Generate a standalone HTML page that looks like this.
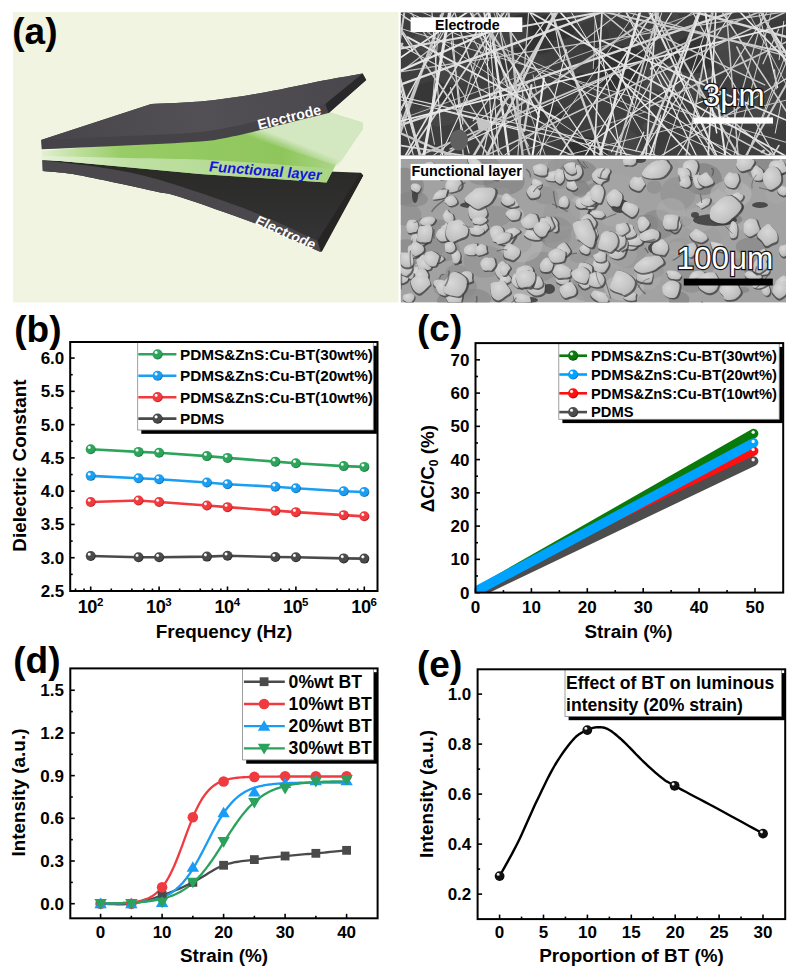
<!DOCTYPE html>
<html><head><meta charset="utf-8"><style>
html,body{margin:0;padding:0;background:#fff;}
svg{display:block;}
text{font-family:"Liberation Sans", sans-serif;}
</style></head><body>
<svg width="797" height="976" viewBox="0 0 797 976">
<defs><radialGradient id="sbg" cx="0.42" cy="0.4" r="0.62" fx="0.33" fy="0.3"><stop offset="0" stop-color="#ffffff"/><stop offset="0.14" stop-color="#ffffff"/><stop offset="0.32" stop-color="#2ca55b"/><stop offset="0.78" stop-color="#2ca55b"/><stop offset="1" stop-color="#17693a"/></radialGradient><radialGradient id="sbb" cx="0.42" cy="0.4" r="0.62" fx="0.33" fy="0.3"><stop offset="0" stop-color="#ffffff"/><stop offset="0.14" stop-color="#ffffff"/><stop offset="0.32" stop-color="#1b9df2"/><stop offset="0.78" stop-color="#1b9df2"/><stop offset="1" stop-color="#0a5d9a"/></radialGradient><radialGradient id="sbr" cx="0.42" cy="0.4" r="0.62" fx="0.33" fy="0.3"><stop offset="0" stop-color="#ffffff"/><stop offset="0.14" stop-color="#ffffff"/><stop offset="0.32" stop-color="#f03a3e"/><stop offset="0.78" stop-color="#f03a3e"/><stop offset="1" stop-color="#a01519"/></radialGradient><radialGradient id="sbk" cx="0.42" cy="0.4" r="0.62" fx="0.33" fy="0.3"><stop offset="0" stop-color="#ffffff"/><stop offset="0.14" stop-color="#ffffff"/><stop offset="0.32" stop-color="#4a4a4a"/><stop offset="0.78" stop-color="#4a4a4a"/><stop offset="1" stop-color="#1a1a1a"/></radialGradient><clipPath id="cpc"><rect x="475.5" y="343.1" width="307.70000000000005" height="249.5"/></clipPath><radialGradient id="sc0" cx="0.42" cy="0.4" r="0.62" fx="0.33" fy="0.3"><stop offset="0" stop-color="#ffffff"/><stop offset="0.14" stop-color="#ffffff"/><stop offset="0.32" stop-color="#0a7a0a"/><stop offset="0.78" stop-color="#0a7a0a"/><stop offset="1" stop-color="#033d03"/></radialGradient><radialGradient id="sc1" cx="0.42" cy="0.4" r="0.62" fx="0.33" fy="0.3"><stop offset="0" stop-color="#ffffff"/><stop offset="0.14" stop-color="#ffffff"/><stop offset="0.32" stop-color="#00a2ff"/><stop offset="0.78" stop-color="#00a2ff"/><stop offset="1" stop-color="#005a99"/></radialGradient><radialGradient id="sc2" cx="0.42" cy="0.4" r="0.62" fx="0.33" fy="0.3"><stop offset="0" stop-color="#ffffff"/><stop offset="0.14" stop-color="#ffffff"/><stop offset="0.32" stop-color="#ff1010"/><stop offset="0.78" stop-color="#ff1010"/><stop offset="1" stop-color="#990000"/></radialGradient><radialGradient id="sc3" cx="0.42" cy="0.4" r="0.62" fx="0.33" fy="0.3"><stop offset="0" stop-color="#ffffff"/><stop offset="0.14" stop-color="#ffffff"/><stop offset="0.32" stop-color="#4d4d4d"/><stop offset="0.78" stop-color="#4d4d4d"/><stop offset="1" stop-color="#1a1a1a"/></radialGradient><radialGradient id="se" cx="0.42" cy="0.4" r="0.62" fx="0.33" fy="0.3"><stop offset="0" stop-color="#f0f0f0"/><stop offset="0.14" stop-color="#f0f0f0"/><stop offset="0.32" stop-color="#111111"/><stop offset="0.78" stop-color="#111111"/><stop offset="1" stop-color="#000000"/></radialGradient><linearGradient id="gsheet" x1="41" y1="0" x2="364" y2="0" gradientUnits="userSpaceOnUse"><stop offset="0" stop-color="#e3f0d3"/><stop offset="0.08" stop-color="#c8e4ab"/><stop offset="0.25" stop-color="#98cc66"/><stop offset="0.75" stop-color="#8fc65c"/><stop offset="0.9" stop-color="#a8d483"/><stop offset="1" stop-color="#c8e3b0"/></linearGradient><linearGradient id="gband" x1="41" y1="0" x2="340" y2="0" gradientUnits="userSpaceOnUse"><stop offset="0" stop-color="#e6f2da"/><stop offset="0.3" stop-color="#bfe0a3"/><stop offset="1" stop-color="#a9d585"/></linearGradient><linearGradient id="gpale" x1="291.5" y1="153" x2="298.5" y2="135" gradientUnits="userSpaceOnUse"><stop offset="0" stop-color="#d3e8c1" stop-opacity="0"/><stop offset="0.6" stop-color="#d3e8c1" stop-opacity="1"/></linearGradient><linearGradient id="gbtop" x1="0" y1="170" x2="0" y2="245" gradientUnits="userSpaceOnUse"><stop offset="0" stop-color="#2a2a27"/><stop offset="1" stop-color="#353437"/></linearGradient><linearGradient id="gttop" x1="40" y1="140" x2="360" y2="80" gradientUnits="userSpaceOnUse"><stop offset="0" stop-color="#47454a"/><stop offset="0.5" stop-color="#525055"/><stop offset="1" stop-color="#49474c"/></linearGradient><clipPath id="cps1"><rect x="400.8" y="12.4" width="385.2" height="143.0"/></clipPath><clipPath id="cps2"><rect x="400.8" y="159.0" width="385.2" height="143.39999999999998"/></clipPath><radialGradient id="gpart" cx="0.4" cy="0.35" r="0.8"><stop offset="0" stop-color="#d8d8d8"/><stop offset="0.6" stop-color="#c4c4c4"/><stop offset="1" stop-color="#b0b0b0"/></radialGradient></defs>
<rect width="797" height="976" fill="#fff"/>
<rect x="13" y="12" width="385.5" height="290.4" fill="#f1f4e1"/>
<polygon points="42.4,160.3 360.7,172.7 363.2,175.6 320.50,252.00 317.84,250.84 314.30,249.30 310.09,247.47 305.41,245.44 300.45,243.28 295.43,241.10 290.55,238.98 286.00,237.00 281.94,235.19 278.24,233.48 274.69,231.81 271.06,230.12 267.15,228.36 262.73,226.45 257.58,224.35 251.50,222.00 243.99,219.22 235.07,215.98 225.22,212.48 214.97,208.88 204.81,205.35 195.26,202.08 186.82,199.24 180.00,197.00 175.02,195.45 171.50,194.44 169.03,193.85 167.20,193.52 165.59,193.31 163.80,193.08 161.40,192.69 158.00,192.00 153.65,191.04 148.78,189.96 143.50,188.80 137.94,187.58 132.21,186.33 126.45,185.08 120.77,183.86 115.30,182.70 109.88,181.55 104.35,180.37 98.76,179.18 93.20,178.01 87.74,176.89 82.45,175.85 77.42,174.91 72.70,174.10 68.15,173.43 63.63,172.87 59.24,172.40 55.09,172.01 51.26,171.69 47.88,171.43 45.02,171.20 42.80,171.00" fill="url(#gbtop)"/>
<polygon points="42.40,160.30 46.44,160.77 51.88,161.38 58.36,162.11 65.53,162.93 73.03,163.81 80.52,164.71 87.62,165.62 94.00,166.50 99.76,167.34 105.29,168.17 110.64,169.01 115.87,169.88 121.03,170.79 126.19,171.76 131.39,172.83 136.70,174.00 141.89,175.21 146.82,176.42 151.65,177.66 156.55,179.00 161.67,180.47 167.18,182.13 173.23,184.03 180.00,186.20 187.63,188.69 196.02,191.46 204.99,194.47 214.33,197.67 223.85,201.00 233.35,204.41 242.63,207.86 251.50,211.30 260.46,214.98 269.93,219.06 279.55,223.34 288.97,227.62 297.83,231.70 305.77,235.40 312.45,238.49 317.50,240.80 320.5,251.7 320.50,252.00 317.84,250.84 314.30,249.30 310.09,247.47 305.41,245.44 300.45,243.28 295.43,241.10 290.55,238.98 286.00,237.00 281.94,235.19 278.24,233.48 274.69,231.81 271.06,230.12 267.15,228.36 262.73,226.45 257.58,224.35 251.50,222.00 243.99,219.22 235.07,215.98 225.22,212.48 214.97,208.88 204.81,205.35 195.26,202.08 186.82,199.24 180.00,197.00 175.02,195.45 171.50,194.44 169.03,193.85 167.20,193.52 165.59,193.31 163.80,193.08 161.40,192.69 158.00,192.00 153.65,191.04 148.78,189.96 143.50,188.80 137.94,187.58 132.21,186.33 126.45,185.08 120.77,183.86 115.30,182.70 109.88,181.55 104.35,180.37 98.76,179.18 93.20,178.01 87.74,176.89 82.45,175.85 77.42,174.91 72.70,174.10 68.15,173.43 63.63,172.87 59.24,172.40 55.09,172.01 51.26,171.69 47.88,171.43 45.02,171.20 42.80,171.00" fill="#4a484d"/>
<polygon points="360.7,172.7 363.2,175.6 321.5,252.3 317.5,240.8" fill="#262523"/>
<path d="M41.7,151.0 L120,144.5 L200,137.5 L256.5,128 L326.5,111.5 L362.6,122.6 L362.6,129.4 L335.5,165.5 L326.5,182.4 L200,174.0 L41.7,159.2 Z" fill="url(#gsheet)"/>
<path d="M240,134 L326.5,111.5 L362.6,122.6 L362.6,129.4 L338,166 Z" fill="url(#gpale)"/>
<path d="M41.7,156.0 C100,157.5 160,158.5 200,159.5 C250,162 300,166 333,169 L326.5,182.4 L200,174.0 L41.7,159.2 Z" fill="url(#gband)"/>
<polygon points="41,140 151.20,103.90 155.55,103.70 161.32,103.47 168.20,103.21 175.84,102.89 183.94,102.50 192.17,102.03 200.19,101.47 207.70,100.80 214.85,100.01 222.04,99.11 229.25,98.11 236.47,97.03 243.70,95.89 250.94,94.69 258.17,93.46 265.40,92.20 272.75,90.86 280.27,89.40 287.88,87.87 295.44,86.30 302.87,84.74 310.04,83.25 316.85,81.85 323.20,80.60 329.27,79.46 335.27,78.36 341.05,77.33 346.51,76.38 351.52,75.51 355.95,74.75 359.69,74.11 362.60,73.60 366.2,79.9 328.70,113.00 325.68,113.74 321.62,114.73 316.79,115.91 311.44,117.22 305.83,118.59 300.22,119.97 294.85,121.30 290.00,122.50 285.52,123.63 281.10,124.75 276.75,125.87 272.49,126.97 268.32,128.04 264.26,129.07 260.32,130.06 256.50,131.00 252.88,131.88 249.46,132.71 246.20,133.50 243.03,134.25 239.89,134.97 236.71,135.66 233.43,136.34 230.00,137.00 226.76,137.64 223.92,138.24 221.20,138.81 218.34,139.36 215.07,139.89 211.10,140.42 206.17,140.96 200.00,141.50 192.38,142.05 183.48,142.61 173.59,143.16 163.02,143.71 152.07,144.25 141.05,144.79 130.26,145.30 120.00,145.80 109.60,146.30 98.47,146.81 87.07,147.32 75.85,147.82 65.25,148.28 55.73,148.69 47.73,149.04 41.70,149.30" fill="#454348"/>
<polygon points="41,140 151.20,103.90 155.55,103.70 161.32,103.47 168.20,103.21 175.84,102.89 183.94,102.50 192.17,102.03 200.19,101.47 207.70,100.80 214.85,100.01 222.04,99.11 229.25,98.11 236.47,97.03 243.70,95.89 250.94,94.69 258.17,93.46 265.40,92.20 272.75,90.86 280.27,89.40 287.88,87.87 295.44,86.30 302.87,84.74 310.04,83.25 316.85,81.85 323.20,80.60 329.27,79.46 335.27,78.36 341.05,77.33 346.51,76.38 351.52,75.51 355.95,74.75 359.69,74.11 362.60,73.60 325.30,104.00 323.48,104.56 321.19,105.29 318.49,106.15 315.40,107.12 311.97,108.17 308.23,109.27 304.23,110.39 300.00,111.50 295.48,112.63 290.60,113.81 285.40,115.04 279.92,116.31 274.20,117.60 268.28,118.91 262.20,120.21 256.00,121.50 249.74,122.83 243.41,124.24 236.93,125.67 230.25,127.11 223.29,128.49 215.97,129.80 208.23,130.98 200.00,132.00 191.14,132.84 181.66,133.52 171.71,134.09 161.44,134.57 150.98,135.00 140.49,135.41 130.12,135.83 120.00,136.30 109.54,136.82 98.33,137.35 86.83,137.89 75.50,138.42 64.79,138.91 55.17,139.35 47.09,139.72 41.00,140.00" fill="url(#gttop)"/>
<polygon points="362.6,73.6 366.2,79.9 328.7,113.0 325.3,104.0" fill="#29282a"/>
<text transform="translate(259.1,129.7) rotate(-14)" font-size="14.2" font-weight="700" fill="#fff">Electrode</text>
<text transform="translate(208.3,171.2) rotate(4.6) skewX(-8)" font-size="14.7" font-weight="700" fill="#1414dc">Functional layer</text>
<text transform="translate(254.0,223.7) rotate(24) skewX(-6)" font-size="14.1" font-weight="700" fill="#fff">Electrode</text>
<rect x="400.8" y="12.4" width="385.2" height="143.0" fill="#3e3e3e"/>
<g clip-path="url(#cps1)">
<ellipse cx="525.5" cy="34.0" rx="22.3" ry="20.3" fill="rgb(42,42,42)" opacity="0.6"/>
<ellipse cx="437.1" cy="95.7" rx="28.0" ry="14.5" fill="rgb(51,51,51)" opacity="0.6"/>
<ellipse cx="567.8" cy="22.4" rx="10.0" ry="5.3" fill="rgb(65,65,65)" opacity="0.6"/>
<ellipse cx="618.6" cy="147.9" rx="21.9" ry="21.3" fill="rgb(75,75,75)" opacity="0.6"/>
<ellipse cx="623.1" cy="69.1" rx="29.5" ry="22.9" fill="rgb(40,40,40)" opacity="0.6"/>
<ellipse cx="452.1" cy="72.3" rx="19.9" ry="13.0" fill="rgb(74,74,74)" opacity="0.6"/>
<ellipse cx="715.2" cy="38.2" rx="20.8" ry="12.4" fill="rgb(78,78,78)" opacity="0.6"/>
<ellipse cx="438.3" cy="114.2" rx="20.4" ry="12.3" fill="rgb(77,77,77)" opacity="0.6"/>
<ellipse cx="662.9" cy="73.5" rx="14.9" ry="14.3" fill="rgb(75,75,75)" opacity="0.6"/>
<ellipse cx="540.1" cy="47.9" rx="12.0" ry="6.5" fill="rgb(53,53,53)" opacity="0.6"/>
<ellipse cx="516.5" cy="83.2" rx="15.6" ry="10.0" fill="rgb(66,66,66)" opacity="0.6"/>
<ellipse cx="778.4" cy="29.3" rx="17.2" ry="9.9" fill="rgb(59,59,59)" opacity="0.6"/>
<ellipse cx="589.1" cy="18.0" rx="22.7" ry="17.9" fill="rgb(73,73,73)" opacity="0.6"/>
<ellipse cx="738.0" cy="57.3" rx="23.3" ry="17.4" fill="rgb(76,76,76)" opacity="0.6"/>
<ellipse cx="707.8" cy="22.2" rx="10.1" ry="7.4" fill="rgb(55,55,55)" opacity="0.6"/>
<ellipse cx="656.6" cy="21.1" rx="23.4" ry="18.5" fill="rgb(79,79,79)" opacity="0.6"/>
<ellipse cx="663.2" cy="76.1" rx="23.8" ry="16.0" fill="rgb(80,80,80)" opacity="0.6"/>
<ellipse cx="763.1" cy="63.2" rx="21.4" ry="11.4" fill="rgb(69,69,69)" opacity="0.6"/>
<ellipse cx="696.7" cy="30.9" rx="13.4" ry="12.9" fill="rgb(63,63,63)" opacity="0.6"/>
<ellipse cx="592.1" cy="36.2" rx="16.8" ry="15.9" fill="rgb(55,55,55)" opacity="0.6"/>
<ellipse cx="716.4" cy="135.9" rx="14.1" ry="14.0" fill="rgb(64,64,64)" opacity="0.6"/>
<ellipse cx="663.8" cy="66.8" rx="13.1" ry="7.7" fill="rgb(43,43,43)" opacity="0.6"/>
<ellipse cx="490.1" cy="45.8" rx="18.7" ry="11.0" fill="rgb(75,75,75)" opacity="0.6"/>
<ellipse cx="509.4" cy="33.2" rx="19.8" ry="15.5" fill="rgb(77,77,77)" opacity="0.6"/>
<ellipse cx="767.9" cy="111.1" rx="19.3" ry="16.0" fill="rgb(77,77,77)" opacity="0.6"/>
<ellipse cx="685.8" cy="77.7" rx="27.2" ry="18.9" fill="rgb(73,73,73)" opacity="0.6"/>
<ellipse cx="554.5" cy="27.2" rx="22.0" ry="13.1" fill="rgb(41,41,41)" opacity="0.6"/>
<ellipse cx="780.1" cy="75.4" rx="10.4" ry="5.5" fill="rgb(76,76,76)" opacity="0.6"/>
<ellipse cx="400.9" cy="34.0" rx="10.2" ry="8.3" fill="rgb(61,61,61)" opacity="0.6"/>
<ellipse cx="427.9" cy="42.1" rx="16.3" ry="10.2" fill="rgb(78,78,78)" opacity="0.6"/>
<ellipse cx="534.6" cy="64.5" rx="10.7" ry="10.7" fill="rgb(69,69,69)" opacity="0.6"/>
<ellipse cx="580.3" cy="81.6" rx="9.9" ry="8.7" fill="rgb(44,44,44)" opacity="0.6"/>
<ellipse cx="686.0" cy="80.8" rx="23.2" ry="11.9" fill="rgb(71,71,71)" opacity="0.6"/>
<ellipse cx="767.1" cy="87.9" rx="11.2" ry="10.7" fill="rgb(72,72,72)" opacity="0.6"/>
<ellipse cx="692.8" cy="55.0" rx="22.1" ry="18.8" fill="rgb(43,43,43)" opacity="0.6"/>
<ellipse cx="501.4" cy="64.8" rx="11.7" ry="8.9" fill="rgb(52,52,52)" opacity="0.6"/>
<ellipse cx="700.9" cy="59.5" rx="12.9" ry="11.7" fill="rgb(50,50,50)" opacity="0.6"/>
<ellipse cx="716.0" cy="118.2" rx="13.0" ry="9.7" fill="rgb(71,71,71)" opacity="0.6"/>
<ellipse cx="682.4" cy="153.9" rx="25.4" ry="16.0" fill="rgb(68,68,68)" opacity="0.6"/>
<ellipse cx="667.6" cy="149.2" rx="17.8" ry="17.4" fill="rgb(60,60,60)" opacity="0.6"/>
<ellipse cx="541.3" cy="43.9" rx="13.0" ry="8.7" fill="rgb(50,50,50)" opacity="0.6"/>
<ellipse cx="586.7" cy="153.3" rx="21.4" ry="15.8" fill="rgb(38,38,38)" opacity="0.6"/>
<ellipse cx="652.3" cy="126.7" rx="9.9" ry="5.5" fill="rgb(80,80,80)" opacity="0.6"/>
<ellipse cx="550.5" cy="114.1" rx="12.4" ry="8.9" fill="rgb(49,49,49)" opacity="0.6"/>
<ellipse cx="645.7" cy="24.8" rx="28.8" ry="21.1" fill="rgb(63,63,63)" opacity="0.6"/>
<line x1="699.3" y1="78.6" x2="700.0" y2="97.8" stroke="rgb(231,231,231)" stroke-width="1.1" stroke-linecap="round"/>
<line x1="772.6" y1="7.4" x2="732.7" y2="160.4" stroke="rgb(193,193,193)" stroke-width="1.1" stroke-linecap="round"/>
<line x1="445.6" y1="7.4" x2="395.8" y2="137.3" stroke="rgb(204,204,204)" stroke-width="1.7" stroke-linecap="round"/>
<line x1="736.9" y1="47.1" x2="760.6" y2="97.1" stroke="rgb(200,200,200)" stroke-width="1.7" stroke-linecap="round"/>
<line x1="746.3" y1="7.4" x2="395.8" y2="126.7" stroke="rgb(218,218,218)" stroke-width="2.4" stroke-linecap="round"/>
<line x1="652.8" y1="7.4" x2="741.1" y2="160.4" stroke="rgb(203,203,203)" stroke-width="2.0" stroke-linecap="round"/>
<line x1="568.5" y1="7.4" x2="658.0" y2="160.4" stroke="rgb(227,227,227)" stroke-width="1.0" stroke-linecap="round"/>
<line x1="444.4" y1="7.4" x2="395.8" y2="145.6" stroke="rgb(195,195,195)" stroke-width="2.4" stroke-linecap="round"/>
<line x1="397.3" y1="7.4" x2="737.0" y2="160.4" stroke="rgb(220,220,220)" stroke-width="1.0" stroke-linecap="round"/>
<line x1="531.5" y1="85.1" x2="524.1" y2="130.9" stroke="rgb(207,207,207)" stroke-width="2.4" stroke-linecap="round"/>
<line x1="791.0" y1="75.6" x2="653.6" y2="160.4" stroke="rgb(220,220,220)" stroke-width="1.2" stroke-linecap="round"/>
<line x1="439.4" y1="18.6" x2="432.0" y2="109.8" stroke="rgb(201,201,201)" stroke-width="1.0" stroke-linecap="round"/>
<line x1="781.1" y1="103.1" x2="775.2" y2="133.1" stroke="rgb(217,217,217)" stroke-width="1.0" stroke-linecap="round"/>
<line x1="677.6" y1="7.4" x2="791.0" y2="38.1" stroke="rgb(217,217,217)" stroke-width="2.4" stroke-linecap="round"/>
<line x1="533.0" y1="74.8" x2="536.4" y2="92.2" stroke="rgb(216,216,216)" stroke-width="0.8" stroke-linecap="round"/>
<line x1="529.0" y1="7.4" x2="517.5" y2="160.4" stroke="rgb(198,198,198)" stroke-width="1.2" stroke-linecap="round"/>
<line x1="474.4" y1="7.4" x2="395.8" y2="60.8" stroke="rgb(235,235,235)" stroke-width="1.7" stroke-linecap="round"/>
<line x1="726.0" y1="7.4" x2="738.5" y2="160.4" stroke="rgb(197,197,197)" stroke-width="1.5" stroke-linecap="round"/>
<line x1="487.7" y1="10.0" x2="488.8" y2="21.0" stroke="rgb(197,197,197)" stroke-width="1.3" stroke-linecap="round"/>
<line x1="659.0" y1="71.3" x2="712.0" y2="159.5" stroke="rgb(231,231,231)" stroke-width="1.3" stroke-linecap="round"/>
<line x1="400.0" y1="29.7" x2="412.7" y2="50.6" stroke="rgb(232,232,232)" stroke-width="1.3" stroke-linecap="round"/>
<line x1="471.7" y1="10.2" x2="488.5" y2="60.5" stroke="rgb(194,194,194)" stroke-width="1.3" stroke-linecap="round"/>
<line x1="405.1" y1="7.4" x2="395.8" y2="67.3" stroke="rgb(198,198,198)" stroke-width="2.0" stroke-linecap="round"/>
<line x1="700.8" y1="7.4" x2="640.1" y2="160.4" stroke="rgb(211,211,211)" stroke-width="2.4" stroke-linecap="round"/>
<line x1="770.0" y1="7.4" x2="674.6" y2="160.4" stroke="rgb(217,217,217)" stroke-width="1.1" stroke-linecap="round"/>
<line x1="656.4" y1="7.4" x2="645.7" y2="160.4" stroke="rgb(224,224,224)" stroke-width="1.7" stroke-linecap="round"/>
<line x1="646.5" y1="7.4" x2="718.9" y2="160.4" stroke="rgb(209,209,209)" stroke-width="1.1" stroke-linecap="round"/>
<line x1="791.0" y1="10.9" x2="395.8" y2="72.6" stroke="rgb(194,194,194)" stroke-width="1.2" stroke-linecap="round"/>
<line x1="791.0" y1="64.1" x2="787.6" y2="160.4" stroke="rgb(209,209,209)" stroke-width="2.0" stroke-linecap="round"/>
<line x1="595.1" y1="21.1" x2="593.3" y2="68.5" stroke="rgb(217,217,217)" stroke-width="0.8" stroke-linecap="round"/>
<line x1="395.8" y1="71.4" x2="420.8" y2="160.4" stroke="rgb(234,234,234)" stroke-width="1.1" stroke-linecap="round"/>
<line x1="791.0" y1="76.2" x2="743.3" y2="160.4" stroke="rgb(201,201,201)" stroke-width="2.0" stroke-linecap="round"/>
<line x1="488.5" y1="7.4" x2="509.4" y2="160.4" stroke="rgb(232,232,232)" stroke-width="2.4" stroke-linecap="round"/>
<line x1="639.1" y1="7.4" x2="533.0" y2="160.4" stroke="rgb(235,235,235)" stroke-width="0.8" stroke-linecap="round"/>
<line x1="403.7" y1="16.8" x2="429.7" y2="31.9" stroke="rgb(198,198,198)" stroke-width="1.5" stroke-linecap="round"/>
<line x1="494.0" y1="7.4" x2="598.7" y2="160.4" stroke="rgb(223,223,223)" stroke-width="1.2" stroke-linecap="round"/>
<line x1="487.8" y1="7.4" x2="499.1" y2="160.4" stroke="rgb(234,234,234)" stroke-width="1.0" stroke-linecap="round"/>
<line x1="674.8" y1="7.4" x2="582.4" y2="160.4" stroke="rgb(238,238,238)" stroke-width="1.2" stroke-linecap="round"/>
<line x1="713.4" y1="7.4" x2="662.0" y2="160.4" stroke="rgb(222,222,222)" stroke-width="1.0" stroke-linecap="round"/>
<line x1="768.6" y1="51.7" x2="777.6" y2="87.5" stroke="rgb(231,231,231)" stroke-width="1.3" stroke-linecap="round"/>
<line x1="623.7" y1="7.4" x2="698.7" y2="160.4" stroke="rgb(235,235,235)" stroke-width="1.2" stroke-linecap="round"/>
<line x1="549.6" y1="7.4" x2="604.1" y2="160.4" stroke="rgb(204,204,204)" stroke-width="2.4" stroke-linecap="round"/>
<line x1="498.2" y1="84.9" x2="481.8" y2="159.6" stroke="rgb(216,216,216)" stroke-width="1.3" stroke-linecap="round"/>
<line x1="450.5" y1="87.6" x2="469.1" y2="153.2" stroke="rgb(230,230,230)" stroke-width="1.1" stroke-linecap="round"/>
<line x1="645.3" y1="111.9" x2="522.0" y2="150.7" stroke="rgb(202,202,202)" stroke-width="0.8" stroke-linecap="round"/>
<line x1="398.3" y1="12.5" x2="398.2" y2="13.0" stroke="rgb(192,192,192)" stroke-width="1.5" stroke-linecap="round"/>
<line x1="553.7" y1="9.2" x2="473.3" y2="120.6" stroke="rgb(215,215,215)" stroke-width="1.3" stroke-linecap="round"/>
<line x1="484.6" y1="7.4" x2="395.8" y2="75.7" stroke="rgb(195,195,195)" stroke-width="1.3" stroke-linecap="round"/>
<line x1="617.7" y1="74.1" x2="769.5" y2="156.0" stroke="rgb(204,204,204)" stroke-width="1.5" stroke-linecap="round"/>
<line x1="716.1" y1="7.4" x2="708.0" y2="160.4" stroke="rgb(227,227,227)" stroke-width="1.7" stroke-linecap="round"/>
<line x1="592.8" y1="7.4" x2="622.1" y2="160.4" stroke="rgb(233,233,233)" stroke-width="1.1" stroke-linecap="round"/>
<line x1="725.7" y1="91.8" x2="694.8" y2="104.5" stroke="rgb(239,239,239)" stroke-width="1.3" stroke-linecap="round"/>
<line x1="713.9" y1="7.4" x2="685.3" y2="160.4" stroke="rgb(199,199,199)" stroke-width="1.7" stroke-linecap="round"/>
<line x1="450.0" y1="7.4" x2="463.7" y2="160.4" stroke="rgb(220,220,220)" stroke-width="1.2" stroke-linecap="round"/>
<line x1="783.8" y1="21.3" x2="779.1" y2="59.7" stroke="rgb(212,212,212)" stroke-width="1.0" stroke-linecap="round"/>
<line x1="507.5" y1="7.4" x2="404.5" y2="160.4" stroke="rgb(216,216,216)" stroke-width="1.7" stroke-linecap="round"/>
<line x1="566.4" y1="49.9" x2="539.7" y2="155.5" stroke="rgb(235,235,235)" stroke-width="1.1" stroke-linecap="round"/>
<line x1="686.3" y1="45.4" x2="650.8" y2="68.6" stroke="rgb(219,219,219)" stroke-width="2.0" stroke-linecap="round"/>
<line x1="770.7" y1="153.6" x2="765.4" y2="158.0" stroke="rgb(229,229,229)" stroke-width="2.0" stroke-linecap="round"/>
<line x1="627.2" y1="7.4" x2="395.8" y2="49.4" stroke="rgb(220,220,220)" stroke-width="2.0" stroke-linecap="round"/>
<line x1="482.4" y1="7.4" x2="531.4" y2="160.4" stroke="rgb(197,197,197)" stroke-width="2.0" stroke-linecap="round"/>
<line x1="610.1" y1="7.4" x2="791.0" y2="57.4" stroke="rgb(200,200,200)" stroke-width="1.3" stroke-linecap="round"/>
<line x1="667.1" y1="53.4" x2="611.4" y2="151.8" stroke="rgb(216,216,216)" stroke-width="1.2" stroke-linecap="round"/>
<line x1="453.2" y1="7.4" x2="500.8" y2="160.4" stroke="rgb(212,212,212)" stroke-width="1.3" stroke-linecap="round"/>
<line x1="660.6" y1="115.2" x2="653.4" y2="154.4" stroke="rgb(195,195,195)" stroke-width="1.3" stroke-linecap="round"/>
<line x1="522.4" y1="135.6" x2="571.4" y2="154.8" stroke="rgb(223,223,223)" stroke-width="1.2" stroke-linecap="round"/>
<line x1="402.2" y1="43.7" x2="400.8" y2="46.5" stroke="rgb(196,196,196)" stroke-width="2.4" stroke-linecap="round"/>
<line x1="451.4" y1="41.3" x2="462.9" y2="123.8" stroke="rgb(198,198,198)" stroke-width="1.3" stroke-linecap="round"/>
<line x1="745.9" y1="7.4" x2="791.0" y2="93.6" stroke="rgb(230,230,230)" stroke-width="0.8" stroke-linecap="round"/>
<line x1="440.5" y1="15.3" x2="440.6" y2="16.6" stroke="rgb(220,220,220)" stroke-width="1.7" stroke-linecap="round"/>
<line x1="596.6" y1="7.4" x2="779.4" y2="160.4" stroke="rgb(204,204,204)" stroke-width="1.5" stroke-linecap="round"/>
<line x1="395.8" y1="144.8" x2="494.0" y2="160.4" stroke="rgb(215,215,215)" stroke-width="1.7" stroke-linecap="round"/>
<line x1="771.3" y1="29.9" x2="787.1" y2="54.8" stroke="rgb(240,240,240)" stroke-width="2.4" stroke-linecap="round"/>
<line x1="395.8" y1="10.6" x2="615.4" y2="160.4" stroke="rgb(237,237,237)" stroke-width="0.8" stroke-linecap="round"/>
<line x1="665.3" y1="7.4" x2="437.0" y2="160.4" stroke="rgb(193,193,193)" stroke-width="2.0" stroke-linecap="round"/>
<line x1="659.9" y1="7.4" x2="614.4" y2="160.4" stroke="rgb(196,196,196)" stroke-width="2.0" stroke-linecap="round"/>
<line x1="719.1" y1="7.4" x2="791.0" y2="118.5" stroke="rgb(209,209,209)" stroke-width="1.5" stroke-linecap="round"/>
<line x1="495.7" y1="7.4" x2="523.7" y2="160.4" stroke="rgb(211,211,211)" stroke-width="1.3" stroke-linecap="round"/>
<line x1="712.2" y1="7.4" x2="395.8" y2="120.8" stroke="rgb(206,206,206)" stroke-width="0.8" stroke-linecap="round"/>
<line x1="490.7" y1="7.4" x2="402.6" y2="160.4" stroke="rgb(223,223,223)" stroke-width="1.7" stroke-linecap="round"/>
<line x1="431.6" y1="7.4" x2="443.0" y2="160.4" stroke="rgb(230,230,230)" stroke-width="1.1" stroke-linecap="round"/>
<line x1="560.1" y1="7.4" x2="470.9" y2="160.4" stroke="rgb(204,204,204)" stroke-width="2.4" stroke-linecap="round"/>
<line x1="557.3" y1="7.4" x2="484.7" y2="160.4" stroke="rgb(212,212,212)" stroke-width="2.4" stroke-linecap="round"/>
<line x1="407.8" y1="7.4" x2="505.7" y2="160.4" stroke="rgb(198,198,198)" stroke-width="1.2" stroke-linecap="round"/>
<line x1="684.6" y1="77.9" x2="588.6" y2="143.8" stroke="rgb(239,239,239)" stroke-width="1.2" stroke-linecap="round"/>
<line x1="486.1" y1="48.4" x2="488.9" y2="50.1" stroke="rgb(239,239,239)" stroke-width="1.3" stroke-linecap="round"/>
<line x1="472.0" y1="36.2" x2="528.7" y2="146.3" stroke="rgb(217,217,217)" stroke-width="1.0" stroke-linecap="round"/>
<line x1="501.8" y1="13.1" x2="470.8" y2="78.4" stroke="rgb(222,222,222)" stroke-width="0.8" stroke-linecap="round"/>
<line x1="765.2" y1="7.4" x2="722.9" y2="160.4" stroke="rgb(199,199,199)" stroke-width="1.2" stroke-linecap="round"/>
<line x1="439.1" y1="109.6" x2="520.8" y2="130.3" stroke="rgb(234,234,234)" stroke-width="1.3" stroke-linecap="round"/>
<line x1="778.7" y1="29.0" x2="763.0" y2="63.8" stroke="rgb(208,208,208)" stroke-width="1.2" stroke-linecap="round"/>
<line x1="791.0" y1="24.1" x2="395.8" y2="122.1" stroke="rgb(235,235,235)" stroke-width="1.7" stroke-linecap="round"/>
<line x1="474.1" y1="7.4" x2="577.1" y2="160.4" stroke="rgb(196,196,196)" stroke-width="2.0" stroke-linecap="round"/>
<line x1="395.8" y1="95.7" x2="677.4" y2="160.4" stroke="rgb(217,217,217)" stroke-width="1.1" stroke-linecap="round"/>
<line x1="647.9" y1="7.4" x2="718.7" y2="160.4" stroke="rgb(239,239,239)" stroke-width="1.3" stroke-linecap="round"/>
<line x1="656.4" y1="7.4" x2="556.6" y2="160.4" stroke="rgb(233,233,233)" stroke-width="1.5" stroke-linecap="round"/>
<line x1="395.8" y1="22.0" x2="492.0" y2="160.4" stroke="rgb(199,199,199)" stroke-width="1.7" stroke-linecap="round"/>
<line x1="787.2" y1="41.5" x2="649.8" y2="106.3" stroke="rgb(197,197,197)" stroke-width="1.7" stroke-linecap="round"/>
<line x1="395.8" y1="98.7" x2="653.0" y2="160.4" stroke="rgb(225,225,225)" stroke-width="1.1" stroke-linecap="round"/>
<line x1="457.2" y1="7.4" x2="395.8" y2="117.5" stroke="rgb(211,211,211)" stroke-width="1.2" stroke-linecap="round"/>
<line x1="630.3" y1="66.7" x2="450.0" y2="149.1" stroke="rgb(232,232,232)" stroke-width="1.1" stroke-linecap="round"/>
<line x1="734.8" y1="7.4" x2="637.4" y2="160.4" stroke="rgb(228,228,228)" stroke-width="1.1" stroke-linecap="round"/>
<line x1="479.9" y1="45.2" x2="459.2" y2="118.3" stroke="rgb(194,194,194)" stroke-width="1.2" stroke-linecap="round"/>
<line x1="521.5" y1="7.4" x2="791.0" y2="159.1" stroke="rgb(230,230,230)" stroke-width="1.7" stroke-linecap="round"/>
<line x1="395.8" y1="42.6" x2="610.3" y2="160.4" stroke="rgb(219,219,219)" stroke-width="1.2" stroke-linecap="round"/>
<line x1="543.9" y1="78.6" x2="532.1" y2="158.3" stroke="rgb(240,240,240)" stroke-width="2.0" stroke-linecap="round"/>
<line x1="791.0" y1="99.0" x2="546.0" y2="160.4" stroke="rgb(200,200,200)" stroke-width="1.0" stroke-linecap="round"/>
<line x1="411.5" y1="7.4" x2="753.0" y2="160.4" stroke="rgb(232,232,232)" stroke-width="0.8" stroke-linecap="round"/>
<line x1="430.2" y1="122.5" x2="434.5" y2="144.3" stroke="rgb(193,193,193)" stroke-width="1.1" stroke-linecap="round"/>
<line x1="623.9" y1="82.7" x2="734.6" y2="157.6" stroke="rgb(235,235,235)" stroke-width="1.1" stroke-linecap="round"/>
<line x1="652.5" y1="7.4" x2="718.8" y2="160.4" stroke="rgb(212,212,212)" stroke-width="1.1" stroke-linecap="round"/>
<line x1="583.8" y1="7.4" x2="791.0" y2="53.7" stroke="rgb(205,205,205)" stroke-width="2.0" stroke-linecap="round"/>
<line x1="618.4" y1="69.1" x2="633.3" y2="104.8" stroke="rgb(235,235,235)" stroke-width="1.3" stroke-linecap="round"/>
<line x1="395.8" y1="27.1" x2="791.0" y2="143.8" stroke="rgb(232,232,232)" stroke-width="0.8" stroke-linecap="round"/>
<line x1="791.0" y1="40.6" x2="745.5" y2="160.4" stroke="rgb(208,208,208)" stroke-width="1.0" stroke-linecap="round"/>
<line x1="778.9" y1="145.5" x2="770.3" y2="160.1" stroke="rgb(213,213,213)" stroke-width="1.5" stroke-linecap="round"/>
<line x1="700.7" y1="46.2" x2="716.7" y2="132.8" stroke="rgb(238,238,238)" stroke-width="1.5" stroke-linecap="round"/>
<line x1="395.8" y1="62.3" x2="421.5" y2="160.4" stroke="rgb(215,215,215)" stroke-width="2.4" stroke-linecap="round"/>
<line x1="757.7" y1="7.8" x2="769.5" y2="56.9" stroke="rgb(225,225,225)" stroke-width="1.0" stroke-linecap="round"/>
<line x1="515.0" y1="80.1" x2="505.3" y2="102.9" stroke="rgb(192,192,192)" stroke-width="1.1" stroke-linecap="round"/>
<line x1="757.5" y1="7.4" x2="791.0" y2="61.4" stroke="rgb(217,217,217)" stroke-width="1.3" stroke-linecap="round"/>
<line x1="704.7" y1="7.4" x2="725.9" y2="160.4" stroke="rgb(230,230,230)" stroke-width="2.0" stroke-linecap="round"/>
<line x1="774.5" y1="69.5" x2="776.3" y2="88.7" stroke="rgb(202,202,202)" stroke-width="1.2" stroke-linecap="round"/>
<line x1="395.8" y1="96.9" x2="415.0" y2="160.4" stroke="rgb(218,218,218)" stroke-width="1.1" stroke-linecap="round"/>
<line x1="509.7" y1="7.4" x2="438.1" y2="160.4" stroke="rgb(224,224,224)" stroke-width="1.1" stroke-linecap="round"/>
<line x1="508.0" y1="7.4" x2="523.1" y2="160.4" stroke="rgb(192,192,192)" stroke-width="2.4" stroke-linecap="round"/>
<line x1="626.8" y1="7.4" x2="426.9" y2="160.4" stroke="rgb(206,206,206)" stroke-width="1.1" stroke-linecap="round"/>
<line x1="763.7" y1="150.8" x2="761.8" y2="151.9" stroke="rgb(208,208,208)" stroke-width="2.4" stroke-linecap="round"/>
<line x1="698.9" y1="7.4" x2="497.8" y2="160.4" stroke="rgb(208,208,208)" stroke-width="1.1" stroke-linecap="round"/>
<line x1="689.9" y1="7.4" x2="777.4" y2="160.4" stroke="rgb(216,216,216)" stroke-width="1.2" stroke-linecap="round"/>
<line x1="614.8" y1="7.4" x2="395.8" y2="86.3" stroke="rgb(222,222,222)" stroke-width="2.4" stroke-linecap="round"/>
<line x1="526.3" y1="7.4" x2="630.0" y2="160.4" stroke="rgb(228,228,228)" stroke-width="1.2" stroke-linecap="round"/>
<line x1="791.0" y1="51.2" x2="744.5" y2="160.4" stroke="rgb(201,201,201)" stroke-width="1.1" stroke-linecap="round"/>
<line x1="396.6" y1="7.4" x2="395.8" y2="13.3" stroke="rgb(193,193,193)" stroke-width="0.8" stroke-linecap="round"/>
<line x1="453.7" y1="7.4" x2="395.8" y2="120.6" stroke="rgb(229,229,229)" stroke-width="1.0" stroke-linecap="round"/>
<line x1="769.7" y1="7.4" x2="407.8" y2="160.4" stroke="rgb(198,198,198)" stroke-width="1.7" stroke-linecap="round"/>
<line x1="483.8" y1="7.4" x2="493.7" y2="160.4" stroke="rgb(240,240,240)" stroke-width="1.0" stroke-linecap="round"/>
<line x1="623.4" y1="7.4" x2="718.2" y2="160.4" stroke="rgb(210,210,210)" stroke-width="1.2" stroke-linecap="round"/>
<line x1="512.6" y1="63.7" x2="539.2" y2="116.9" stroke="rgb(230,230,230)" stroke-width="1.5" stroke-linecap="round"/>
<line x1="602.3" y1="7.4" x2="593.9" y2="160.4" stroke="rgb(225,225,225)" stroke-width="1.7" stroke-linecap="round"/>
<line x1="617.4" y1="15.6" x2="764.7" y2="84.9" stroke="rgb(202,202,202)" stroke-width="1.3" stroke-linecap="round"/>
<line x1="554.4" y1="22.0" x2="561.3" y2="60.6" stroke="rgb(223,223,223)" stroke-width="1.1" stroke-linecap="round"/>
<line x1="643.8" y1="132.1" x2="635.9" y2="151.0" stroke="rgb(223,223,223)" stroke-width="1.2" stroke-linecap="round"/>
<line x1="395.8" y1="131.1" x2="462.7" y2="160.4" stroke="rgb(198,198,198)" stroke-width="2.4" stroke-linecap="round"/>
<line x1="663.2" y1="7.4" x2="618.7" y2="160.4" stroke="rgb(219,219,219)" stroke-width="1.0" stroke-linecap="round"/>
<line x1="759.0" y1="7.4" x2="791.0" y2="72.1" stroke="rgb(202,202,202)" stroke-width="2.4" stroke-linecap="round"/>
<line x1="492.0" y1="7.4" x2="547.1" y2="160.4" stroke="rgb(214,214,214)" stroke-width="0.8" stroke-linecap="round"/>
<line x1="791.0" y1="9.4" x2="475.7" y2="160.4" stroke="rgb(202,202,202)" stroke-width="1.5" stroke-linecap="round"/>
<ellipse cx="459" cy="140" rx="9" ry="10.5" fill="#606060"/>
<polygon points="476,118 490,121.5 487,131 478.5,129.5" fill="#c4c4c4"/>
<line x1="449.6" y1="12.0" x2="423.8" y2="155.4" stroke="#e6e6e6" stroke-width="3.0" stroke-linecap="round"/>
<line x1="400.0" y1="71.0" x2="486.0" y2="33.0" stroke="#e6e6e6" stroke-width="2.2" stroke-linecap="round"/>
<line x1="407.5" y1="37.1" x2="560.0" y2="120.0" stroke="#e6e6e6" stroke-width="1.8" stroke-linecap="round"/>
<line x1="470.0" y1="12.0" x2="520.0" y2="100.0" stroke="#e6e6e6" stroke-width="1.6" stroke-linecap="round"/>
<line x1="640.0" y1="12.0" x2="600.0" y2="155.0" stroke="#e6e6e6" stroke-width="2.6" stroke-linecap="round"/>
<line x1="560.0" y1="12.0" x2="690.0" y2="155.0" stroke="#e6e6e6" stroke-width="1.8" stroke-linecap="round"/>
<line x1="700.0" y1="12.0" x2="650.0" y2="155.0" stroke="#e6e6e6" stroke-width="2.0" stroke-linecap="round"/>
<line x1="740.0" y1="12.0" x2="786.0" y2="60.0" stroke="#e6e6e6" stroke-width="1.6" stroke-linecap="round"/>
<line x1="600.0" y1="40.0" x2="786.0" y2="120.0" stroke="#e6e6e6" stroke-width="1.6" stroke-linecap="round"/>
</g>
<rect x="410.6" y="17.3" width="111.7" height="14.7" fill="#fff"/>
<text x="435.00" y="30.40" font-size="14.2" font-weight="700" text-anchor="start" fill="#000" >Electrode</text>
<rect x="693.4" y="117.4" width="79.6" height="6.2" fill="#fff"/>
<text x="702.8" y="106.4" font-size="31.5" font-weight="400" fill="#fff" stroke="#111" stroke-width="2.4" paint-order="stroke">3μm</text>
<rect x="400.8" y="159.0" width="385.2" height="143.39999999999998" fill="#a2a2a2"/>
<g clip-path="url(#cps2)">
<ellipse cx="579.2" cy="257.8" rx="9.4" ry="5.3" fill="rgb(149,149,149)" opacity="0.6"/>
<ellipse cx="578.8" cy="285.9" rx="9.0" ry="5.7" fill="rgb(144,144,144)" opacity="0.6"/>
<ellipse cx="691.5" cy="277.5" rx="15.5" ry="15.3" fill="rgb(139,139,139)" opacity="0.6"/>
<ellipse cx="679.4" cy="245.5" rx="10.9" ry="7.3" fill="rgb(150,150,150)" opacity="0.6"/>
<ellipse cx="473.7" cy="298.8" rx="17.4" ry="10.1" fill="rgb(133,133,133)" opacity="0.6"/>
<ellipse cx="654.2" cy="187.0" rx="7.6" ry="6.8" fill="rgb(138,138,138)" opacity="0.6"/>
<ellipse cx="683.3" cy="221.4" rx="8.3" ry="5.3" fill="rgb(133,133,133)" opacity="0.6"/>
<ellipse cx="741.8" cy="225.5" rx="5.2" ry="4.4" fill="rgb(175,175,175)" opacity="0.6"/>
<ellipse cx="593.6" cy="249.7" rx="12.9" ry="8.1" fill="rgb(138,138,138)" opacity="0.6"/>
<ellipse cx="685.2" cy="159.8" rx="9.1" ry="7.8" fill="rgb(175,175,175)" opacity="0.6"/>
<ellipse cx="627.1" cy="251.8" rx="19.4" ry="16.3" fill="rgb(149,149,149)" opacity="0.6"/>
<ellipse cx="647.9" cy="224.1" rx="10.3" ry="9.8" fill="rgb(132,132,132)" opacity="0.6"/>
<ellipse cx="494.2" cy="216.4" rx="17.1" ry="10.7" fill="rgb(140,140,140)" opacity="0.6"/>
<ellipse cx="564.0" cy="224.3" rx="15.6" ry="11.8" fill="rgb(172,172,172)" opacity="0.6"/>
<ellipse cx="655.5" cy="284.2" rx="20.2" ry="18.0" fill="rgb(161,161,161)" opacity="0.6"/>
<ellipse cx="550.5" cy="229.2" rx="21.6" ry="13.5" fill="rgb(124,124,124)" opacity="0.6"/>
<ellipse cx="484.7" cy="261.7" rx="21.2" ry="16.1" fill="rgb(145,145,145)" opacity="0.6"/>
<ellipse cx="439.7" cy="241.4" rx="14.2" ry="10.7" fill="rgb(180,180,180)" opacity="0.6"/>
<ellipse cx="647.0" cy="277.9" rx="13.9" ry="12.1" fill="rgb(172,172,172)" opacity="0.6"/>
<ellipse cx="576.8" cy="301.0" rx="8.1" ry="7.2" fill="rgb(185,185,185)" opacity="0.6"/>
<ellipse cx="447.9" cy="300.2" rx="11.0" ry="6.9" fill="rgb(127,127,127)" opacity="0.6"/>
<ellipse cx="547.9" cy="167.8" rx="6.3" ry="5.1" fill="rgb(173,173,173)" opacity="0.6"/>
<ellipse cx="660.8" cy="242.2" rx="6.9" ry="6.0" fill="rgb(158,158,158)" opacity="0.6"/>
<ellipse cx="762.9" cy="234.6" rx="8.7" ry="6.4" fill="rgb(170,170,170)" opacity="0.6"/>
<ellipse cx="464.2" cy="292.3" rx="6.2" ry="4.5" fill="rgb(144,144,144)" opacity="0.6"/>
<ellipse cx="617.3" cy="191.4" rx="21.4" ry="17.8" fill="rgb(165,165,165)" opacity="0.6"/>
<ellipse cx="720.8" cy="273.0" rx="12.0" ry="10.6" fill="rgb(157,157,157)" opacity="0.6"/>
<ellipse cx="651.0" cy="270.8" rx="13.0" ry="8.2" fill="rgb(149,149,149)" opacity="0.6"/>
<ellipse cx="545.7" cy="195.4" rx="12.2" ry="9.1" fill="rgb(143,143,143)" opacity="0.6"/>
<ellipse cx="711.1" cy="273.6" rx="11.1" ry="7.3" fill="rgb(158,158,158)" opacity="0.6"/>
<ellipse cx="587.6" cy="248.4" rx="6.5" ry="3.7" fill="rgb(166,166,166)" opacity="0.6"/>
<ellipse cx="517.6" cy="214.2" rx="6.4" ry="6.1" fill="rgb(192,192,192)" opacity="0.6"/>
<ellipse cx="702.8" cy="179.1" rx="19.1" ry="15.9" fill="rgb(121,121,121)" opacity="0.6"/>
<ellipse cx="481.6" cy="169.3" rx="10.0" ry="7.9" fill="rgb(132,132,132)" opacity="0.6"/>
<ellipse cx="729.8" cy="185.6" rx="12.7" ry="7.7" fill="rgb(139,139,139)" opacity="0.6"/>
<ellipse cx="555.8" cy="235.7" rx="15.4" ry="12.8" fill="rgb(131,131,131)" opacity="0.6"/>
<ellipse cx="745.1" cy="272.0" rx="19.3" ry="14.4" fill="rgb(145,145,145)" opacity="0.6"/>
<ellipse cx="482.9" cy="170.3" rx="19.3" ry="15.0" fill="rgb(134,134,134)" opacity="0.6"/>
<ellipse cx="502.7" cy="192.6" rx="7.4" ry="5.7" fill="rgb(183,183,183)" opacity="0.6"/>
<ellipse cx="587.4" cy="288.8" rx="16.9" ry="12.7" fill="rgb(151,151,151)" opacity="0.6"/>
<ellipse cx="608.6" cy="282.7" rx="5.1" ry="3.8" fill="rgb(161,161,161)" opacity="0.6"/>
<ellipse cx="617.5" cy="254.4" rx="19.3" ry="13.8" fill="rgb(167,167,167)" opacity="0.6"/>
<ellipse cx="786.0" cy="255.9" rx="8.1" ry="6.6" fill="rgb(166,166,166)" opacity="0.6"/>
<ellipse cx="411.8" cy="246.4" rx="16.6" ry="15.0" fill="rgb(162,162,162)" opacity="0.6"/>
<ellipse cx="437.0" cy="228.4" rx="17.9" ry="9.2" fill="rgb(138,138,138)" opacity="0.6"/>
<ellipse cx="677.4" cy="248.7" rx="10.8" ry="7.2" fill="rgb(166,166,166)" opacity="0.6"/>
<ellipse cx="700.7" cy="238.5" rx="20.5" ry="14.7" fill="rgb(156,156,156)" opacity="0.6"/>
<ellipse cx="563.5" cy="238.4" rx="19.1" ry="12.9" fill="rgb(157,157,157)" opacity="0.6"/>
<ellipse cx="591.0" cy="206.9" rx="21.7" ry="14.6" fill="rgb(184,184,184)" opacity="0.6"/>
<ellipse cx="479.2" cy="229.6" rx="7.0" ry="4.6" fill="rgb(144,144,144)" opacity="0.6"/>
<ellipse cx="516.1" cy="243.1" rx="15.8" ry="11.0" fill="rgb(125,125,125)" opacity="0.6"/>
<ellipse cx="614.3" cy="217.2" rx="14.8" ry="9.6" fill="rgb(171,171,171)" opacity="0.6"/>
<ellipse cx="403.2" cy="186.2" rx="20.7" ry="18.5" fill="rgb(127,127,127)" opacity="0.6"/>
<ellipse cx="751.3" cy="246.7" rx="15.5" ry="9.4" fill="rgb(130,130,130)" opacity="0.6"/>
<ellipse cx="657.7" cy="224.7" rx="18.0" ry="14.9" fill="rgb(132,132,132)" opacity="0.6"/>
<ellipse cx="735.6" cy="219.5" rx="6.7" ry="4.6" fill="rgb(121,121,121)" opacity="0.6"/>
<ellipse cx="717.7" cy="271.8" rx="14.6" ry="13.6" fill="rgb(153,153,153)" opacity="0.6"/>
<ellipse cx="472.0" cy="163.9" rx="5.3" ry="4.4" fill="rgb(192,192,192)" opacity="0.6"/>
<ellipse cx="760.5" cy="166.8" rx="14.6" ry="13.4" fill="rgb(125,125,125)" opacity="0.6"/>
<ellipse cx="698.9" cy="219.4" rx="16.8" ry="12.2" fill="rgb(171,171,171)" opacity="0.6"/>
<ellipse cx="406.2" cy="214.5" rx="15.1" ry="11.1" fill="rgb(139,139,139)" opacity="0.6"/>
<ellipse cx="559.7" cy="173.6" rx="16.0" ry="15.1" fill="rgb(147,147,147)" opacity="0.6"/>
<ellipse cx="642.3" cy="220.2" rx="5.2" ry="5.1" fill="rgb(135,135,135)" opacity="0.6"/>
<ellipse cx="731.5" cy="190.3" rx="7.1" ry="3.6" fill="rgb(180,180,180)" opacity="0.6"/>
<ellipse cx="677.9" cy="193.7" rx="17.5" ry="16.8" fill="rgb(143,143,143)" opacity="0.6"/>
<ellipse cx="541.7" cy="266.2" rx="16.8" ry="14.5" fill="rgb(138,138,138)" opacity="0.6"/>
<ellipse cx="433.3" cy="249.1" rx="17.1" ry="14.2" fill="rgb(178,178,178)" opacity="0.6"/>
<ellipse cx="743.6" cy="290.0" rx="5.9" ry="3.0" fill="rgb(124,124,124)" opacity="0.6"/>
<ellipse cx="406.5" cy="252.3" rx="18.9" ry="13.1" fill="rgb(130,130,130)" opacity="0.6"/>
<ellipse cx="521.2" cy="245.1" rx="21.3" ry="17.1" fill="rgb(182,182,182)" opacity="0.6"/>
<ellipse cx="522.6" cy="295.1" rx="17.4" ry="14.6" fill="rgb(180,180,180)" opacity="0.6"/>
<ellipse cx="456.6" cy="273.3" rx="11.2" ry="9.1" fill="rgb(140,140,140)" opacity="0.6"/>
<ellipse cx="561.8" cy="214.3" rx="18.4" ry="16.4" fill="rgb(154,154,154)" opacity="0.6"/>
<ellipse cx="619.1" cy="200.9" rx="6.0" ry="5.6" fill="rgb(162,162,162)" opacity="0.6"/>
<ellipse cx="680.3" cy="161.2" rx="7.6" ry="6.0" fill="rgb(159,159,159)" opacity="0.6"/>
<ellipse cx="776.9" cy="194.3" rx="11.6" ry="9.3" fill="rgb(168,168,168)" opacity="0.6"/>
<ellipse cx="746.0" cy="274.8" rx="9.8" ry="6.5" fill="rgb(120,120,120)" opacity="0.6"/>
<ellipse cx="504.0" cy="181.6" rx="20.7" ry="13.3" fill="rgb(125,125,125)" opacity="0.6"/>
<ellipse cx="455.0" cy="286.7" rx="21.9" ry="13.9" fill="rgb(138,138,138)" opacity="0.6"/>
<ellipse cx="728.7" cy="274.7" rx="16.6" ry="11.2" fill="rgb(183,183,183)" opacity="0.6"/>
<ellipse cx="433.6" cy="238.4" rx="18.6" ry="16.6" fill="rgb(145,145,145)" opacity="0.6"/>
<ellipse cx="679.0" cy="299.9" rx="10.3" ry="8.6" fill="rgb(127,127,127)" opacity="0.6"/>
<ellipse cx="580.0" cy="188.6" rx="9.3" ry="8.4" fill="rgb(121,121,121)" opacity="0.6"/>
<ellipse cx="577.9" cy="171.6" rx="18.7" ry="11.5" fill="rgb(128,128,128)" opacity="0.6"/>
<ellipse cx="624.1" cy="287.6" rx="20.0" ry="13.2" fill="rgb(186,186,186)" opacity="0.6"/>
<ellipse cx="595.8" cy="187.9" rx="8.6" ry="5.1" fill="rgb(131,131,131)" opacity="0.6"/>
<ellipse cx="670.8" cy="211.0" rx="14.6" ry="13.0" fill="rgb(171,171,171)" opacity="0.6"/>
<ellipse cx="730.9" cy="194.3" rx="20.7" ry="14.2" fill="rgb(183,183,183)" opacity="0.6"/>
<ellipse cx="441.7" cy="249.7" rx="18.4" ry="12.1" fill="rgb(139,139,139)" opacity="0.6"/>
<ellipse cx="412.5" cy="199.2" rx="15.3" ry="7.9" fill="rgb(132,132,132)" opacity="0.6"/>
<ellipse cx="444" cy="192" rx="4" ry="3.5" fill="#3a3a3a" opacity="0.85"/>
<ellipse cx="549" cy="289" rx="6" ry="5" fill="#3a3a3a" opacity="0.85"/>
<ellipse cx="501" cy="230" rx="2.5" ry="2" fill="#3a3a3a" opacity="0.85"/>
<ellipse cx="688" cy="174" rx="5" ry="4" fill="#3a3a3a" opacity="0.85"/>
<ellipse cx="620" cy="206" rx="9" ry="7" fill="#3a3a3a" opacity="0.85"/>
<ellipse cx="715" cy="220" rx="22" ry="6" fill="#3a3a3a" opacity="0.85"/>
<ellipse cx="656" cy="248" rx="8" ry="6" fill="#3a3a3a" opacity="0.85"/>
<ellipse cx="470" cy="205" rx="10" ry="3" fill="#3a3a3a" opacity="0.85"/>
<ellipse cx="590" cy="218" rx="3" ry="9" fill="#3a3a3a" opacity="0.85"/>
<ellipse cx="640" cy="160" rx="6" ry="3" fill="#3a3a3a" opacity="0.85"/>
<ellipse cx="760" cy="205" rx="8" ry="3" fill="#3a3a3a" opacity="0.85"/>
<ellipse cx="415" cy="195" rx="3" ry="8" fill="#3a3a3a" opacity="0.85"/>
<ellipse cx="530" cy="300" rx="8" ry="3" fill="#3a3a3a" opacity="0.85"/>
<ellipse cx="460" cy="262" rx="2" ry="2" fill="#3a3a3a" opacity="0.85"/>
<ellipse cx="695" cy="215" rx="4" ry="3" fill="#3a3a3a" opacity="0.85"/>
<g transform="translate(782.3,283.2) rotate(24)"><path transform="translate(0.9,1.2) scale(1.08)" d="M6.6,0.2C6.5,1.4 5.8,2.8 5.2,3.9C4.5,5.1 4.3,6.5 2.7,6.9C1.1,7.3 -2.6,7.1 -4.2,6.4C-5.8,5.7 -6.4,3.8 -6.7,2.5C-6.9,1.2 -6.4,0.2 -5.7,-1.4C-5.0,-2.9 -3.7,-5.9 -2.7,-6.9C-1.6,-7.9 -0.6,-8.0 0.8,-7.4C2.1,-6.8 4.5,-4.6 5.4,-3.3C6.4,-2.0 6.6,-1.0 6.6,0.2Z" fill="#3c3c3c" opacity="0.75"/><path d="M6.6,0.2C6.5,1.4 5.8,2.8 5.2,3.9C4.5,5.1 4.3,6.5 2.7,6.9C1.1,7.3 -2.6,7.1 -4.2,6.4C-5.8,5.7 -6.4,3.8 -6.7,2.5C-6.9,1.2 -6.4,0.2 -5.7,-1.4C-5.0,-2.9 -3.7,-5.9 -2.7,-6.9C-1.6,-7.9 -0.6,-8.0 0.8,-7.4C2.1,-6.8 4.5,-4.6 5.4,-3.3C6.4,-2.0 6.6,-1.0 6.6,0.2Z" fill="url(#gpart)"/></g>
<g transform="translate(501.6,270.7) rotate(6)"><path transform="translate(0.9,1.2) scale(1.08)" d="M6.4,1.5C6.3,3.5 4.6,4.7 3.8,5.9C3.0,7.1 2.6,8.5 1.5,8.7C0.5,9.0 -1.1,8.3 -2.4,7.2C-3.8,6.0 -5.9,3.4 -6.4,1.6C-6.8,-0.1 -5.8,-2.1 -5.3,-3.4C-4.9,-4.8 -4.7,-5.3 -3.8,-6.3C-2.8,-7.4 -1.0,-9.7 0.4,-9.7C1.8,-9.6 3.7,-7.9 4.7,-6.0C5.7,-4.1 6.6,-0.5 6.4,1.5Z" fill="#3c3c3c" opacity="0.75"/><path d="M6.4,1.5C6.3,3.5 4.6,4.7 3.8,5.9C3.0,7.1 2.6,8.5 1.5,8.7C0.5,9.0 -1.1,8.3 -2.4,7.2C-3.8,6.0 -5.9,3.4 -6.4,1.6C-6.8,-0.1 -5.8,-2.1 -5.3,-3.4C-4.9,-4.8 -4.7,-5.3 -3.8,-6.3C-2.8,-7.4 -1.0,-9.7 0.4,-9.7C1.8,-9.6 3.7,-7.9 4.7,-6.0C5.7,-4.1 6.6,-0.5 6.4,1.5Z" fill="url(#gpart)"/></g>
<g transform="translate(696.3,276.4) rotate(-23)"><path transform="translate(0.9,1.2) scale(1.08)" d="M9.0,0.1C9.2,1.1 7.3,1.8 6.4,2.7C5.4,3.5 5.0,5.1 3.3,5.3C1.6,5.6 -2.0,4.7 -3.9,4.2C-5.7,3.6 -7.1,3.0 -7.8,2.1C-8.4,1.3 -8.4,0.0 -7.7,-1.0C-7.1,-2.1 -5.3,-3.6 -3.9,-4.3C-2.6,-5.1 -1.2,-5.6 0.4,-5.4C2.0,-5.3 4.2,-4.5 5.7,-3.6C7.1,-2.6 8.9,-1.0 9.0,0.1Z" fill="#3c3c3c" opacity="0.75"/><path d="M9.0,0.1C9.2,1.1 7.3,1.8 6.4,2.7C5.4,3.5 5.0,5.1 3.3,5.3C1.6,5.6 -2.0,4.7 -3.9,4.2C-5.7,3.6 -7.1,3.0 -7.8,2.1C-8.4,1.3 -8.4,0.0 -7.7,-1.0C-7.1,-2.1 -5.3,-3.6 -3.9,-4.3C-2.6,-5.1 -1.2,-5.6 0.4,-5.4C2.0,-5.3 4.2,-4.5 5.7,-3.6C7.1,-2.6 8.9,-1.0 9.0,0.1Z" fill="url(#gpart)"/></g>
<g transform="translate(415.4,187.8) rotate(20)"><path transform="translate(0.9,1.2) scale(1.08)" d="M5.1,-0.6C5.1,0.5 4.5,2.7 3.9,3.4C3.3,4.2 2.7,3.8 1.5,3.8C0.4,3.8 -1.9,3.8 -2.9,3.3C-4.0,2.8 -4.4,1.5 -4.7,0.6C-5.0,-0.3 -4.8,-1.5 -4.6,-2.1C-4.3,-2.8 -3.9,-3.0 -3.1,-3.4C-2.3,-3.7 -1.1,-4.5 0.2,-4.5C1.4,-4.5 3.4,-4.1 4.2,-3.4C5.0,-2.8 5.2,-1.8 5.1,-0.6Z" fill="#3c3c3c" opacity="0.75"/><path d="M5.1,-0.6C5.1,0.5 4.5,2.7 3.9,3.4C3.3,4.2 2.7,3.8 1.5,3.8C0.4,3.8 -1.9,3.8 -2.9,3.3C-4.0,2.8 -4.4,1.5 -4.7,0.6C-5.0,-0.3 -4.8,-1.5 -4.6,-2.1C-4.3,-2.8 -3.9,-3.0 -3.1,-3.4C-2.3,-3.7 -1.1,-4.5 0.2,-4.5C1.4,-4.5 3.4,-4.1 4.2,-3.4C5.0,-2.8 5.2,-1.8 5.1,-0.6Z" fill="url(#gpart)"/></g>
<g transform="translate(420.4,238.9) rotate(5)"><path transform="translate(0.9,1.2) scale(1.08)" d="M8.2,-0.3C8.0,1.2 7.3,2.8 6.0,3.7C4.6,4.6 2.0,5.0 0.2,5.3C-1.6,5.6 -3.1,5.7 -4.6,5.3C-6.1,4.9 -8.1,4.0 -8.8,2.8C-9.5,1.6 -9.8,-0.6 -9.0,-1.9C-8.2,-3.2 -5.6,-4.4 -4.0,-5.0C-2.3,-5.5 -0.8,-5.2 1.0,-5.2C2.8,-5.2 5.6,-5.8 6.8,-5.0C7.9,-4.2 8.3,-1.7 8.2,-0.3Z" fill="#3c3c3c" opacity="0.75"/><path d="M8.2,-0.3C8.0,1.2 7.3,2.8 6.0,3.7C4.6,4.6 2.0,5.0 0.2,5.3C-1.6,5.6 -3.1,5.7 -4.6,5.3C-6.1,4.9 -8.1,4.0 -8.8,2.8C-9.5,1.6 -9.8,-0.6 -9.0,-1.9C-8.2,-3.2 -5.6,-4.4 -4.0,-5.0C-2.3,-5.5 -0.8,-5.2 1.0,-5.2C2.8,-5.2 5.6,-5.8 6.8,-5.0C7.9,-4.2 8.3,-1.7 8.2,-0.3Z" fill="url(#gpart)"/></g>
<g transform="translate(765.7,289.5) rotate(-11)"><path transform="translate(0.9,1.2) scale(1.08)" d="M4.1,0.4C4.1,1.6 3.9,3.3 3.4,4.2C2.8,5.2 1.6,5.9 0.8,6.2C-0.1,6.4 -0.8,6.5 -1.5,5.9C-2.3,5.3 -3.3,4.0 -3.7,2.6C-4.1,1.2 -4.1,-1.1 -4.0,-2.6C-3.8,-4.1 -3.8,-5.7 -2.8,-6.5C-1.9,-7.2 0.4,-7.8 1.5,-7.3C2.5,-6.7 3.1,-4.4 3.5,-3.1C3.9,-1.8 4.1,-0.8 4.1,0.4Z" fill="#3c3c3c" opacity="0.75"/><path d="M4.1,0.4C4.1,1.6 3.9,3.3 3.4,4.2C2.8,5.2 1.6,5.9 0.8,6.2C-0.1,6.4 -0.8,6.5 -1.5,5.9C-2.3,5.3 -3.3,4.0 -3.7,2.6C-4.1,1.2 -4.1,-1.1 -4.0,-2.6C-3.8,-4.1 -3.8,-5.7 -2.8,-6.5C-1.9,-7.2 0.4,-7.8 1.5,-7.3C2.5,-6.7 3.1,-4.4 3.5,-3.1C3.9,-1.8 4.1,-0.8 4.1,0.4Z" fill="url(#gpart)"/></g>
<g transform="translate(553.9,176.2) rotate(-13)"><path transform="translate(0.9,1.2) scale(1.08)" d="M9.8,-1.0C10.0,0.1 7.7,2.3 6.5,3.3C5.2,4.4 4.0,5.2 2.1,5.2C0.2,5.3 -3.1,4.5 -4.9,3.8C-6.7,3.1 -8.3,1.9 -8.7,1.0C-9.2,0.1 -8.1,-0.9 -7.7,-1.8C-7.4,-2.7 -8.4,-3.9 -6.7,-4.5C-5.0,-5.1 0.7,-5.5 2.7,-5.3C4.6,-5.1 3.9,-4.0 5.1,-3.3C6.3,-2.6 9.6,-2.1 9.8,-1.0Z" fill="#3c3c3c" opacity="0.75"/><path d="M9.8,-1.0C10.0,0.1 7.7,2.3 6.5,3.3C5.2,4.4 4.0,5.2 2.1,5.2C0.2,5.3 -3.1,4.5 -4.9,3.8C-6.7,3.1 -8.3,1.9 -8.7,1.0C-9.2,0.1 -8.1,-0.9 -7.7,-1.8C-7.4,-2.7 -8.4,-3.9 -6.7,-4.5C-5.0,-5.1 0.7,-5.5 2.7,-5.3C4.6,-5.1 3.9,-4.0 5.1,-3.3C6.3,-2.6 9.6,-2.1 9.8,-1.0Z" fill="url(#gpart)"/></g>
<g transform="translate(618.2,250.9) rotate(-20)"><path transform="translate(0.9,1.2) scale(1.08)" d="M8.7,-0.8C8.6,0.4 7.4,2.3 6.3,3.6C5.3,4.9 4.2,6.5 2.4,7.1C0.7,7.7 -2.0,8.0 -4.0,7.2C-6.0,6.4 -8.8,3.9 -9.6,2.4C-10.4,0.9 -9.9,-0.3 -8.9,-1.7C-8.0,-3.1 -5.3,-5.0 -3.9,-6.0C-2.4,-7.0 -2.1,-8.2 -0.3,-7.8C1.6,-7.4 5.8,-4.8 7.3,-3.6C8.8,-2.4 8.9,-2.0 8.7,-0.8Z" fill="#3c3c3c" opacity="0.75"/><path d="M8.7,-0.8C8.6,0.4 7.4,2.3 6.3,3.6C5.3,4.9 4.2,6.5 2.4,7.1C0.7,7.7 -2.0,8.0 -4.0,7.2C-6.0,6.4 -8.8,3.9 -9.6,2.4C-10.4,0.9 -9.9,-0.3 -8.9,-1.7C-8.0,-3.1 -5.3,-5.0 -3.9,-6.0C-2.4,-7.0 -2.1,-8.2 -0.3,-7.8C1.6,-7.4 5.8,-4.8 7.3,-3.6C8.8,-2.4 8.9,-2.0 8.7,-0.8Z" fill="url(#gpart)"/></g>
<g transform="translate(552.2,223.3) rotate(-27)"><path transform="translate(0.9,1.2) scale(1.08)" d="M5.3,1.2C5.3,2.6 4.7,2.6 4.1,3.8C3.5,5.1 2.9,7.9 1.8,8.8C0.8,9.6 -1.3,10.0 -2.3,8.8C-3.4,7.7 -4.0,3.8 -4.3,1.8C-4.7,-0.2 -4.9,-1.7 -4.6,-3.4C-4.2,-5.1 -3.2,-7.9 -2.4,-8.5C-1.5,-9.2 -0.7,-8.0 0.4,-7.3C1.5,-6.5 3.6,-5.5 4.4,-4.1C5.2,-2.7 5.4,-0.1 5.3,1.2Z" fill="#3c3c3c" opacity="0.75"/><path d="M5.3,1.2C5.3,2.6 4.7,2.6 4.1,3.8C3.5,5.1 2.9,7.9 1.8,8.8C0.8,9.6 -1.3,10.0 -2.3,8.8C-3.4,7.7 -4.0,3.8 -4.3,1.8C-4.7,-0.2 -4.9,-1.7 -4.6,-3.4C-4.2,-5.1 -3.2,-7.9 -2.4,-8.5C-1.5,-9.2 -0.7,-8.0 0.4,-7.3C1.5,-6.5 3.6,-5.5 4.4,-4.1C5.2,-2.7 5.4,-0.1 5.3,1.2Z" fill="url(#gpart)"/></g>
<g transform="translate(782.8,190.8) rotate(26)"><path transform="translate(0.9,1.2) scale(1.08)" d="M4.9,0.4C4.7,1.7 3.9,3.3 3.2,3.9C2.5,4.6 1.7,4.2 0.7,4.3C-0.2,4.3 -1.6,4.5 -2.5,4.1C-3.4,3.7 -4.5,2.8 -4.9,2.0C-5.2,1.1 -5.1,-0.1 -4.8,-1.1C-4.5,-2.1 -4.1,-3.6 -3.1,-4.1C-2.1,-4.7 0.0,-4.6 1.2,-4.5C2.4,-4.4 3.5,-4.5 4.1,-3.7C4.7,-2.9 5.0,-0.8 4.9,0.4Z" fill="#3c3c3c" opacity="0.75"/><path d="M4.9,0.4C4.7,1.7 3.9,3.3 3.2,3.9C2.5,4.6 1.7,4.2 0.7,4.3C-0.2,4.3 -1.6,4.5 -2.5,4.1C-3.4,3.7 -4.5,2.8 -4.9,2.0C-5.2,1.1 -5.1,-0.1 -4.8,-1.1C-4.5,-2.1 -4.1,-3.6 -3.1,-4.1C-2.1,-4.7 0.0,-4.6 1.2,-4.5C2.4,-4.4 3.5,-4.5 4.1,-3.7C4.7,-2.9 5.0,-0.8 4.9,0.4Z" fill="url(#gpart)"/></g>
<g transform="translate(536.4,288.5) rotate(8)"><path transform="translate(0.9,1.2) scale(1.08)" d="M8.4,0.1C8.4,1.8 8.6,2.6 7.5,3.7C6.4,4.9 3.5,6.5 1.7,6.9C-0.1,7.3 -1.6,7.0 -3.5,6.2C-5.3,5.4 -8.5,3.5 -9.3,2.2C-10.1,0.9 -8.9,-0.3 -8.1,-1.7C-7.3,-3.2 -6.3,-5.8 -4.4,-6.7C-2.6,-7.6 1.0,-7.1 3.0,-7.0C4.9,-7.0 6.4,-7.4 7.3,-6.2C8.2,-5.0 8.3,-1.5 8.4,0.1Z" fill="#3c3c3c" opacity="0.75"/><path d="M8.4,0.1C8.4,1.8 8.6,2.6 7.5,3.7C6.4,4.9 3.5,6.5 1.7,6.9C-0.1,7.3 -1.6,7.0 -3.5,6.2C-5.3,5.4 -8.5,3.5 -9.3,2.2C-10.1,0.9 -8.9,-0.3 -8.1,-1.7C-7.3,-3.2 -6.3,-5.8 -4.4,-6.7C-2.6,-7.6 1.0,-7.1 3.0,-7.0C4.9,-7.0 6.4,-7.4 7.3,-6.2C8.2,-5.0 8.3,-1.5 8.4,0.1Z" fill="url(#gpart)"/></g>
<g transform="translate(418.9,271.8) rotate(-21)"><path transform="translate(0.9,1.2) scale(1.08)" d="M7.6,0.2C7.7,1.8 6.7,4.2 5.6,5.2C4.4,6.2 2.2,6.0 0.5,6.1C-1.2,6.3 -3.2,6.5 -4.6,5.9C-6.1,5.4 -7.9,4.1 -8.2,2.7C-8.5,1.2 -6.9,-1.4 -6.2,-2.8C-5.6,-4.1 -5.5,-4.9 -4.4,-5.4C-3.3,-5.9 -1.2,-6.1 0.4,-5.9C2.0,-5.7 3.9,-5.4 5.1,-4.4C6.3,-3.4 7.5,-1.4 7.6,0.2Z" fill="#3c3c3c" opacity="0.75"/><path d="M7.6,0.2C7.7,1.8 6.7,4.2 5.6,5.2C4.4,6.2 2.2,6.0 0.5,6.1C-1.2,6.3 -3.2,6.5 -4.6,5.9C-6.1,5.4 -7.9,4.1 -8.2,2.7C-8.5,1.2 -6.9,-1.4 -6.2,-2.8C-5.6,-4.1 -5.5,-4.9 -4.4,-5.4C-3.3,-5.9 -1.2,-6.1 0.4,-5.9C2.0,-5.7 3.9,-5.4 5.1,-4.4C6.3,-3.4 7.5,-1.4 7.6,0.2Z" fill="url(#gpart)"/></g>
<g transform="translate(780.4,167.0) rotate(12)"><path transform="translate(0.9,1.2) scale(1.08)" d="M4.4,-0.1C4.5,1.3 4.6,3.2 4.1,4.4C3.5,5.5 2.0,6.2 1.0,6.5C0.1,6.7 -0.4,6.8 -1.5,5.9C-2.5,5.0 -4.8,2.5 -5.4,1.2C-6.1,0.0 -6.0,-0.0 -5.4,-1.5C-4.7,-2.9 -2.6,-6.2 -1.7,-7.2C-0.8,-8.2 -0.8,-7.9 0.1,-7.5C0.9,-7.0 2.7,-5.7 3.4,-4.4C4.1,-3.2 4.3,-1.6 4.4,-0.1Z" fill="#3c3c3c" opacity="0.75"/><path d="M4.4,-0.1C4.5,1.3 4.6,3.2 4.1,4.4C3.5,5.5 2.0,6.2 1.0,6.5C0.1,6.7 -0.4,6.8 -1.5,5.9C-2.5,5.0 -4.8,2.5 -5.4,1.2C-6.1,0.0 -6.0,-0.0 -5.4,-1.5C-4.7,-2.9 -2.6,-6.2 -1.7,-7.2C-0.8,-8.2 -0.8,-7.9 0.1,-7.5C0.9,-7.0 2.7,-5.7 3.4,-4.4C4.1,-3.2 4.3,-1.6 4.4,-0.1Z" fill="url(#gpart)"/></g>
<g transform="translate(762.6,256.1) rotate(3)"><path transform="translate(0.9,1.2) scale(1.08)" d="M6.5,-1.5C6.5,-0.2 5.5,3.4 4.4,4.8C3.4,6.2 1.1,6.9 0.0,7.1C-1.1,7.2 -1.5,6.3 -2.2,5.6C-2.9,4.9 -3.7,4.2 -4.3,2.7C-5.0,1.2 -6.1,-2.0 -5.8,-3.3C-5.6,-4.6 -4.2,-4.3 -3.0,-4.9C-1.8,-5.6 0.2,-7.6 1.5,-7.3C2.7,-7.0 3.7,-4.0 4.5,-3.0C5.3,-2.0 6.6,-2.8 6.5,-1.5Z" fill="#3c3c3c" opacity="0.75"/><path d="M6.5,-1.5C6.5,-0.2 5.5,3.4 4.4,4.8C3.4,6.2 1.1,6.9 0.0,7.1C-1.1,7.2 -1.5,6.3 -2.2,5.6C-2.9,4.9 -3.7,4.2 -4.3,2.7C-5.0,1.2 -6.1,-2.0 -5.8,-3.3C-5.6,-4.6 -4.2,-4.3 -3.0,-4.9C-1.8,-5.6 0.2,-7.6 1.5,-7.3C2.7,-7.0 3.7,-4.0 4.5,-3.0C5.3,-2.0 6.6,-2.8 6.5,-1.5Z" fill="url(#gpart)"/></g>
<g transform="translate(692.7,174.1) rotate(17)"><path transform="translate(0.9,1.2) scale(1.08)" d="M6.5,0.7C6.2,1.7 5.4,2.0 4.4,2.7C3.3,3.4 1.4,4.5 0.3,4.8C-0.9,5.1 -1.7,5.0 -2.8,4.6C-3.9,4.2 -5.8,3.1 -6.2,2.2C-6.5,1.3 -5.5,0.1 -5.0,-1.0C-4.4,-2.2 -4.2,-4.0 -3.0,-4.7C-1.9,-5.4 0.4,-5.5 1.9,-5.2C3.4,-4.9 5.2,-4.0 6.0,-3.0C6.7,-2.0 6.7,-0.2 6.5,0.7Z" fill="#3c3c3c" opacity="0.75"/><path d="M6.5,0.7C6.2,1.7 5.4,2.0 4.4,2.7C3.3,3.4 1.4,4.5 0.3,4.8C-0.9,5.1 -1.7,5.0 -2.8,4.6C-3.9,4.2 -5.8,3.1 -6.2,2.2C-6.5,1.3 -5.5,0.1 -5.0,-1.0C-4.4,-2.2 -4.2,-4.0 -3.0,-4.7C-1.9,-5.4 0.4,-5.5 1.9,-5.2C3.4,-4.9 5.2,-4.0 6.0,-3.0C6.7,-2.0 6.7,-0.2 6.5,0.7Z" fill="url(#gpart)"/></g>
<g transform="translate(448.6,228.0) rotate(-0)"><path transform="translate(0.9,1.2) scale(1.08)" d="M4.6,-0.0C4.5,1.0 4.8,2.1 4.3,3.0C3.9,3.8 2.9,4.7 1.8,5.0C0.8,5.3 -0.9,5.2 -1.9,4.5C-3.0,3.8 -3.9,1.6 -4.4,0.7C-4.9,-0.2 -5.2,0.0 -5.0,-0.8C-4.8,-1.6 -4.2,-3.5 -3.4,-4.3C-2.5,-5.1 -1.5,-5.8 -0.1,-5.6C1.2,-5.3 4.0,-3.8 4.8,-2.9C5.6,-2.0 4.7,-1.0 4.6,-0.0Z" fill="#3c3c3c" opacity="0.75"/><path d="M4.6,-0.0C4.5,1.0 4.8,2.1 4.3,3.0C3.9,3.8 2.9,4.7 1.8,5.0C0.8,5.3 -0.9,5.2 -1.9,4.5C-3.0,3.8 -3.9,1.6 -4.4,0.7C-4.9,-0.2 -5.2,0.0 -5.0,-0.8C-4.8,-1.6 -4.2,-3.5 -3.4,-4.3C-2.5,-5.1 -1.5,-5.8 -0.1,-5.6C1.2,-5.3 4.0,-3.8 4.8,-2.9C5.6,-2.0 4.7,-1.0 4.6,-0.0Z" fill="url(#gpart)"/></g>
<g transform="translate(455.9,256.2) rotate(-4)"><path transform="translate(0.9,1.2) scale(1.08)" d="M4.6,-0.7C4.7,0.9 3.9,3.3 3.3,4.6C2.7,5.9 2.0,6.6 1.0,6.9C0.0,7.3 -1.9,7.7 -2.7,6.7C-3.5,5.8 -3.6,2.6 -3.9,1.2C-4.1,-0.2 -4.5,-0.7 -4.2,-1.9C-3.9,-3.1 -2.7,-5.4 -2.0,-6.1C-1.3,-6.8 -0.7,-6.5 0.2,-6.3C1.1,-6.1 2.4,-5.9 3.1,-5.0C3.9,-4.1 4.6,-2.3 4.6,-0.7Z" fill="#3c3c3c" opacity="0.75"/><path d="M4.6,-0.7C4.7,0.9 3.9,3.3 3.3,4.6C2.7,5.9 2.0,6.6 1.0,6.9C0.0,7.3 -1.9,7.7 -2.7,6.7C-3.5,5.8 -3.6,2.6 -3.9,1.2C-4.1,-0.2 -4.5,-0.7 -4.2,-1.9C-3.9,-3.1 -2.7,-5.4 -2.0,-6.1C-1.3,-6.8 -0.7,-6.5 0.2,-6.3C1.1,-6.1 2.4,-5.9 3.1,-5.0C3.9,-4.1 4.6,-2.3 4.6,-0.7Z" fill="url(#gpart)"/></g>
<g transform="translate(476.0,164.2) rotate(28)"><path transform="translate(0.9,1.2) scale(1.08)" d="M10.2,0.9C10.2,2.0 8.2,3.6 6.7,4.4C5.2,5.1 3.0,5.3 1.3,5.4C-0.4,5.4 -1.7,5.5 -3.3,4.9C-4.9,4.2 -7.1,2.5 -8.2,1.4C-9.3,0.2 -10.4,-1.1 -9.9,-2.1C-9.3,-3.0 -6.7,-4.0 -4.9,-4.4C-3.1,-4.9 -1.1,-5.0 0.8,-4.6C2.7,-4.2 5.1,-3.1 6.6,-2.1C8.2,-1.2 10.2,-0.2 10.2,0.9Z" fill="#3c3c3c" opacity="0.75"/><path d="M10.2,0.9C10.2,2.0 8.2,3.6 6.7,4.4C5.2,5.1 3.0,5.3 1.3,5.4C-0.4,5.4 -1.7,5.5 -3.3,4.9C-4.9,4.2 -7.1,2.5 -8.2,1.4C-9.3,0.2 -10.4,-1.1 -9.9,-2.1C-9.3,-3.0 -6.7,-4.0 -4.9,-4.4C-3.1,-4.9 -1.1,-5.0 0.8,-4.6C2.7,-4.2 5.1,-3.1 6.6,-2.1C8.2,-1.2 10.2,-0.2 10.2,0.9Z" fill="url(#gpart)"/></g>
<g transform="translate(760.6,283.3) rotate(-19)"><path transform="translate(0.9,1.2) scale(1.08)" d="M8.8,0.3C9.3,1.2 9.3,1.7 8.2,2.4C7.1,3.1 4.2,4.2 2.1,4.5C-0.0,4.8 -2.6,4.5 -4.3,4.0C-6.0,3.5 -7.7,2.2 -8.3,1.4C-8.9,0.6 -8.7,0.2 -7.9,-0.8C-7.1,-1.7 -4.6,-3.6 -3.3,-4.3C-1.9,-5.0 -1.3,-5.3 0.2,-5.1C1.7,-4.8 4.0,-3.7 5.5,-2.8C6.9,-1.9 8.4,-0.6 8.8,0.3Z" fill="#3c3c3c" opacity="0.75"/><path d="M8.8,0.3C9.3,1.2 9.3,1.7 8.2,2.4C7.1,3.1 4.2,4.2 2.1,4.5C-0.0,4.8 -2.6,4.5 -4.3,4.0C-6.0,3.5 -7.7,2.2 -8.3,1.4C-8.9,0.6 -8.7,0.2 -7.9,-0.8C-7.1,-1.7 -4.6,-3.6 -3.3,-4.3C-1.9,-5.0 -1.3,-5.3 0.2,-5.1C1.7,-4.8 4.0,-3.7 5.5,-2.8C6.9,-1.9 8.4,-0.6 8.8,0.3Z" fill="url(#gpart)"/></g>
<g transform="translate(573.1,172.9) rotate(2)"><path transform="translate(0.9,1.2) scale(1.08)" d="M9.1,-0.8C9.0,1.2 7.6,3.5 6.3,4.7C5.0,6.0 3.0,6.4 1.2,6.8C-0.7,7.2 -3.3,7.5 -4.8,7.0C-6.3,6.5 -7.1,5.2 -7.8,3.8C-8.4,2.4 -9.6,0.5 -8.9,-1.4C-8.2,-3.2 -5.4,-6.3 -3.5,-7.4C-1.5,-8.6 0.8,-8.3 2.6,-8.3C4.3,-8.2 6.0,-8.1 7.1,-6.9C8.2,-5.6 9.3,-2.7 9.1,-0.8Z" fill="#3c3c3c" opacity="0.75"/><path d="M9.1,-0.8C9.0,1.2 7.6,3.5 6.3,4.7C5.0,6.0 3.0,6.4 1.2,6.8C-0.7,7.2 -3.3,7.5 -4.8,7.0C-6.3,6.5 -7.1,5.2 -7.8,3.8C-8.4,2.4 -9.6,0.5 -8.9,-1.4C-8.2,-3.2 -5.4,-6.3 -3.5,-7.4C-1.5,-8.6 0.8,-8.3 2.6,-8.3C4.3,-8.2 6.0,-8.1 7.1,-6.9C8.2,-5.6 9.3,-2.7 9.1,-0.8Z" fill="url(#gpart)"/></g>
<g transform="translate(642.8,223.9) rotate(13)"><path transform="translate(0.9,1.2) scale(1.08)" d="M6.7,-1.4C6.6,0.1 5.5,2.7 4.3,4.2C3.2,5.8 1.2,7.7 -0.1,7.9C-1.3,8.2 -2.4,6.6 -3.2,5.5C-4.0,4.4 -4.7,2.8 -5.1,1.6C-5.5,0.3 -5.9,-0.5 -5.7,-1.8C-5.6,-3.1 -5.2,-5.1 -4.2,-6.0C-3.2,-7.0 -1.2,-7.5 0.3,-7.2C1.9,-7.0 3.8,-5.4 4.9,-4.4C6.0,-3.4 6.8,-2.8 6.7,-1.4Z" fill="#3c3c3c" opacity="0.75"/><path d="M6.7,-1.4C6.6,0.1 5.5,2.7 4.3,4.2C3.2,5.8 1.2,7.7 -0.1,7.9C-1.3,8.2 -2.4,6.6 -3.2,5.5C-4.0,4.4 -4.7,2.8 -5.1,1.6C-5.5,0.3 -5.9,-0.5 -5.7,-1.8C-5.6,-3.1 -5.2,-5.1 -4.2,-6.0C-3.2,-7.0 -1.2,-7.5 0.3,-7.2C1.9,-7.0 3.8,-5.4 4.9,-4.4C6.0,-3.4 6.8,-2.8 6.7,-1.4Z" fill="url(#gpart)"/></g>
<g transform="translate(584.7,249.1) rotate(23)"><path transform="translate(0.9,1.2) scale(1.08)" d="M5.7,0.3C5.9,1.5 5.3,3.0 4.3,3.7C3.4,4.4 1.3,4.3 0.1,4.4C-1.1,4.4 -1.9,4.3 -2.8,3.8C-3.7,3.3 -5.0,2.2 -5.2,1.3C-5.4,0.3 -4.3,-1.0 -3.9,-2.0C-3.6,-2.9 -4.0,-3.9 -3.0,-4.4C-2.0,-4.9 0.8,-5.0 1.9,-4.9C2.9,-4.8 2.7,-4.8 3.4,-3.9C4.0,-3.0 5.5,-1.0 5.7,0.3Z" fill="#3c3c3c" opacity="0.75"/><path d="M5.7,0.3C5.9,1.5 5.3,3.0 4.3,3.7C3.4,4.4 1.3,4.3 0.1,4.4C-1.1,4.4 -1.9,4.3 -2.8,3.8C-3.7,3.3 -5.0,2.2 -5.2,1.3C-5.4,0.3 -4.3,-1.0 -3.9,-2.0C-3.6,-2.9 -4.0,-3.9 -3.0,-4.4C-2.0,-4.9 0.8,-5.0 1.9,-4.9C2.9,-4.8 2.7,-4.8 3.4,-3.9C4.0,-3.0 5.5,-1.0 5.7,0.3Z" fill="url(#gpart)"/></g>
<g transform="translate(422.7,261.3) rotate(-24)"><path transform="translate(0.9,1.2) scale(1.08)" d="M7.9,0.1C8.2,1.1 8.2,2.0 7.0,2.7C5.8,3.3 2.3,3.9 0.7,4.1C-0.9,4.4 -1.4,4.6 -2.8,4.1C-4.1,3.6 -6.7,1.8 -7.2,1.0C-7.8,0.2 -6.3,0.1 -5.9,-0.7C-5.6,-1.5 -6.0,-3.2 -5.0,-3.9C-3.9,-4.5 -1.4,-4.7 0.4,-4.6C2.1,-4.5 4.2,-4.2 5.4,-3.4C6.7,-2.6 7.7,-0.9 7.9,0.1Z" fill="#3c3c3c" opacity="0.75"/><path d="M7.9,0.1C8.2,1.1 8.2,2.0 7.0,2.7C5.8,3.3 2.3,3.9 0.7,4.1C-0.9,4.4 -1.4,4.6 -2.8,4.1C-4.1,3.6 -6.7,1.8 -7.2,1.0C-7.8,0.2 -6.3,0.1 -5.9,-0.7C-5.6,-1.5 -6.0,-3.2 -5.0,-3.9C-3.9,-4.5 -1.4,-4.7 0.4,-4.6C2.1,-4.5 4.2,-4.2 5.4,-3.4C6.7,-2.6 7.7,-0.9 7.9,0.1Z" fill="url(#gpart)"/></g>
<g transform="translate(736.2,197.2) rotate(-7)"><path transform="translate(0.9,1.2) scale(1.08)" d="M7.3,-0.7C7.3,0.3 6.4,2.2 5.2,3.2C4.1,4.2 1.6,5.1 0.4,5.3C-0.8,5.4 -1.0,4.7 -2.0,4.1C-3.0,3.6 -5.0,3.3 -5.8,2.2C-6.5,1.1 -6.6,-1.5 -6.3,-2.4C-6.0,-3.3 -5.2,-2.8 -3.8,-3.1C-2.4,-3.5 0.6,-4.7 2.1,-4.7C3.5,-4.7 3.9,-3.7 4.8,-3.1C5.6,-2.4 7.2,-1.8 7.3,-0.7Z" fill="#3c3c3c" opacity="0.75"/><path d="M7.3,-0.7C7.3,0.3 6.4,2.2 5.2,3.2C4.1,4.2 1.6,5.1 0.4,5.3C-0.8,5.4 -1.0,4.7 -2.0,4.1C-3.0,3.6 -5.0,3.3 -5.8,2.2C-6.5,1.1 -6.6,-1.5 -6.3,-2.4C-6.0,-3.3 -5.2,-2.8 -3.8,-3.1C-2.4,-3.5 0.6,-4.7 2.1,-4.7C3.5,-4.7 3.9,-3.7 4.8,-3.1C5.6,-2.4 7.2,-1.8 7.3,-0.7Z" fill="url(#gpart)"/></g>
<g transform="translate(505.2,279.4) rotate(-21)"><path transform="translate(0.9,1.2) scale(1.08)" d="M5.8,0.6C5.8,1.8 4.8,3.0 4.2,3.6C3.5,4.2 3.1,3.9 1.9,4.1C0.8,4.3 -1.6,5.3 -2.7,4.8C-3.9,4.3 -4.4,2.2 -4.9,1.2C-5.4,0.2 -5.9,-0.1 -5.6,-0.9C-5.3,-1.8 -4.2,-3.5 -3.2,-4.1C-2.1,-4.6 -0.4,-4.4 0.7,-4.3C1.9,-4.3 3.0,-4.5 3.9,-3.7C4.7,-2.9 5.7,-0.6 5.8,0.6Z" fill="#3c3c3c" opacity="0.75"/><path d="M5.8,0.6C5.8,1.8 4.8,3.0 4.2,3.6C3.5,4.2 3.1,3.9 1.9,4.1C0.8,4.3 -1.6,5.3 -2.7,4.8C-3.9,4.3 -4.4,2.2 -4.9,1.2C-5.4,0.2 -5.9,-0.1 -5.6,-0.9C-5.3,-1.8 -4.2,-3.5 -3.2,-4.1C-2.1,-4.6 -0.4,-4.4 0.7,-4.3C1.9,-4.3 3.0,-4.5 3.9,-3.7C4.7,-2.9 5.7,-0.6 5.8,0.6Z" fill="url(#gpart)"/></g>
<g transform="translate(589.9,204.6) rotate(-10)"><path transform="translate(0.9,1.2) scale(1.08)" d="M8.8,-0.8C8.2,0.1 5.8,2.0 4.9,2.9C3.9,3.8 4.4,4.3 3.0,4.4C1.6,4.6 -1.7,4.2 -3.5,3.7C-5.3,3.2 -7.1,2.3 -7.9,1.4C-8.7,0.5 -9.3,-0.6 -8.6,-1.6C-7.8,-2.7 -5.0,-4.4 -3.5,-4.8C-2.1,-5.3 -2.1,-4.9 -0.1,-4.5C1.9,-4.2 7.0,-3.4 8.5,-2.8C10.0,-2.1 9.4,-1.8 8.8,-0.8Z" fill="#3c3c3c" opacity="0.75"/><path d="M8.8,-0.8C8.2,0.1 5.8,2.0 4.9,2.9C3.9,3.8 4.4,4.3 3.0,4.4C1.6,4.6 -1.7,4.2 -3.5,3.7C-5.3,3.2 -7.1,2.3 -7.9,1.4C-8.7,0.5 -9.3,-0.6 -8.6,-1.6C-7.8,-2.7 -5.0,-4.4 -3.5,-4.8C-2.1,-5.3 -2.1,-4.9 -0.1,-4.5C1.9,-4.2 7.0,-3.4 8.5,-2.8C10.0,-2.1 9.4,-1.8 8.8,-0.8Z" fill="url(#gpart)"/></g>
<g transform="translate(777.8,167.2) rotate(16)"><path transform="translate(0.9,1.2) scale(1.08)" d="M9.4,0.4C9.6,1.9 8.2,2.7 6.7,3.9C5.2,5.1 2.7,7.6 0.6,7.9C-1.6,8.2 -4.6,6.5 -6.2,5.7C-7.7,4.9 -8.6,4.6 -8.9,3.2C-9.3,1.7 -9.0,-1.5 -8.2,-3.0C-7.3,-4.5 -5.5,-5.3 -3.9,-5.9C-2.2,-6.5 0.1,-6.8 1.7,-6.7C3.3,-6.5 4.2,-6.3 5.5,-5.1C6.8,-3.9 9.2,-1.1 9.4,0.4Z" fill="#3c3c3c" opacity="0.75"/><path d="M9.4,0.4C9.6,1.9 8.2,2.7 6.7,3.9C5.2,5.1 2.7,7.6 0.6,7.9C-1.6,8.2 -4.6,6.5 -6.2,5.7C-7.7,4.9 -8.6,4.6 -8.9,3.2C-9.3,1.7 -9.0,-1.5 -8.2,-3.0C-7.3,-4.5 -5.5,-5.3 -3.9,-5.9C-2.2,-6.5 0.1,-6.8 1.7,-6.7C3.3,-6.5 4.2,-6.3 5.5,-5.1C6.8,-3.9 9.2,-1.1 9.4,0.4Z" fill="url(#gpart)"/></g>
<g transform="translate(482.1,227.5) rotate(-11)"><path transform="translate(0.9,1.2) scale(1.08)" d="M5.7,1.0C5.7,2.1 5.0,2.2 4.3,2.8C3.6,3.4 2.6,4.5 1.5,4.6C0.5,4.8 -0.6,4.6 -1.8,4.0C-3.0,3.3 -5.0,1.9 -5.6,1.0C-6.3,0.1 -6.1,-0.9 -5.7,-1.7C-5.2,-2.5 -3.9,-3.2 -3.0,-3.7C-2.0,-4.2 -1.2,-4.7 0.0,-4.8C1.2,-4.8 3.6,-4.8 4.5,-3.8C5.5,-2.9 5.7,-0.1 5.7,1.0Z" fill="#3c3c3c" opacity="0.75"/><path d="M5.7,1.0C5.7,2.1 5.0,2.2 4.3,2.8C3.6,3.4 2.6,4.5 1.5,4.6C0.5,4.8 -0.6,4.6 -1.8,4.0C-3.0,3.3 -5.0,1.9 -5.6,1.0C-6.3,0.1 -6.1,-0.9 -5.7,-1.7C-5.2,-2.5 -3.9,-3.2 -3.0,-3.7C-2.0,-4.2 -1.2,-4.7 0.0,-4.8C1.2,-4.8 3.6,-4.8 4.5,-3.8C5.5,-2.9 5.7,-0.1 5.7,1.0Z" fill="url(#gpart)"/></g>
<g transform="translate(478.5,211.2) rotate(3)"><path transform="translate(0.9,1.2) scale(1.08)" d="M9.0,1.4C9.1,3.4 7.4,5.8 6.4,6.8C5.4,7.7 4.9,7.0 2.9,7.3C0.8,7.6 -3.8,9.1 -5.9,8.5C-8.0,7.9 -8.9,5.7 -9.6,3.7C-10.3,1.8 -10.8,-1.3 -10.2,-3.1C-9.6,-4.8 -8.3,-5.8 -6.1,-6.6C-3.9,-7.3 1.0,-7.8 2.9,-7.6C4.9,-7.3 4.6,-6.7 5.7,-5.2C6.7,-3.7 8.8,-0.6 9.0,1.4Z" fill="#3c3c3c" opacity="0.75"/><path d="M9.0,1.4C9.1,3.4 7.4,5.8 6.4,6.8C5.4,7.7 4.9,7.0 2.9,7.3C0.8,7.6 -3.8,9.1 -5.9,8.5C-8.0,7.9 -8.9,5.7 -9.6,3.7C-10.3,1.8 -10.8,-1.3 -10.2,-3.1C-9.6,-4.8 -8.3,-5.8 -6.1,-6.6C-3.9,-7.3 1.0,-7.8 2.9,-7.6C4.9,-7.3 4.6,-6.7 5.7,-5.2C6.7,-3.7 8.8,-0.6 9.0,1.4Z" fill="url(#gpart)"/></g>
<g transform="translate(757.1,173.0) rotate(-20)"><path transform="translate(0.9,1.2) scale(1.08)" d="M6.2,-0.8C6.4,0.8 5.5,2.9 4.7,4.4C4.0,5.8 3.2,7.7 1.8,8.1C0.3,8.5 -2.6,7.4 -3.8,6.7C-5.0,6.0 -5.4,5.8 -5.6,4.0C-5.9,2.2 -5.5,-2.5 -5.2,-4.3C-5.0,-6.1 -5.3,-6.4 -4.1,-6.9C-3.0,-7.4 0.5,-7.6 1.8,-7.3C3.0,-7.1 2.7,-6.5 3.5,-5.5C4.2,-4.4 6.0,-2.4 6.2,-0.8Z" fill="#3c3c3c" opacity="0.75"/><path d="M6.2,-0.8C6.4,0.8 5.5,2.9 4.7,4.4C4.0,5.8 3.2,7.7 1.8,8.1C0.3,8.5 -2.6,7.4 -3.8,6.7C-5.0,6.0 -5.4,5.8 -5.6,4.0C-5.9,2.2 -5.5,-2.5 -5.2,-4.3C-5.0,-6.1 -5.3,-6.4 -4.1,-6.9C-3.0,-7.4 0.5,-7.6 1.8,-7.3C3.0,-7.1 2.7,-6.5 3.5,-5.5C4.2,-4.4 6.0,-2.4 6.2,-0.8Z" fill="url(#gpart)"/></g>
<g transform="translate(422.9,263.2) rotate(2)"><path transform="translate(0.9,1.2) scale(1.08)" d="M6.1,1.3C5.9,3.1 4.2,4.6 3.4,5.9C2.7,7.2 2.6,8.8 1.5,9.0C0.4,9.1 -2.0,8.0 -3.1,6.9C-4.3,5.8 -4.9,3.6 -5.3,2.2C-5.7,0.8 -5.8,0.1 -5.6,-1.4C-5.4,-2.9 -5.0,-5.6 -4.0,-6.8C-2.9,-8.0 -0.7,-8.8 0.6,-8.5C2.0,-8.1 3.4,-6.4 4.3,-4.8C5.2,-3.2 6.2,-0.4 6.1,1.3Z" fill="#3c3c3c" opacity="0.75"/><path d="M6.1,1.3C5.9,3.1 4.2,4.6 3.4,5.9C2.7,7.2 2.6,8.8 1.5,9.0C0.4,9.1 -2.0,8.0 -3.1,6.9C-4.3,5.8 -4.9,3.6 -5.3,2.2C-5.7,0.8 -5.8,0.1 -5.6,-1.4C-5.4,-2.9 -5.0,-5.6 -4.0,-6.8C-2.9,-8.0 -0.7,-8.8 0.6,-8.5C2.0,-8.1 3.4,-6.4 4.3,-4.8C5.2,-3.2 6.2,-0.4 6.1,1.3Z" fill="url(#gpart)"/></g>
<g transform="translate(407.0,274.7) rotate(-2)"><path transform="translate(0.9,1.2) scale(1.08)" d="M6.9,-1.0C7.0,0.1 6.1,2.6 5.4,3.5C4.6,4.4 3.6,4.4 2.2,4.4C0.8,4.4 -2.2,3.9 -3.3,3.5C-4.5,3.1 -4.2,2.7 -4.7,2.0C-5.3,1.2 -6.6,-0.0 -6.5,-1.0C-6.5,-2.0 -5.5,-3.3 -4.3,-3.9C-3.1,-4.4 -0.6,-4.7 0.9,-4.5C2.4,-4.4 3.9,-3.4 4.9,-2.8C5.9,-2.2 6.8,-2.0 6.9,-1.0Z" fill="#3c3c3c" opacity="0.75"/><path d="M6.9,-1.0C7.0,0.1 6.1,2.6 5.4,3.5C4.6,4.4 3.6,4.4 2.2,4.4C0.8,4.4 -2.2,3.9 -3.3,3.5C-4.5,3.1 -4.2,2.7 -4.7,2.0C-5.3,1.2 -6.6,-0.0 -6.5,-1.0C-6.5,-2.0 -5.5,-3.3 -4.3,-3.9C-3.1,-4.4 -0.6,-4.7 0.9,-4.5C2.4,-4.4 3.9,-3.4 4.9,-2.8C5.9,-2.2 6.8,-2.0 6.9,-1.0Z" fill="url(#gpart)"/></g>
<g transform="translate(401.5,278.3) rotate(9)"><path transform="translate(0.9,1.2) scale(1.08)" d="M6.7,0.2C6.5,1.2 5.6,2.3 4.6,3.1C3.6,3.9 2.1,5.0 0.7,5.1C-0.7,5.2 -2.5,4.2 -3.9,3.5C-5.4,2.9 -7.6,2.1 -8.0,1.3C-8.4,0.5 -6.9,-0.4 -6.2,-1.4C-5.6,-2.4 -5.1,-4.3 -4.0,-4.7C-2.9,-5.1 -1.5,-4.2 0.2,-3.9C1.8,-3.7 4.6,-3.9 5.7,-3.2C6.8,-2.5 6.9,-0.9 6.7,0.2Z" fill="#3c3c3c" opacity="0.75"/><path d="M6.7,0.2C6.5,1.2 5.6,2.3 4.6,3.1C3.6,3.9 2.1,5.0 0.7,5.1C-0.7,5.2 -2.5,4.2 -3.9,3.5C-5.4,2.9 -7.6,2.1 -8.0,1.3C-8.4,0.5 -6.9,-0.4 -6.2,-1.4C-5.6,-2.4 -5.1,-4.3 -4.0,-4.7C-2.9,-5.1 -1.5,-4.2 0.2,-3.9C1.8,-3.7 4.6,-3.9 5.7,-3.2C6.8,-2.5 6.9,-0.9 6.7,0.2Z" fill="url(#gpart)"/></g>
<g transform="translate(568.5,289.8) rotate(16)"><path transform="translate(0.9,1.2) scale(1.08)" d="M6.4,-0.4C6.5,0.7 5.7,3.0 4.9,4.0C4.1,4.9 2.6,5.1 1.5,5.3C0.4,5.5 -0.6,5.7 -1.7,5.3C-2.8,4.8 -4.5,3.5 -5.2,2.3C-6.0,1.1 -6.6,-0.5 -6.1,-1.7C-5.7,-2.9 -3.7,-4.0 -2.6,-4.9C-1.6,-5.8 -0.9,-7.5 0.3,-7.1C1.4,-6.8 3.2,-4.1 4.2,-3.0C5.2,-1.8 6.2,-1.6 6.4,-0.4Z" fill="#3c3c3c" opacity="0.75"/><path d="M6.4,-0.4C6.5,0.7 5.7,3.0 4.9,4.0C4.1,4.9 2.6,5.1 1.5,5.3C0.4,5.5 -0.6,5.7 -1.7,5.3C-2.8,4.8 -4.5,3.5 -5.2,2.3C-6.0,1.1 -6.6,-0.5 -6.1,-1.7C-5.7,-2.9 -3.7,-4.0 -2.6,-4.9C-1.6,-5.8 -0.9,-7.5 0.3,-7.1C1.4,-6.8 3.2,-4.1 4.2,-3.0C5.2,-1.8 6.2,-1.6 6.4,-0.4Z" fill="url(#gpart)"/></g>
<g transform="translate(454.0,184.8) rotate(-28)"><path transform="translate(0.9,1.2) scale(1.08)" d="M7.6,0.7C7.6,2.6 6.4,4.7 5.2,5.7C4.1,6.7 2.6,6.9 0.9,6.9C-0.8,6.9 -3.3,6.3 -4.9,5.8C-6.5,5.2 -8.0,4.6 -8.7,3.4C-9.3,2.2 -9.3,0.0 -8.8,-1.5C-8.3,-3.0 -7.3,-4.8 -5.6,-5.9C-3.9,-7.0 -0.6,-8.1 1.3,-8.1C3.1,-8.1 4.4,-7.2 5.5,-5.7C6.5,-4.2 7.6,-1.2 7.6,0.7Z" fill="#3c3c3c" opacity="0.75"/><path d="M7.6,0.7C7.6,2.6 6.4,4.7 5.2,5.7C4.1,6.7 2.6,6.9 0.9,6.9C-0.8,6.9 -3.3,6.3 -4.9,5.8C-6.5,5.2 -8.0,4.6 -8.7,3.4C-9.3,2.2 -9.3,0.0 -8.8,-1.5C-8.3,-3.0 -7.3,-4.8 -5.6,-5.9C-3.9,-7.0 -0.6,-8.1 1.3,-8.1C3.1,-8.1 4.4,-7.2 5.5,-5.7C6.5,-4.2 7.6,-1.2 7.6,0.7Z" fill="url(#gpart)"/></g>
<g transform="translate(476.6,170.4) rotate(-5)"><path transform="translate(0.9,1.2) scale(1.08)" d="M5.4,1.3C5.2,2.6 3.9,3.4 3.2,4.2C2.5,4.9 2.1,5.8 1.2,6.0C0.3,6.2 -1.1,5.8 -2.1,5.4C-3.1,4.9 -4.3,4.6 -4.7,3.3C-5.0,2.0 -4.7,-1.0 -4.1,-2.5C-3.6,-4.0 -2.2,-5.2 -1.4,-5.8C-0.6,-6.3 -0.1,-6.1 0.9,-5.8C1.9,-5.5 3.8,-5.1 4.6,-4.0C5.4,-2.8 5.7,-0.1 5.4,1.3Z" fill="#3c3c3c" opacity="0.75"/><path d="M5.4,1.3C5.2,2.6 3.9,3.4 3.2,4.2C2.5,4.9 2.1,5.8 1.2,6.0C0.3,6.2 -1.1,5.8 -2.1,5.4C-3.1,4.9 -4.3,4.6 -4.7,3.3C-5.0,2.0 -4.7,-1.0 -4.1,-2.5C-3.6,-4.0 -2.2,-5.2 -1.4,-5.8C-0.6,-6.3 -0.1,-6.1 0.9,-5.8C1.9,-5.5 3.8,-5.1 4.6,-4.0C5.4,-2.8 5.7,-0.1 5.4,1.3Z" fill="url(#gpart)"/></g>
<g transform="translate(591.7,198.3) rotate(-14)"><path transform="translate(0.9,1.2) scale(1.08)" d="M5.9,0.8C5.9,1.9 5.0,2.6 4.2,3.7C3.3,4.8 2.1,7.1 1.1,7.6C0.0,8.1 -1.1,7.6 -2.2,6.7C-3.2,5.8 -4.5,3.6 -5.0,2.0C-5.6,0.5 -5.9,-1.5 -5.6,-2.9C-5.4,-4.2 -4.7,-5.4 -3.6,-6.2C-2.6,-6.9 -0.6,-7.9 0.7,-7.4C2.0,-6.9 3.2,-4.6 4.1,-3.2C5.0,-1.8 5.9,-0.4 5.9,0.8Z" fill="#3c3c3c" opacity="0.75"/><path d="M5.9,0.8C5.9,1.9 5.0,2.6 4.2,3.7C3.3,4.8 2.1,7.1 1.1,7.6C0.0,8.1 -1.1,7.6 -2.2,6.7C-3.2,5.8 -4.5,3.6 -5.0,2.0C-5.6,0.5 -5.9,-1.5 -5.6,-2.9C-5.4,-4.2 -4.7,-5.4 -3.6,-6.2C-2.6,-6.9 -0.6,-7.9 0.7,-7.4C2.0,-6.9 3.2,-4.6 4.1,-3.2C5.0,-1.8 5.9,-0.4 5.9,0.8Z" fill="url(#gpart)"/></g>
<g transform="translate(673.4,275.4) rotate(22)"><path transform="translate(0.9,1.2) scale(1.08)" d="M6.8,0.9C6.5,1.7 6.8,1.5 5.6,2.0C4.5,2.6 1.5,3.8 -0.1,4.0C-1.7,4.2 -3.1,3.8 -4.1,3.3C-5.2,2.8 -5.6,1.8 -6.2,1.0C-6.8,0.3 -8.0,-0.3 -7.7,-1.1C-7.4,-1.9 -6.2,-2.9 -4.4,-3.5C-2.7,-4.1 0.7,-5.0 2.7,-4.8C4.6,-4.7 6.6,-3.8 7.3,-2.9C8.0,-1.9 7.0,0.1 6.8,0.9Z" fill="#3c3c3c" opacity="0.75"/><path d="M6.8,0.9C6.5,1.7 6.8,1.5 5.6,2.0C4.5,2.6 1.5,3.8 -0.1,4.0C-1.7,4.2 -3.1,3.8 -4.1,3.3C-5.2,2.8 -5.6,1.8 -6.2,1.0C-6.8,0.3 -8.0,-0.3 -7.7,-1.1C-7.4,-1.9 -6.2,-2.9 -4.4,-3.5C-2.7,-4.1 0.7,-5.0 2.7,-4.8C4.6,-4.7 6.6,-3.8 7.3,-2.9C8.0,-1.9 7.0,0.1 6.8,0.9Z" fill="url(#gpart)"/></g>
<g transform="translate(426.1,264.1) rotate(-28)"><path transform="translate(0.9,1.2) scale(1.08)" d="M7.0,-0.8C6.9,0.8 4.9,3.1 3.9,4.3C2.9,5.5 2.1,6.3 1.0,6.5C-0.1,6.8 -1.4,5.9 -2.7,5.6C-3.9,5.2 -5.7,5.7 -6.4,4.4C-7.1,3.1 -7.4,-0.6 -7.0,-2.2C-6.6,-3.9 -5.2,-4.9 -4.0,-5.7C-2.8,-6.5 -1.3,-7.1 0.2,-7.1C1.6,-7.1 3.5,-6.7 4.6,-5.7C5.8,-4.7 7.1,-2.5 7.0,-0.8Z" fill="#3c3c3c" opacity="0.75"/><path d="M7.0,-0.8C6.9,0.8 4.9,3.1 3.9,4.3C2.9,5.5 2.1,6.3 1.0,6.5C-0.1,6.8 -1.4,5.9 -2.7,5.6C-3.9,5.2 -5.7,5.7 -6.4,4.4C-7.1,3.1 -7.4,-0.6 -7.0,-2.2C-6.6,-3.9 -5.2,-4.9 -4.0,-5.7C-2.8,-6.5 -1.3,-7.1 0.2,-7.1C1.6,-7.1 3.5,-6.7 4.6,-5.7C5.8,-4.7 7.1,-2.5 7.0,-0.8Z" fill="url(#gpart)"/></g>
<g transform="translate(422.1,275.2) rotate(-21)"><path transform="translate(0.9,1.2) scale(1.08)" d="M6.0,0.7C6.1,2.2 5.7,2.5 4.9,3.9C4.1,5.2 2.4,8.4 1.2,8.8C-0.0,9.2 -1.1,7.6 -2.4,6.4C-3.8,5.1 -6.3,3.0 -6.7,1.4C-7.2,-0.1 -5.6,-1.9 -5.1,-3.1C-4.5,-4.3 -4.2,-5.2 -3.4,-5.8C-2.5,-6.4 -1.3,-6.8 0.0,-6.7C1.3,-6.5 3.5,-6.1 4.5,-4.9C5.5,-3.6 6.0,-0.7 6.0,0.7Z" fill="#3c3c3c" opacity="0.75"/><path d="M6.0,0.7C6.1,2.2 5.7,2.5 4.9,3.9C4.1,5.2 2.4,8.4 1.2,8.8C-0.0,9.2 -1.1,7.6 -2.4,6.4C-3.8,5.1 -6.3,3.0 -6.7,1.4C-7.2,-0.1 -5.6,-1.9 -5.1,-3.1C-4.5,-4.3 -4.2,-5.2 -3.4,-5.8C-2.5,-6.4 -1.3,-6.8 0.0,-6.7C1.3,-6.5 3.5,-6.1 4.5,-4.9C5.5,-3.6 6.0,-0.7 6.0,0.7Z" fill="url(#gpart)"/></g>
<g transform="translate(733.8,229.7) rotate(3)"><path transform="translate(0.9,1.2) scale(1.08)" d="M3.7,-0.4C3.8,1.4 3.8,4.6 3.3,6.1C2.8,7.5 1.7,8.0 0.7,8.3C-0.3,8.6 -2.0,9.0 -2.9,7.9C-3.8,6.8 -4.5,3.5 -4.6,1.8C-4.8,0.0 -4.3,-0.7 -4.0,-2.4C-3.6,-4.0 -3.4,-7.2 -2.7,-8.1C-1.9,-9.0 -0.4,-8.4 0.5,-7.9C1.5,-7.3 2.4,-6.1 2.9,-4.9C3.4,-3.6 3.6,-2.2 3.7,-0.4Z" fill="#3c3c3c" opacity="0.75"/><path d="M3.7,-0.4C3.8,1.4 3.8,4.6 3.3,6.1C2.8,7.5 1.7,8.0 0.7,8.3C-0.3,8.6 -2.0,9.0 -2.9,7.9C-3.8,6.8 -4.5,3.5 -4.6,1.8C-4.8,0.0 -4.3,-0.7 -4.0,-2.4C-3.6,-4.0 -3.4,-7.2 -2.7,-8.1C-1.9,-9.0 -0.4,-8.4 0.5,-7.9C1.5,-7.3 2.4,-6.1 2.9,-4.9C3.4,-3.6 3.6,-2.2 3.7,-0.4Z" fill="url(#gpart)"/></g>
<g transform="translate(584.4,284.0) rotate(30)"><path transform="translate(0.9,1.2) scale(1.08)" d="M5.9,-1.0C5.7,0.1 4.3,2.4 3.4,3.3C2.6,4.2 1.6,4.4 0.7,4.5C-0.2,4.6 -1.1,4.2 -2.1,3.9C-3.2,3.5 -5.0,3.6 -5.6,2.5C-6.2,1.5 -6.1,-1.3 -5.9,-2.4C-5.6,-3.4 -5.0,-3.4 -4.0,-3.8C-2.9,-4.2 -0.7,-5.1 0.6,-4.9C2.0,-4.7 3.3,-3.4 4.2,-2.8C5.1,-2.1 6.0,-2.0 5.9,-1.0Z" fill="#3c3c3c" opacity="0.75"/><path d="M5.9,-1.0C5.7,0.1 4.3,2.4 3.4,3.3C2.6,4.2 1.6,4.4 0.7,4.5C-0.2,4.6 -1.1,4.2 -2.1,3.9C-3.2,3.5 -5.0,3.6 -5.6,2.5C-6.2,1.5 -6.1,-1.3 -5.9,-2.4C-5.6,-3.4 -5.0,-3.4 -4.0,-3.8C-2.9,-4.2 -0.7,-5.1 0.6,-4.9C2.0,-4.7 3.3,-3.4 4.2,-2.8C5.1,-2.1 6.0,-2.0 5.9,-1.0Z" fill="url(#gpart)"/></g>
<g transform="translate(721.1,211.6) rotate(28)"><path transform="translate(0.9,1.2) scale(1.08)" d="M5.5,-1.2C5.4,0.1 4.3,2.9 3.5,4.2C2.7,5.5 1.8,6.3 0.8,6.5C-0.1,6.7 -1.3,6.3 -2.2,5.4C-3.1,4.5 -4.4,2.6 -4.8,1.4C-5.2,0.1 -4.9,-1.2 -4.5,-2.3C-4.2,-3.4 -3.6,-4.6 -2.6,-5.1C-1.7,-5.6 0.0,-5.4 1.2,-5.2C2.3,-4.9 3.5,-4.1 4.2,-3.5C4.9,-2.8 5.6,-2.5 5.5,-1.2Z" fill="#3c3c3c" opacity="0.75"/><path d="M5.5,-1.2C5.4,0.1 4.3,2.9 3.5,4.2C2.7,5.5 1.8,6.3 0.8,6.5C-0.1,6.7 -1.3,6.3 -2.2,5.4C-3.1,4.5 -4.4,2.6 -4.8,1.4C-5.2,0.1 -4.9,-1.2 -4.5,-2.3C-4.2,-3.4 -3.6,-4.6 -2.6,-5.1C-1.7,-5.6 0.0,-5.4 1.2,-5.2C2.3,-4.9 3.5,-4.1 4.2,-3.5C4.9,-2.8 5.6,-2.5 5.5,-1.2Z" fill="url(#gpart)"/></g>
<g transform="translate(630.0,159.7) rotate(-17)"><path transform="translate(0.9,1.2) scale(1.08)" d="M6.5,0.2C6.3,1.5 5.6,3.5 4.6,4.5C3.6,5.4 1.9,5.9 0.6,6.0C-0.7,6.0 -1.9,5.2 -3.2,4.7C-4.5,4.2 -6.6,4.3 -7.2,3.2C-7.7,2.1 -7.3,-0.6 -6.7,-2.1C-6.1,-3.6 -5.0,-5.2 -3.8,-5.7C-2.7,-6.3 -1.2,-5.7 0.4,-5.3C2.1,-4.9 4.9,-4.1 5.9,-3.2C6.9,-2.2 6.8,-1.0 6.5,0.2Z" fill="#3c3c3c" opacity="0.75"/><path d="M6.5,0.2C6.3,1.5 5.6,3.5 4.6,4.5C3.6,5.4 1.9,5.9 0.6,6.0C-0.7,6.0 -1.9,5.2 -3.2,4.7C-4.5,4.2 -6.6,4.3 -7.2,3.2C-7.7,2.1 -7.3,-0.6 -6.7,-2.1C-6.1,-3.6 -5.0,-5.2 -3.8,-5.7C-2.7,-6.3 -1.2,-5.7 0.4,-5.3C2.1,-4.9 4.9,-4.1 5.9,-3.2C6.9,-2.2 6.8,-1.0 6.5,0.2Z" fill="url(#gpart)"/></g>
<g transform="translate(599.4,176.3) rotate(8)"><path transform="translate(0.9,1.2) scale(1.08)" d="M9.0,1.1C8.6,3.0 5.7,3.7 4.5,4.9C3.4,6.1 3.4,8.3 2.0,8.4C0.5,8.5 -2.9,6.3 -4.3,5.4C-5.7,4.6 -6.0,4.5 -6.5,3.3C-7.1,2.2 -8.1,0.4 -7.5,-1.4C-7.0,-3.2 -4.6,-6.3 -3.2,-7.2C-1.7,-8.1 -0.6,-6.8 1.1,-6.6C2.8,-6.4 5.6,-7.4 6.9,-6.1C8.3,-4.8 9.4,-0.7 9.0,1.1Z" fill="#3c3c3c" opacity="0.75"/><path d="M9.0,1.1C8.6,3.0 5.7,3.7 4.5,4.9C3.4,6.1 3.4,8.3 2.0,8.4C0.5,8.5 -2.9,6.3 -4.3,5.4C-5.7,4.6 -6.0,4.5 -6.5,3.3C-7.1,2.2 -8.1,0.4 -7.5,-1.4C-7.0,-3.2 -4.6,-6.3 -3.2,-7.2C-1.7,-8.1 -0.6,-6.8 1.1,-6.6C2.8,-6.4 5.6,-7.4 6.9,-6.1C8.3,-4.8 9.4,-0.7 9.0,1.1Z" fill="url(#gpart)"/></g>
<g transform="translate(734.2,205.0) rotate(12)"><path transform="translate(0.9,1.2) scale(1.08)" d="M8.0,-0.1C8.0,1.4 6.9,3.5 6.0,4.5C5.1,5.5 4.3,5.6 2.6,5.7C1.0,5.8 -2.1,5.6 -3.7,5.1C-5.3,4.5 -6.3,3.5 -6.9,2.4C-7.6,1.3 -7.8,-0.5 -7.4,-1.5C-7.1,-2.6 -6.2,-3.3 -4.8,-3.8C-3.3,-4.4 -0.4,-4.6 1.4,-4.7C3.2,-4.8 4.8,-5.2 5.9,-4.5C7.0,-3.7 8.0,-1.6 8.0,-0.1Z" fill="#3c3c3c" opacity="0.75"/><path d="M8.0,-0.1C8.0,1.4 6.9,3.5 6.0,4.5C5.1,5.5 4.3,5.6 2.6,5.7C1.0,5.8 -2.1,5.6 -3.7,5.1C-5.3,4.5 -6.3,3.5 -6.9,2.4C-7.6,1.3 -7.8,-0.5 -7.4,-1.5C-7.1,-2.6 -6.2,-3.3 -4.8,-3.8C-3.3,-4.4 -0.4,-4.6 1.4,-4.7C3.2,-4.8 4.8,-5.2 5.9,-4.5C7.0,-3.7 8.0,-1.6 8.0,-0.1Z" fill="url(#gpart)"/></g>
<g transform="translate(690.2,167.8) rotate(-14)"><path transform="translate(0.9,1.2) scale(1.08)" d="M8.1,-0.5C7.8,1.3 6.4,3.7 5.2,5.4C4.0,7.0 2.6,9.0 1.2,9.4C-0.2,9.8 -1.7,8.8 -3.4,7.6C-5.1,6.3 -8.4,3.6 -9.0,2.0C-9.7,0.4 -8.0,-0.6 -7.2,-2.1C-6.5,-3.6 -6.0,-6.0 -4.4,-6.9C-2.9,-7.8 0.2,-7.8 2.1,-7.6C4.0,-7.4 5.9,-7.1 7.0,-5.9C8.0,-4.8 8.4,-2.4 8.1,-0.5Z" fill="#3c3c3c" opacity="0.75"/><path d="M8.1,-0.5C7.8,1.3 6.4,3.7 5.2,5.4C4.0,7.0 2.6,9.0 1.2,9.4C-0.2,9.8 -1.7,8.8 -3.4,7.6C-5.1,6.3 -8.4,3.6 -9.0,2.0C-9.7,0.4 -8.0,-0.6 -7.2,-2.1C-6.5,-3.6 -6.0,-6.0 -4.4,-6.9C-2.9,-7.8 0.2,-7.8 2.1,-7.6C4.0,-7.4 5.9,-7.1 7.0,-5.9C8.0,-4.8 8.4,-2.4 8.1,-0.5Z" fill="url(#gpart)"/></g>
<g transform="translate(591.4,232.6) rotate(19)"><path transform="translate(0.9,1.2) scale(1.08)" d="M6.8,-0.4C7.0,1.0 6.8,3.6 6.0,4.9C5.3,6.1 4.1,7.1 2.4,7.1C0.8,7.1 -2.4,6.0 -3.9,5.1C-5.4,4.1 -5.8,2.7 -6.4,1.7C-7.1,0.6 -8.0,-0.0 -7.6,-1.2C-7.2,-2.4 -5.4,-4.5 -3.9,-5.5C-2.4,-6.4 -0.1,-7.6 1.4,-7.2C2.9,-6.8 4.0,-4.2 5.0,-3.0C5.9,-1.9 6.6,-1.7 6.8,-0.4Z" fill="#3c3c3c" opacity="0.75"/><path d="M6.8,-0.4C7.0,1.0 6.8,3.6 6.0,4.9C5.3,6.1 4.1,7.1 2.4,7.1C0.8,7.1 -2.4,6.0 -3.9,5.1C-5.4,4.1 -5.8,2.7 -6.4,1.7C-7.1,0.6 -8.0,-0.0 -7.6,-1.2C-7.2,-2.4 -5.4,-4.5 -3.9,-5.5C-2.4,-6.4 -0.1,-7.6 1.4,-7.2C2.9,-6.8 4.0,-4.2 5.0,-3.0C5.9,-1.9 6.6,-1.7 6.8,-0.4Z" fill="url(#gpart)"/></g>
<g transform="translate(408.8,297.7) rotate(6)"><path transform="translate(0.9,1.2) scale(1.08)" d="M5.4,-0.1C5.2,1.0 4.3,2.5 3.6,3.4C2.9,4.3 2.2,5.1 1.1,5.2C0.1,5.3 -1.5,4.7 -2.6,4.1C-3.8,3.5 -5.2,2.8 -5.7,1.8C-6.2,0.7 -5.9,-1.2 -5.4,-2.1C-4.9,-2.9 -3.6,-2.9 -2.5,-3.4C-1.3,-3.8 0.1,-4.7 1.4,-4.6C2.6,-4.6 4.3,-3.6 5.0,-2.9C5.6,-2.1 5.6,-1.1 5.4,-0.1Z" fill="#3c3c3c" opacity="0.75"/><path d="M5.4,-0.1C5.2,1.0 4.3,2.5 3.6,3.4C2.9,4.3 2.2,5.1 1.1,5.2C0.1,5.3 -1.5,4.7 -2.6,4.1C-3.8,3.5 -5.2,2.8 -5.7,1.8C-6.2,0.7 -5.9,-1.2 -5.4,-2.1C-4.9,-2.9 -3.6,-2.9 -2.5,-3.4C-1.3,-3.8 0.1,-4.7 1.4,-4.6C2.6,-4.6 4.3,-3.6 5.0,-2.9C5.6,-2.1 5.6,-1.1 5.4,-0.1Z" fill="url(#gpart)"/></g>
<g transform="translate(440.4,194.9) rotate(-23)"><path transform="translate(0.9,1.2) scale(1.08)" d="M7.4,-0.4C6.9,0.5 5.8,1.8 5.1,2.6C4.4,3.3 4.6,4.1 3.1,4.1C1.6,4.2 -1.8,3.4 -3.8,2.9C-5.8,2.4 -8.4,1.9 -8.9,1.2C-9.4,0.5 -7.8,-0.4 -6.9,-1.2C-6.1,-1.9 -5.1,-3.0 -3.6,-3.5C-2.1,-4.1 0.1,-4.8 2.1,-4.6C4.0,-4.4 7.3,-3.2 8.2,-2.5C9.1,-1.7 7.9,-1.2 7.4,-0.4Z" fill="#3c3c3c" opacity="0.75"/><path d="M7.4,-0.4C6.9,0.5 5.8,1.8 5.1,2.6C4.4,3.3 4.6,4.1 3.1,4.1C1.6,4.2 -1.8,3.4 -3.8,2.9C-5.8,2.4 -8.4,1.9 -8.9,1.2C-9.4,0.5 -7.8,-0.4 -6.9,-1.2C-6.1,-1.9 -5.1,-3.0 -3.6,-3.5C-2.1,-4.1 0.1,-4.8 2.1,-4.6C4.0,-4.4 7.3,-3.2 8.2,-2.5C9.1,-1.7 7.9,-1.2 7.4,-0.4Z" fill="url(#gpart)"/></g>
<g transform="translate(438.0,259.2) rotate(-21)"><path transform="translate(0.9,1.2) scale(1.08)" d="M5.4,-0.3C5.6,0.4 6.2,1.6 5.5,2.2C4.8,2.8 2.6,3.3 1.3,3.5C0.0,3.7 -1.0,3.7 -2.1,3.3C-3.3,2.8 -4.9,1.6 -5.4,0.8C-5.8,0.1 -5.3,-0.7 -4.9,-1.3C-4.6,-1.9 -4.4,-2.3 -3.2,-2.8C-2.1,-3.3 0.6,-4.3 1.9,-4.1C3.1,-4.0 3.6,-2.5 4.2,-1.9C4.8,-1.3 5.2,-0.9 5.4,-0.3Z" fill="#3c3c3c" opacity="0.75"/><path d="M5.4,-0.3C5.6,0.4 6.2,1.6 5.5,2.2C4.8,2.8 2.6,3.3 1.3,3.5C0.0,3.7 -1.0,3.7 -2.1,3.3C-3.3,2.8 -4.9,1.6 -5.4,0.8C-5.8,0.1 -5.3,-0.7 -4.9,-1.3C-4.6,-1.9 -4.4,-2.3 -3.2,-2.8C-2.1,-3.3 0.6,-4.3 1.9,-4.1C3.1,-4.0 3.6,-2.5 4.2,-1.9C4.8,-1.3 5.2,-0.9 5.4,-0.3Z" fill="url(#gpart)"/></g>
<g transform="translate(631.7,241.7) rotate(-18)"><path transform="translate(0.9,1.2) scale(1.08)" d="M7.1,-1.3C7.2,0.2 6.6,2.9 5.6,4.3C4.6,5.7 2.8,6.8 1.3,7.3C-0.2,7.7 -2.1,7.7 -3.5,7.1C-5.0,6.5 -6.9,5.3 -7.2,3.7C-7.6,2.2 -6.2,-0.6 -5.6,-2.2C-5.1,-3.8 -5.1,-5.2 -4.0,-6.0C-2.9,-6.9 -0.5,-7.5 1.0,-7.3C2.5,-7.1 3.7,-5.6 4.7,-4.6C5.7,-3.6 6.9,-2.8 7.1,-1.3Z" fill="#3c3c3c" opacity="0.75"/><path d="M7.1,-1.3C7.2,0.2 6.6,2.9 5.6,4.3C4.6,5.7 2.8,6.8 1.3,7.3C-0.2,7.7 -2.1,7.7 -3.5,7.1C-5.0,6.5 -6.9,5.3 -7.2,3.7C-7.6,2.2 -6.2,-0.6 -5.6,-2.2C-5.1,-3.8 -5.1,-5.2 -4.0,-6.0C-2.9,-6.9 -0.5,-7.5 1.0,-7.3C2.5,-7.1 3.7,-5.6 4.7,-4.6C5.7,-3.6 6.9,-2.8 7.1,-1.3Z" fill="url(#gpart)"/></g>
<g transform="translate(440.4,283.7) rotate(18)"><path transform="translate(0.9,1.2) scale(1.08)" d="M8.6,-0.4C8.4,0.5 6.8,2.2 5.7,3.0C4.5,3.9 3.4,4.4 1.8,4.5C0.1,4.7 -2.9,4.4 -4.4,4.0C-5.8,3.6 -6.5,2.9 -6.8,2.0C-7.1,1.1 -7.0,-0.5 -6.3,-1.3C-5.6,-2.2 -3.9,-2.9 -2.6,-3.2C-1.3,-3.6 -0.1,-3.7 1.5,-3.5C3.1,-3.3 5.9,-2.6 7.1,-2.1C8.3,-1.5 8.8,-1.2 8.6,-0.4Z" fill="#3c3c3c" opacity="0.75"/><path d="M8.6,-0.4C8.4,0.5 6.8,2.2 5.7,3.0C4.5,3.9 3.4,4.4 1.8,4.5C0.1,4.7 -2.9,4.4 -4.4,4.0C-5.8,3.6 -6.5,2.9 -6.8,2.0C-7.1,1.1 -7.0,-0.5 -6.3,-1.3C-5.6,-2.2 -3.9,-2.9 -2.6,-3.2C-1.3,-3.6 -0.1,-3.7 1.5,-3.5C3.1,-3.3 5.9,-2.6 7.1,-2.1C8.3,-1.5 8.8,-1.2 8.6,-0.4Z" fill="url(#gpart)"/></g>
<g transform="translate(448.2,229.8) rotate(18)"><path transform="translate(0.9,1.2) scale(1.08)" d="M7.4,-0.0C7.1,1.0 5.6,2.4 4.7,3.4C3.8,4.3 3.5,5.2 2.2,5.5C1.0,5.9 -1.7,6.1 -3.0,5.5C-4.3,4.9 -4.7,3.1 -5.4,2.0C-6.2,0.9 -8.1,0.1 -7.5,-1.1C-7.0,-2.2 -3.8,-4.1 -2.3,-4.7C-0.8,-5.3 0.1,-5.0 1.5,-4.6C3.0,-4.3 5.4,-3.6 6.4,-2.8C7.4,-2.0 7.7,-1.0 7.4,-0.0Z" fill="#3c3c3c" opacity="0.75"/><path d="M7.4,-0.0C7.1,1.0 5.6,2.4 4.7,3.4C3.8,4.3 3.5,5.2 2.2,5.5C1.0,5.9 -1.7,6.1 -3.0,5.5C-4.3,4.9 -4.7,3.1 -5.4,2.0C-6.2,0.9 -8.1,0.1 -7.5,-1.1C-7.0,-2.2 -3.8,-4.1 -2.3,-4.7C-0.8,-5.3 0.1,-5.0 1.5,-4.6C3.0,-4.3 5.4,-3.6 6.4,-2.8C7.4,-2.0 7.7,-1.0 7.4,-0.0Z" fill="url(#gpart)"/></g>
<g transform="translate(447.8,217.2) rotate(-21)"><path transform="translate(0.9,1.2) scale(1.08)" d="M5.3,-1.3C5.6,-0.0 5.6,2.5 4.9,3.7C4.2,4.9 2.4,5.6 1.2,5.9C-0.1,6.2 -1.6,6.0 -2.5,5.4C-3.4,4.7 -4.0,3.3 -4.3,1.9C-4.5,0.5 -4.6,-1.9 -4.2,-3.1C-3.7,-4.3 -2.7,-4.8 -1.7,-5.5C-0.7,-6.2 0.9,-7.7 1.7,-7.5C2.5,-7.2 2.6,-4.9 3.2,-3.8C3.8,-2.8 5.0,-2.5 5.3,-1.3Z" fill="#3c3c3c" opacity="0.75"/><path d="M5.3,-1.3C5.6,-0.0 5.6,2.5 4.9,3.7C4.2,4.9 2.4,5.6 1.2,5.9C-0.1,6.2 -1.6,6.0 -2.5,5.4C-3.4,4.7 -4.0,3.3 -4.3,1.9C-4.5,0.5 -4.6,-1.9 -4.2,-3.1C-3.7,-4.3 -2.7,-4.8 -1.7,-5.5C-0.7,-6.2 0.9,-7.7 1.7,-7.5C2.5,-7.2 2.6,-4.9 3.2,-3.8C3.8,-2.8 5.0,-2.5 5.3,-1.3Z" fill="url(#gpart)"/></g>
<g transform="translate(732.5,180.1) rotate(-7)"><path transform="translate(0.9,1.2) scale(1.08)" d="M6.7,0.4C6.5,2.0 5.7,3.0 4.8,4.2C4.0,5.4 2.9,7.4 1.5,7.8C0.1,8.3 -2.3,7.5 -3.7,6.9C-5.2,6.2 -6.4,5.4 -7.2,4.0C-7.9,2.5 -9.0,0.3 -8.3,-1.7C-7.5,-3.7 -4.3,-7.2 -2.7,-8.0C-1.1,-8.9 -0.2,-7.2 1.3,-6.8C2.7,-6.3 4.9,-6.7 5.8,-5.5C6.7,-4.3 6.9,-1.2 6.7,0.4Z" fill="#3c3c3c" opacity="0.75"/><path d="M6.7,0.4C6.5,2.0 5.7,3.0 4.8,4.2C4.0,5.4 2.9,7.4 1.5,7.8C0.1,8.3 -2.3,7.5 -3.7,6.9C-5.2,6.2 -6.4,5.4 -7.2,4.0C-7.9,2.5 -9.0,0.3 -8.3,-1.7C-7.5,-3.7 -4.3,-7.2 -2.7,-8.0C-1.1,-8.9 -0.2,-7.2 1.3,-6.8C2.7,-6.3 4.9,-6.7 5.8,-5.5C6.7,-4.3 6.9,-1.2 6.7,0.4Z" fill="url(#gpart)"/></g>
<g transform="translate(464.1,277.5) rotate(-0)"><path transform="translate(0.9,1.2) scale(1.08)" d="M7.9,0.8C8.0,2.3 9.1,3.2 8.0,4.1C6.9,4.9 3.1,5.6 1.3,5.7C-0.5,5.8 -1.1,5.2 -2.9,4.7C-4.7,4.2 -8.8,3.9 -9.5,2.7C-10.3,1.6 -8.6,-1.2 -7.5,-2.4C-6.3,-3.6 -4.4,-3.8 -2.7,-4.5C-1.1,-5.1 0.5,-6.4 2.3,-6.4C4.0,-6.4 6.8,-5.7 7.7,-4.5C8.7,-3.3 7.9,-0.6 7.9,0.8Z" fill="#3c3c3c" opacity="0.75"/><path d="M7.9,0.8C8.0,2.3 9.1,3.2 8.0,4.1C6.9,4.9 3.1,5.6 1.3,5.7C-0.5,5.8 -1.1,5.2 -2.9,4.7C-4.7,4.2 -8.8,3.9 -9.5,2.7C-10.3,1.6 -8.6,-1.2 -7.5,-2.4C-6.3,-3.6 -4.4,-3.8 -2.7,-4.5C-1.1,-5.1 0.5,-6.4 2.3,-6.4C4.0,-6.4 6.8,-5.7 7.7,-4.5C8.7,-3.3 7.9,-0.6 7.9,0.8Z" fill="url(#gpart)"/></g>
<g transform="translate(562.8,279.4) rotate(9)"><path transform="translate(0.9,1.2) scale(1.08)" d="M6.6,-1.0C6.7,0.1 6.1,2.3 5.1,3.3C4.0,4.3 2.0,5.0 0.5,5.1C-1.0,5.3 -2.8,4.7 -4.0,4.3C-5.1,3.9 -5.8,3.8 -6.3,2.9C-6.8,2.0 -7.7,0.3 -7.1,-1.1C-6.5,-2.5 -4.3,-4.8 -2.9,-5.5C-1.6,-6.1 -0.3,-5.2 1.0,-4.8C2.2,-4.4 3.8,-3.8 4.7,-3.2C5.7,-2.5 6.5,-2.1 6.6,-1.0Z" fill="#3c3c3c" opacity="0.75"/><path d="M6.6,-1.0C6.7,0.1 6.1,2.3 5.1,3.3C4.0,4.3 2.0,5.0 0.5,5.1C-1.0,5.3 -2.8,4.7 -4.0,4.3C-5.1,3.9 -5.8,3.8 -6.3,2.9C-6.8,2.0 -7.7,0.3 -7.1,-1.1C-6.5,-2.5 -4.3,-4.8 -2.9,-5.5C-1.6,-6.1 -0.3,-5.2 1.0,-4.8C2.2,-4.4 3.8,-3.8 4.7,-3.2C5.7,-2.5 6.5,-2.1 6.6,-1.0Z" fill="url(#gpart)"/></g>
<g transform="translate(763.4,270.4) rotate(9)"><path transform="translate(0.9,1.2) scale(1.08)" d="M6.2,-0.8C6.2,0.3 5.7,2.0 4.7,2.9C3.8,3.7 1.8,4.0 0.6,4.4C-0.6,4.8 -1.5,5.7 -2.7,5.3C-3.8,4.9 -5.8,3.5 -6.3,2.2C-6.7,1.0 -5.9,-1.4 -5.4,-2.4C-4.9,-3.3 -4.5,-3.1 -3.3,-3.4C-2.1,-3.7 0.4,-4.1 1.7,-4.1C3.1,-4.1 4.0,-3.8 4.8,-3.3C5.5,-2.7 6.2,-1.8 6.2,-0.8Z" fill="#3c3c3c" opacity="0.75"/><path d="M6.2,-0.8C6.2,0.3 5.7,2.0 4.7,2.9C3.8,3.7 1.8,4.0 0.6,4.4C-0.6,4.8 -1.5,5.7 -2.7,5.3C-3.8,4.9 -5.8,3.5 -6.3,2.2C-6.7,1.0 -5.9,-1.4 -5.4,-2.4C-4.9,-3.3 -4.5,-3.1 -3.3,-3.4C-2.1,-3.7 0.4,-4.1 1.7,-4.1C3.1,-4.1 4.0,-3.8 4.8,-3.3C5.5,-2.7 6.2,-1.8 6.2,-0.8Z" fill="url(#gpart)"/></g>
<g transform="translate(529.9,221.5) rotate(-23)"><path transform="translate(0.9,1.2) scale(1.08)" d="M8.4,-0.1C8.3,1.5 8.3,3.9 7.2,5.0C6.1,6.2 3.8,6.5 1.9,6.7C0.1,6.9 -2.4,6.7 -4.0,6.1C-5.6,5.6 -6.9,5.0 -7.6,3.4C-8.4,1.7 -9.1,-2.1 -8.4,-3.7C-7.6,-5.2 -4.8,-5.4 -2.9,-6.0C-0.9,-6.6 1.4,-7.5 3.3,-7.2C5.1,-6.9 7.3,-5.5 8.1,-4.3C9.0,-3.1 8.6,-1.6 8.4,-0.1Z" fill="#3c3c3c" opacity="0.75"/><path d="M8.4,-0.1C8.3,1.5 8.3,3.9 7.2,5.0C6.1,6.2 3.8,6.5 1.9,6.7C0.1,6.9 -2.4,6.7 -4.0,6.1C-5.6,5.6 -6.9,5.0 -7.6,3.4C-8.4,1.7 -9.1,-2.1 -8.4,-3.7C-7.6,-5.2 -4.8,-5.4 -2.9,-6.0C-0.9,-6.6 1.4,-7.5 3.3,-7.2C5.1,-6.9 7.3,-5.5 8.1,-4.3C9.0,-3.1 8.6,-1.6 8.4,-0.1Z" fill="url(#gpart)"/></g>
<g transform="translate(752.4,275.9) rotate(11)"><path transform="translate(0.9,1.2) scale(1.08)" d="M9.5,-0.5C9.6,0.4 8.0,1.3 6.9,2.0C5.8,2.7 4.9,3.5 3.0,3.7C1.2,3.9 -2.4,3.8 -4.2,3.3C-5.9,2.8 -6.9,1.5 -7.5,0.7C-8.0,-0.1 -8.0,-0.6 -7.5,-1.4C-7.0,-2.2 -6.1,-3.7 -4.5,-4.0C-2.9,-4.3 0.1,-3.6 1.9,-3.4C3.7,-3.3 5.1,-3.5 6.4,-3.1C7.6,-2.6 9.4,-1.3 9.5,-0.5Z" fill="#3c3c3c" opacity="0.75"/><path d="M9.5,-0.5C9.6,0.4 8.0,1.3 6.9,2.0C5.8,2.7 4.9,3.5 3.0,3.7C1.2,3.9 -2.4,3.8 -4.2,3.3C-5.9,2.8 -6.9,1.5 -7.5,0.7C-8.0,-0.1 -8.0,-0.6 -7.5,-1.4C-7.0,-2.2 -6.1,-3.7 -4.5,-4.0C-2.9,-4.3 0.1,-3.6 1.9,-3.4C3.7,-3.3 5.1,-3.5 6.4,-3.1C7.6,-2.6 9.4,-1.3 9.5,-0.5Z" fill="url(#gpart)"/></g>
<g transform="translate(600.1,296.4) rotate(29)"><path transform="translate(0.9,1.2) scale(1.08)" d="M9.4,-0.9C9.7,0.3 8.4,2.8 7.3,3.9C6.1,4.9 4.5,5.2 2.4,5.4C0.3,5.5 -3.2,5.4 -5.1,5.0C-7.0,4.6 -8.5,4.0 -9.0,3.0C-9.6,1.9 -9.1,-0.4 -8.5,-1.5C-7.9,-2.6 -7.2,-2.9 -5.4,-3.5C-3.5,-4.1 0.7,-5.1 2.6,-5.1C4.5,-5.1 4.7,-4.2 5.8,-3.5C7.0,-2.8 9.2,-2.2 9.4,-0.9Z" fill="#3c3c3c" opacity="0.75"/><path d="M9.4,-0.9C9.7,0.3 8.4,2.8 7.3,3.9C6.1,4.9 4.5,5.2 2.4,5.4C0.3,5.5 -3.2,5.4 -5.1,5.0C-7.0,4.6 -8.5,4.0 -9.0,3.0C-9.6,1.9 -9.1,-0.4 -8.5,-1.5C-7.9,-2.6 -7.2,-2.9 -5.4,-3.5C-3.5,-4.1 0.7,-5.1 2.6,-5.1C4.5,-5.1 4.7,-4.2 5.8,-3.5C7.0,-2.8 9.2,-2.2 9.4,-0.9Z" fill="url(#gpart)"/></g>
<g transform="translate(563.4,249.7) rotate(-22)"><path transform="translate(0.9,1.2) scale(1.08)" d="M5.6,-0.7C5.9,0.9 6.8,3.1 5.8,4.4C4.9,5.7 1.3,6.9 -0.2,7.1C-1.7,7.3 -2.0,6.5 -3.1,5.6C-4.2,4.7 -6.4,3.1 -6.9,1.7C-7.4,0.3 -6.4,-1.7 -5.9,-2.9C-5.4,-4.1 -5.2,-4.7 -3.9,-5.4C-2.6,-6.0 0.7,-6.7 2.1,-6.7C3.5,-6.7 3.8,-6.2 4.4,-5.2C4.9,-4.2 5.4,-2.3 5.6,-0.7Z" fill="#3c3c3c" opacity="0.75"/><path d="M5.6,-0.7C5.9,0.9 6.8,3.1 5.8,4.4C4.9,5.7 1.3,6.9 -0.2,7.1C-1.7,7.3 -2.0,6.5 -3.1,5.6C-4.2,4.7 -6.4,3.1 -6.9,1.7C-7.4,0.3 -6.4,-1.7 -5.9,-2.9C-5.4,-4.1 -5.2,-4.7 -3.9,-5.4C-2.6,-6.0 0.7,-6.7 2.1,-6.7C3.5,-6.7 3.8,-6.2 4.4,-5.2C4.9,-4.2 5.4,-2.3 5.6,-0.7Z" fill="url(#gpart)"/></g>
<g transform="translate(427.5,221.1) rotate(-9)"><path transform="translate(0.9,1.2) scale(1.08)" d="M8.0,-0.6C8.0,0.4 6.4,2.2 5.5,3.0C4.5,3.7 4.2,4.1 2.4,4.1C0.7,4.2 -3.4,3.9 -5.1,3.4C-6.8,2.9 -7.3,2.0 -7.5,1.1C-7.8,0.2 -7.0,-1.0 -6.4,-1.8C-5.9,-2.6 -5.5,-3.3 -4.1,-3.7C-2.6,-4.1 0.6,-4.3 2.2,-4.2C3.9,-4.2 4.8,-3.8 5.8,-3.2C6.7,-2.6 8.1,-1.6 8.0,-0.6Z" fill="#3c3c3c" opacity="0.75"/><path d="M8.0,-0.6C8.0,0.4 6.4,2.2 5.5,3.0C4.5,3.7 4.2,4.1 2.4,4.1C0.7,4.2 -3.4,3.9 -5.1,3.4C-6.8,2.9 -7.3,2.0 -7.5,1.1C-7.8,0.2 -7.0,-1.0 -6.4,-1.8C-5.9,-2.6 -5.5,-3.3 -4.1,-3.7C-2.6,-4.1 0.6,-4.3 2.2,-4.2C3.9,-4.2 4.8,-3.8 5.8,-3.2C6.7,-2.6 8.1,-1.6 8.0,-0.6Z" fill="url(#gpart)"/></g>
<g transform="translate(454.5,298.1) rotate(2)"><path transform="translate(0.9,1.2) scale(1.08)" d="M7.2,1.3C7.0,3.3 6.6,5.8 5.9,7.1C5.1,8.4 4.0,9.0 2.5,8.9C1.1,8.9 -1.5,7.9 -3.1,6.9C-4.7,5.8 -6.2,4.4 -7.2,2.7C-8.2,1.0 -9.6,-1.4 -9.0,-3.2C-8.5,-5.0 -5.6,-7.1 -3.9,-8.1C-2.2,-9.0 -0.7,-9.6 1.2,-9.1C3.1,-8.5 6.5,-6.6 7.5,-4.9C8.5,-3.1 7.5,-0.7 7.2,1.3Z" fill="#3c3c3c" opacity="0.75"/><path d="M7.2,1.3C7.0,3.3 6.6,5.8 5.9,7.1C5.1,8.4 4.0,9.0 2.5,8.9C1.1,8.9 -1.5,7.9 -3.1,6.9C-4.7,5.8 -6.2,4.4 -7.2,2.7C-8.2,1.0 -9.6,-1.4 -9.0,-3.2C-8.5,-5.0 -5.6,-7.1 -3.9,-8.1C-2.2,-9.0 -0.7,-9.6 1.2,-9.1C3.1,-8.5 6.5,-6.6 7.5,-4.9C8.5,-3.1 7.5,-0.7 7.2,1.3Z" fill="url(#gpart)"/></g>
<g transform="translate(644.7,275.0) rotate(27)"><path transform="translate(0.9,1.2) scale(1.08)" d="M8.7,1.0C9.0,2.6 9.6,3.2 8.2,4.3C6.8,5.4 2.6,7.1 0.3,7.6C-1.9,8.2 -4.1,8.6 -5.3,7.6C-6.6,6.6 -7.0,3.2 -7.3,1.5C-7.6,-0.1 -7.3,-0.9 -7.1,-2.3C-6.9,-3.7 -7.7,-5.9 -6.3,-6.9C-4.9,-7.9 -0.8,-8.6 1.3,-8.3C3.4,-7.9 5.2,-6.5 6.4,-5.0C7.7,-3.5 8.4,-0.5 8.7,1.0Z" fill="#3c3c3c" opacity="0.75"/><path d="M8.7,1.0C9.0,2.6 9.6,3.2 8.2,4.3C6.8,5.4 2.6,7.1 0.3,7.6C-1.9,8.2 -4.1,8.6 -5.3,7.6C-6.6,6.6 -7.0,3.2 -7.3,1.5C-7.6,-0.1 -7.3,-0.9 -7.1,-2.3C-6.9,-3.7 -7.7,-5.9 -6.3,-6.9C-4.9,-7.9 -0.8,-8.6 1.3,-8.3C3.4,-7.9 5.2,-6.5 6.4,-5.0C7.7,-3.5 8.4,-0.5 8.7,1.0Z" fill="url(#gpart)"/></g>
<g transform="translate(414.0,251.0) rotate(-17)"><path transform="translate(0.9,1.2) scale(1.08)" d="M6.4,-0.5C6.3,0.8 4.7,3.4 3.9,4.5C3.2,5.6 3.0,6.0 1.8,6.2C0.6,6.4 -1.9,6.4 -3.2,5.7C-4.5,5.1 -5.6,3.4 -6.1,2.2C-6.6,1.0 -6.3,-0.1 -6.0,-1.5C-5.7,-2.8 -5.2,-5.1 -4.1,-6.0C-3.1,-6.8 -1.2,-7.0 0.3,-6.6C1.7,-6.1 3.8,-4.4 4.8,-3.3C5.8,-2.3 6.6,-1.8 6.4,-0.5Z" fill="#3c3c3c" opacity="0.75"/><path d="M6.4,-0.5C6.3,0.8 4.7,3.4 3.9,4.5C3.2,5.6 3.0,6.0 1.8,6.2C0.6,6.4 -1.9,6.4 -3.2,5.7C-4.5,5.1 -5.6,3.4 -6.1,2.2C-6.6,1.0 -6.3,-0.1 -6.0,-1.5C-5.7,-2.8 -5.2,-5.1 -4.1,-6.0C-3.1,-6.8 -1.2,-7.0 0.3,-6.6C1.7,-6.1 3.8,-4.4 4.8,-3.3C5.8,-2.3 6.6,-1.8 6.4,-0.5Z" fill="url(#gpart)"/></g>
<g transform="translate(506.1,236.8) rotate(-17)"><path transform="translate(0.9,1.2) scale(1.08)" d="M9.4,1.1C9.2,2.5 7.1,3.9 5.8,5.0C4.6,6.1 3.7,7.4 1.8,7.7C-0.0,8.0 -3.6,7.6 -5.4,6.9C-7.2,6.1 -8.5,4.8 -9.1,3.4C-9.7,2.1 -9.7,-0.1 -9.1,-1.5C-8.5,-2.8 -7.5,-3.7 -5.4,-4.6C-3.4,-5.4 1.0,-6.5 3.1,-6.3C5.2,-6.1 6.0,-4.6 7.1,-3.4C8.1,-2.2 9.6,-0.3 9.4,1.1Z" fill="#3c3c3c" opacity="0.75"/><path d="M9.4,1.1C9.2,2.5 7.1,3.9 5.8,5.0C4.6,6.1 3.7,7.4 1.8,7.7C-0.0,8.0 -3.6,7.6 -5.4,6.9C-7.2,6.1 -8.5,4.8 -9.1,3.4C-9.7,2.1 -9.7,-0.1 -9.1,-1.5C-8.5,-2.8 -7.5,-3.7 -5.4,-4.6C-3.4,-5.4 1.0,-6.5 3.1,-6.3C5.2,-6.1 6.0,-4.6 7.1,-3.4C8.1,-2.2 9.6,-0.3 9.4,1.1Z" fill="url(#gpart)"/></g>
<g transform="translate(497.3,233.6) rotate(-9)"><path transform="translate(0.9,1.2) scale(1.08)" d="M6.7,-1.4C6.5,0.6 5.3,4.5 4.4,6.3C3.6,8.1 3.2,9.3 1.7,9.4C0.2,9.5 -3.1,7.8 -4.4,6.9C-5.7,6.1 -5.5,6.0 -6.0,4.4C-6.5,2.7 -7.6,-1.2 -7.2,-3.1C-6.9,-5.1 -5.3,-6.7 -3.8,-7.5C-2.4,-8.2 -0.1,-8.2 1.4,-7.9C3.0,-7.6 4.5,-6.8 5.4,-5.7C6.3,-4.6 6.8,-3.4 6.7,-1.4Z" fill="#3c3c3c" opacity="0.75"/><path d="M6.7,-1.4C6.5,0.6 5.3,4.5 4.4,6.3C3.6,8.1 3.2,9.3 1.7,9.4C0.2,9.5 -3.1,7.8 -4.4,6.9C-5.7,6.1 -5.5,6.0 -6.0,4.4C-6.5,2.7 -7.6,-1.2 -7.2,-3.1C-6.9,-5.1 -5.3,-6.7 -3.8,-7.5C-2.4,-8.2 -0.1,-8.2 1.4,-7.9C3.0,-7.6 4.5,-6.8 5.4,-5.7C6.3,-4.6 6.8,-3.4 6.7,-1.4Z" fill="url(#gpart)"/></g>
<g transform="translate(511.6,202.8) rotate(24)"><path transform="translate(0.9,1.2) scale(1.08)" d="M7.4,-0.0C7.1,0.8 5.4,2.1 4.2,2.9C3.0,3.7 1.7,4.6 0.3,4.7C-1.0,4.8 -2.5,4.3 -4.0,3.7C-5.4,3.1 -7.9,2.2 -8.5,1.2C-9.1,0.3 -8.2,-1.3 -7.6,-2.0C-7.0,-2.8 -6.1,-2.6 -4.8,-3.2C-3.5,-3.7 -1.5,-5.3 0.3,-5.1C2.0,-4.9 4.7,-2.9 5.9,-2.0C7.1,-1.2 7.7,-0.8 7.4,-0.0Z" fill="#3c3c3c" opacity="0.75"/><path d="M7.4,-0.0C7.1,0.8 5.4,2.1 4.2,2.9C3.0,3.7 1.7,4.6 0.3,4.7C-1.0,4.8 -2.5,4.3 -4.0,3.7C-5.4,3.1 -7.9,2.2 -8.5,1.2C-9.1,0.3 -8.2,-1.3 -7.6,-2.0C-7.0,-2.8 -6.1,-2.6 -4.8,-3.2C-3.5,-3.7 -1.5,-5.3 0.3,-5.1C2.0,-4.9 4.7,-2.9 5.9,-2.0C7.1,-1.2 7.7,-0.8 7.4,-0.0Z" fill="url(#gpart)"/></g>
<g transform="translate(629.7,296.1) rotate(5)"><path transform="translate(0.9,1.2) scale(1.08)" d="M5.9,0.1C5.9,1.2 6.9,2.6 6.0,3.4C5.2,4.1 2.4,4.6 0.8,4.7C-0.9,4.8 -2.6,4.3 -3.8,3.8C-5.0,3.3 -6.0,2.7 -6.5,1.6C-6.9,0.5 -6.9,-1.7 -6.3,-2.7C-5.7,-3.8 -4.1,-4.4 -2.9,-5.0C-1.7,-5.5 -0.5,-6.1 1.0,-5.8C2.5,-5.5 5.3,-4.1 6.1,-3.1C6.9,-2.1 6.0,-0.9 5.9,0.1Z" fill="#3c3c3c" opacity="0.75"/><path d="M5.9,0.1C5.9,1.2 6.9,2.6 6.0,3.4C5.2,4.1 2.4,4.6 0.8,4.7C-0.9,4.8 -2.6,4.3 -3.8,3.8C-5.0,3.3 -6.0,2.7 -6.5,1.6C-6.9,0.5 -6.9,-1.7 -6.3,-2.7C-5.7,-3.8 -4.1,-4.4 -2.9,-5.0C-1.7,-5.5 -0.5,-6.1 1.0,-5.8C2.5,-5.5 5.3,-4.1 6.1,-3.1C6.9,-2.1 6.0,-0.9 5.9,0.1Z" fill="url(#gpart)"/></g>
<g transform="translate(580.5,235.6) rotate(-13)"><path transform="translate(0.9,1.2) scale(1.08)" d="M5.2,-0.6C5.1,0.3 4.5,2.8 3.8,3.6C3.1,4.3 2.2,3.7 1.0,3.8C-0.1,3.9 -1.9,4.5 -2.9,4.3C-3.9,4.0 -4.6,3.1 -4.9,2.2C-5.2,1.4 -5.0,0.0 -4.7,-0.9C-4.4,-1.8 -4.0,-2.4 -3.1,-3.1C-2.2,-3.8 -0.4,-5.3 0.7,-5.1C1.9,-4.9 3.2,-2.7 4.0,-1.9C4.7,-1.2 5.2,-1.5 5.2,-0.6Z" fill="#3c3c3c" opacity="0.75"/><path d="M5.2,-0.6C5.1,0.3 4.5,2.8 3.8,3.6C3.1,4.3 2.2,3.7 1.0,3.8C-0.1,3.9 -1.9,4.5 -2.9,4.3C-3.9,4.0 -4.6,3.1 -4.9,2.2C-5.2,1.4 -5.0,0.0 -4.7,-0.9C-4.4,-1.8 -4.0,-2.4 -3.1,-3.1C-2.2,-3.8 -0.4,-5.3 0.7,-5.1C1.9,-4.9 3.2,-2.7 4.0,-1.9C4.7,-1.2 5.2,-1.5 5.2,-0.6Z" fill="url(#gpart)"/></g>
<g transform="translate(451.4,201.1) rotate(-11)"><path transform="translate(0.9,1.2) scale(1.08)" d="M5.7,0.8C5.9,1.9 5.7,2.4 5.1,3.0C4.5,3.6 3.3,4.3 1.9,4.5C0.6,4.8 -1.6,5.0 -2.9,4.4C-4.2,3.8 -5.1,1.7 -5.9,0.8C-6.6,-0.2 -7.5,-0.4 -7.1,-1.3C-6.8,-2.3 -5.2,-4.2 -3.7,-4.9C-2.2,-5.6 0.3,-5.8 1.6,-5.5C2.9,-5.2 3.4,-4.3 4.1,-3.2C4.8,-2.1 5.5,-0.2 5.7,0.8Z" fill="#3c3c3c" opacity="0.75"/><path d="M5.7,0.8C5.9,1.9 5.7,2.4 5.1,3.0C4.5,3.6 3.3,4.3 1.9,4.5C0.6,4.8 -1.6,5.0 -2.9,4.4C-4.2,3.8 -5.1,1.7 -5.9,0.8C-6.6,-0.2 -7.5,-0.4 -7.1,-1.3C-6.8,-2.3 -5.2,-4.2 -3.7,-4.9C-2.2,-5.6 0.3,-5.8 1.6,-5.5C2.9,-5.2 3.4,-4.3 4.1,-3.2C4.8,-2.1 5.5,-0.2 5.7,0.8Z" fill="url(#gpart)"/></g>
<g transform="translate(494.6,171.6) rotate(15)"><path transform="translate(0.9,1.2) scale(1.08)" d="M7.3,-0.1C7.3,1.5 6.5,4.7 5.6,5.9C4.7,7.1 3.5,7.2 1.8,7.3C0.1,7.3 -3.2,6.8 -4.6,6.1C-6.1,5.5 -6.3,4.8 -6.8,3.5C-7.3,2.1 -7.9,-0.5 -7.6,-2.1C-7.3,-3.8 -6.7,-5.8 -5.2,-6.6C-3.7,-7.5 -0.5,-7.8 1.4,-7.3C3.2,-6.8 4.8,-4.8 5.8,-3.6C6.7,-2.4 7.4,-1.7 7.3,-0.1Z" fill="#3c3c3c" opacity="0.75"/><path d="M7.3,-0.1C7.3,1.5 6.5,4.7 5.6,5.9C4.7,7.1 3.5,7.2 1.8,7.3C0.1,7.3 -3.2,6.8 -4.6,6.1C-6.1,5.5 -6.3,4.8 -6.8,3.5C-7.3,2.1 -7.9,-0.5 -7.6,-2.1C-7.3,-3.8 -6.7,-5.8 -5.2,-6.6C-3.7,-7.5 -0.5,-7.8 1.4,-7.3C3.2,-6.8 4.8,-4.8 5.8,-3.6C6.7,-2.4 7.4,-1.7 7.3,-0.1Z" fill="url(#gpart)"/></g>
<g transform="translate(635.8,240.8) rotate(-15)"><path transform="translate(0.9,1.2) scale(1.08)" d="M7.8,-0.8C7.8,0.3 6.7,2.6 5.7,3.6C4.7,4.6 3.2,5.1 1.8,5.2C0.4,5.3 -0.9,4.8 -2.6,4.2C-4.4,3.6 -7.8,2.6 -8.6,1.6C-9.4,0.6 -8.5,-1.0 -7.6,-2.0C-6.7,-3.0 -4.8,-3.8 -3.0,-4.2C-1.3,-4.7 1.5,-5.0 2.9,-4.9C4.3,-4.7 4.6,-3.9 5.4,-3.2C6.2,-2.5 7.7,-2.0 7.8,-0.8Z" fill="#3c3c3c" opacity="0.75"/><path d="M7.8,-0.8C7.8,0.3 6.7,2.6 5.7,3.6C4.7,4.6 3.2,5.1 1.8,5.2C0.4,5.3 -0.9,4.8 -2.6,4.2C-4.4,3.6 -7.8,2.6 -8.6,1.6C-9.4,0.6 -8.5,-1.0 -7.6,-2.0C-6.7,-3.0 -4.8,-3.8 -3.0,-4.2C-1.3,-4.7 1.5,-5.0 2.9,-4.9C4.3,-4.7 4.6,-3.9 5.4,-3.2C6.2,-2.5 7.7,-2.0 7.8,-0.8Z" fill="url(#gpart)"/></g>
<g transform="translate(674.4,225.1) rotate(18)"><path transform="translate(0.9,1.2) scale(1.08)" d="M6.4,-0.4C6.4,1.1 5.7,3.9 4.8,5.2C4.0,6.4 2.7,7.2 1.3,7.1C-0.2,7.0 -2.8,5.4 -4.0,4.6C-5.1,3.8 -5.2,3.5 -5.6,2.3C-6.1,1.2 -7.3,-0.6 -6.9,-2.1C-6.4,-3.6 -4.2,-6.0 -2.8,-6.7C-1.5,-7.4 0.1,-6.9 1.4,-6.5C2.8,-6.0 4.4,-4.9 5.2,-3.9C6.1,-2.9 6.5,-1.9 6.4,-0.4Z" fill="#3c3c3c" opacity="0.75"/><path d="M6.4,-0.4C6.4,1.1 5.7,3.9 4.8,5.2C4.0,6.4 2.7,7.2 1.3,7.1C-0.2,7.0 -2.8,5.4 -4.0,4.6C-5.1,3.8 -5.2,3.5 -5.6,2.3C-6.1,1.2 -7.3,-0.6 -6.9,-2.1C-6.4,-3.6 -4.2,-6.0 -2.8,-6.7C-1.5,-7.4 0.1,-6.9 1.4,-6.5C2.8,-6.0 4.4,-4.9 5.2,-3.9C6.1,-2.9 6.5,-1.9 6.4,-0.4Z" fill="url(#gpart)"/></g>
<g transform="translate(581.4,203.5) rotate(21)"><path transform="translate(0.9,1.2) scale(1.08)" d="M6.2,0.6C6.4,1.6 5.9,2.0 5.0,2.7C4.0,3.5 1.9,4.6 0.4,4.9C-1.1,5.1 -2.9,4.9 -4.0,4.3C-5.0,3.7 -5.7,2.4 -6.0,1.4C-6.3,0.3 -6.1,-1.3 -5.8,-2.2C-5.4,-3.1 -4.9,-3.6 -3.7,-4.1C-2.5,-4.5 0.3,-5.1 1.5,-4.9C2.6,-4.7 2.6,-3.9 3.4,-3.0C4.1,-2.0 5.9,-0.3 6.2,0.6Z" fill="#3c3c3c" opacity="0.75"/><path d="M6.2,0.6C6.4,1.6 5.9,2.0 5.0,2.7C4.0,3.5 1.9,4.6 0.4,4.9C-1.1,5.1 -2.9,4.9 -4.0,4.3C-5.0,3.7 -5.7,2.4 -6.0,1.4C-6.3,0.3 -6.1,-1.3 -5.8,-2.2C-5.4,-3.1 -4.9,-3.6 -3.7,-4.1C-2.5,-4.5 0.3,-5.1 1.5,-4.9C2.6,-4.7 2.6,-3.9 3.4,-3.0C4.1,-2.0 5.9,-0.3 6.2,0.6Z" fill="url(#gpart)"/></g>
<g transform="translate(598.2,213.9) rotate(6)"><path transform="translate(0.9,1.2) scale(1.08)" d="M6.8,0.5C7.0,1.2 6.3,1.4 5.6,2.0C4.9,2.5 4.4,3.7 2.6,3.9C0.8,4.2 -3.7,3.7 -5.3,3.3C-7.0,2.9 -6.8,2.3 -7.2,1.7C-7.7,1.0 -8.7,-0.0 -8.1,-0.8C-7.5,-1.5 -5.0,-2.3 -3.5,-2.7C-1.9,-3.2 0.1,-3.4 1.5,-3.4C2.8,-3.3 3.6,-3.0 4.4,-2.4C5.3,-1.7 6.6,-0.3 6.8,0.5Z" fill="#3c3c3c" opacity="0.75"/><path d="M6.8,0.5C7.0,1.2 6.3,1.4 5.6,2.0C4.9,2.5 4.4,3.7 2.6,3.9C0.8,4.2 -3.7,3.7 -5.3,3.3C-7.0,2.9 -6.8,2.3 -7.2,1.7C-7.7,1.0 -8.7,-0.0 -8.1,-0.8C-7.5,-1.5 -5.0,-2.3 -3.5,-2.7C-1.9,-3.2 0.1,-3.4 1.5,-3.4C2.8,-3.3 3.6,-3.0 4.4,-2.4C5.3,-1.7 6.6,-0.3 6.8,0.5Z" fill="url(#gpart)"/></g>
<g transform="translate(536.6,282.6) rotate(-3)"><path transform="translate(0.9,1.2) scale(1.08)" d="M6.1,0.2C6.4,1.7 6.1,2.7 5.4,3.6C4.6,4.5 3.0,5.3 1.6,5.6C0.3,5.9 -1.7,5.7 -2.9,5.2C-4.0,4.7 -4.7,3.8 -5.2,2.7C-5.7,1.6 -6.2,-0.3 -5.9,-1.7C-5.7,-3.1 -5.0,-5.1 -3.7,-5.8C-2.4,-6.6 0.4,-6.4 1.7,-6.3C2.9,-6.3 3.1,-6.6 3.8,-5.5C4.6,-4.4 5.9,-1.4 6.1,0.2Z" fill="#3c3c3c" opacity="0.75"/><path d="M6.1,0.2C6.4,1.7 6.1,2.7 5.4,3.6C4.6,4.5 3.0,5.3 1.6,5.6C0.3,5.9 -1.7,5.7 -2.9,5.2C-4.0,4.7 -4.7,3.8 -5.2,2.7C-5.7,1.6 -6.2,-0.3 -5.9,-1.7C-5.7,-3.1 -5.0,-5.1 -3.7,-5.8C-2.4,-6.6 0.4,-6.4 1.7,-6.3C2.9,-6.3 3.1,-6.6 3.8,-5.5C4.6,-4.4 5.9,-1.4 6.1,0.2Z" fill="url(#gpart)"/></g>
<g transform="translate(590.1,199.8) rotate(-28)"><path transform="translate(0.9,1.2) scale(1.08)" d="M9.3,0.0C9.7,1.1 10.0,1.9 8.6,2.8C7.2,3.7 3.0,5.1 0.8,5.4C-1.3,5.7 -2.9,5.3 -4.4,4.7C-5.9,4.0 -7.3,2.8 -8.2,1.5C-9.1,0.2 -10.4,-1.7 -9.7,-2.9C-9.1,-4.1 -6.1,-5.1 -4.3,-5.6C-2.5,-6.1 -0.6,-6.4 1.2,-6.1C2.9,-5.8 4.7,-5.0 6.1,-4.0C7.4,-3.0 8.8,-1.1 9.3,0.0Z" fill="#3c3c3c" opacity="0.75"/><path d="M9.3,0.0C9.7,1.1 10.0,1.9 8.6,2.8C7.2,3.7 3.0,5.1 0.8,5.4C-1.3,5.7 -2.9,5.3 -4.4,4.7C-5.9,4.0 -7.3,2.8 -8.2,1.5C-9.1,0.2 -10.4,-1.7 -9.7,-2.9C-9.1,-4.1 -6.1,-5.1 -4.3,-5.6C-2.5,-6.1 -0.6,-6.4 1.2,-6.1C2.9,-5.8 4.7,-5.0 6.1,-4.0C7.4,-3.0 8.8,-1.1 9.3,0.0Z" fill="url(#gpart)"/></g>
<g transform="translate(698.2,181.7) rotate(-22)"><path transform="translate(0.9,1.2) scale(1.08)" d="M5.0,-0.2C4.9,1.7 4.0,4.4 3.3,5.6C2.6,6.8 1.9,6.9 1.0,7.0C0.1,7.2 -1.1,7.1 -2.0,6.6C-3.0,6.1 -4.1,5.5 -4.5,4.0C-4.9,2.4 -4.6,-0.9 -4.3,-2.7C-4.1,-4.6 -3.8,-6.1 -3.0,-6.9C-2.3,-7.7 -0.9,-7.7 0.2,-7.4C1.4,-7.2 3.1,-6.6 3.9,-5.4C4.7,-4.2 5.1,-2.0 5.0,-0.2Z" fill="#3c3c3c" opacity="0.75"/><path d="M5.0,-0.2C4.9,1.7 4.0,4.4 3.3,5.6C2.6,6.8 1.9,6.9 1.0,7.0C0.1,7.2 -1.1,7.1 -2.0,6.6C-3.0,6.1 -4.1,5.5 -4.5,4.0C-4.9,2.4 -4.6,-0.9 -4.3,-2.7C-4.1,-4.6 -3.8,-6.1 -3.0,-6.9C-2.3,-7.7 -0.9,-7.7 0.2,-7.4C1.4,-7.2 3.1,-6.6 3.9,-5.4C4.7,-4.2 5.1,-2.0 5.0,-0.2Z" fill="url(#gpart)"/></g>
<g transform="translate(570.3,167.9) rotate(28)"><path transform="translate(0.9,1.2) scale(1.08)" d="M7.2,0.7C7.3,2.1 5.5,4.1 4.4,4.9C3.3,5.6 1.6,5.1 0.5,5.1C-0.6,5.0 -0.9,5.2 -2.1,4.6C-3.3,4.0 -6.1,2.4 -6.7,1.3C-7.2,0.2 -6.0,-1.2 -5.4,-2.1C-4.8,-3.1 -4.3,-3.6 -3.1,-4.4C-1.9,-5.2 0.5,-6.9 1.7,-6.7C2.8,-6.6 2.9,-4.8 3.8,-3.5C4.8,-2.3 7.2,-0.7 7.2,0.7Z" fill="#3c3c3c" opacity="0.75"/><path d="M7.2,0.7C7.3,2.1 5.5,4.1 4.4,4.9C3.3,5.6 1.6,5.1 0.5,5.1C-0.6,5.0 -0.9,5.2 -2.1,4.6C-3.3,4.0 -6.1,2.4 -6.7,1.3C-7.2,0.2 -6.0,-1.2 -5.4,-2.1C-4.8,-3.1 -4.3,-3.6 -3.1,-4.4C-1.9,-5.2 0.5,-6.9 1.7,-6.7C2.8,-6.6 2.9,-4.8 3.8,-3.5C4.8,-2.3 7.2,-0.7 7.2,0.7Z" fill="url(#gpart)"/></g>
<g transform="translate(684.1,174.7) rotate(-19)"><path transform="translate(0.9,1.2) scale(1.08)" d="M6.2,-0.6C6.1,1.3 4.4,4.8 3.7,6.1C2.9,7.3 2.5,6.5 1.6,6.9C0.6,7.3 -1.0,9.1 -2.2,8.6C-3.5,8.0 -5.5,5.7 -6.0,3.5C-6.5,1.3 -5.7,-2.6 -5.2,-4.6C-4.8,-6.5 -4.0,-7.6 -3.1,-8.1C-2.2,-8.5 -1.1,-7.8 0.1,-7.3C1.4,-6.9 3.3,-6.4 4.3,-5.3C5.3,-4.1 6.3,-2.4 6.2,-0.6Z" fill="#3c3c3c" opacity="0.75"/><path d="M6.2,-0.6C6.1,1.3 4.4,4.8 3.7,6.1C2.9,7.3 2.5,6.5 1.6,6.9C0.6,7.3 -1.0,9.1 -2.2,8.6C-3.5,8.0 -5.5,5.7 -6.0,3.5C-6.5,1.3 -5.7,-2.6 -5.2,-4.6C-4.8,-6.5 -4.0,-7.6 -3.1,-8.1C-2.2,-8.5 -1.1,-7.8 0.1,-7.3C1.4,-6.9 3.3,-6.4 4.3,-5.3C5.3,-4.1 6.3,-2.4 6.2,-0.6Z" fill="url(#gpart)"/></g>
<g transform="translate(685.3,181.2) rotate(-17)"><path transform="translate(0.9,1.2) scale(1.08)" d="M5.1,-0.5C5.1,1.1 5.1,3.4 4.3,4.5C3.4,5.7 1.2,6.3 -0.0,6.5C-1.3,6.6 -2.1,6.0 -3.2,5.3C-4.2,4.6 -6.0,3.6 -6.3,2.4C-6.5,1.1 -5.2,-1.3 -4.8,-2.3C-4.3,-3.3 -4.7,-3.3 -3.7,-3.8C-2.7,-4.3 -0.1,-5.1 1.2,-5.2C2.5,-5.4 3.6,-5.6 4.3,-4.8C4.9,-4.0 5.1,-2.0 5.1,-0.5Z" fill="#3c3c3c" opacity="0.75"/><path d="M5.1,-0.5C5.1,1.1 5.1,3.4 4.3,4.5C3.4,5.7 1.2,6.3 -0.0,6.5C-1.3,6.6 -2.1,6.0 -3.2,5.3C-4.2,4.6 -6.0,3.6 -6.3,2.4C-6.5,1.1 -5.2,-1.3 -4.8,-2.3C-4.3,-3.3 -4.7,-3.3 -3.7,-3.8C-2.7,-4.3 -0.1,-5.1 1.2,-5.2C2.5,-5.4 3.6,-5.6 4.3,-4.8C4.9,-4.0 5.1,-2.0 5.1,-0.5Z" fill="url(#gpart)"/></g>
<g transform="translate(660.9,247.4) rotate(17)"><path transform="translate(0.9,1.2) scale(1.08)" d="M7.5,-0.1C7.6,1.8 6.6,4.8 5.9,5.9C5.1,7.1 4.7,6.6 2.8,6.9C0.9,7.1 -3.5,8.0 -5.4,7.4C-7.3,6.7 -8.3,4.3 -8.7,2.8C-9.1,1.3 -8.8,0.0 -7.9,-1.6C-6.9,-3.3 -4.3,-5.9 -3.0,-7.0C-1.7,-8.1 -1.2,-8.3 0.1,-8.0C1.5,-7.7 4.0,-6.6 5.3,-5.2C6.5,-3.9 7.4,-2.0 7.5,-0.1Z" fill="#3c3c3c" opacity="0.75"/><path d="M7.5,-0.1C7.6,1.8 6.6,4.8 5.9,5.9C5.1,7.1 4.7,6.6 2.8,6.9C0.9,7.1 -3.5,8.0 -5.4,7.4C-7.3,6.7 -8.3,4.3 -8.7,2.8C-9.1,1.3 -8.8,0.0 -7.9,-1.6C-6.9,-3.3 -4.3,-5.9 -3.0,-7.0C-1.7,-8.1 -1.2,-8.3 0.1,-8.0C1.5,-7.7 4.0,-6.6 5.3,-5.2C6.5,-3.9 7.4,-2.0 7.5,-0.1Z" fill="url(#gpart)"/></g>
<g transform="translate(600.2,264.9) rotate(-3)"><path transform="translate(0.9,1.2) scale(1.08)" d="M8.6,0.3C8.4,1.8 6.7,3.9 5.7,5.2C4.8,6.4 4.4,7.3 3.0,7.6C1.6,7.9 -0.9,7.7 -2.8,7.0C-4.6,6.2 -7.4,4.6 -8.1,3.0C-8.8,1.4 -7.5,-1.2 -6.8,-2.9C-6.1,-4.6 -5.3,-6.5 -3.9,-7.1C-2.6,-7.7 -0.7,-7.0 1.2,-6.5C3.1,-6.0 6.1,-5.1 7.3,-3.9C8.6,-2.8 8.9,-1.2 8.6,0.3Z" fill="#3c3c3c" opacity="0.75"/><path d="M8.6,0.3C8.4,1.8 6.7,3.9 5.7,5.2C4.8,6.4 4.4,7.3 3.0,7.6C1.6,7.9 -0.9,7.7 -2.8,7.0C-4.6,6.2 -7.4,4.6 -8.1,3.0C-8.8,1.4 -7.5,-1.2 -6.8,-2.9C-6.1,-4.6 -5.3,-6.5 -3.9,-7.1C-2.6,-7.7 -0.7,-7.0 1.2,-6.5C3.1,-6.0 6.1,-5.1 7.3,-3.9C8.6,-2.8 8.9,-1.2 8.6,0.3Z" fill="url(#gpart)"/></g>
<g transform="translate(583.9,271.6) rotate(-26)"><path transform="translate(0.9,1.2) scale(1.08)" d="M9.3,-1.0C9.4,0.8 7.9,2.7 6.5,4.4C5.0,6.1 2.4,8.6 0.5,9.1C-1.3,9.6 -3.7,8.4 -4.8,7.5C-5.8,6.6 -5.5,5.7 -6.0,3.6C-6.5,1.6 -7.9,-3.2 -7.6,-4.7C-7.4,-6.2 -5.8,-4.5 -4.5,-5.3C-3.1,-6.1 -1.1,-9.3 0.7,-9.4C2.4,-9.6 4.4,-7.7 5.9,-6.3C7.3,-4.9 9.2,-2.8 9.3,-1.0Z" fill="#3c3c3c" opacity="0.75"/><path d="M9.3,-1.0C9.4,0.8 7.9,2.7 6.5,4.4C5.0,6.1 2.4,8.6 0.5,9.1C-1.3,9.6 -3.7,8.4 -4.8,7.5C-5.8,6.6 -5.5,5.7 -6.0,3.6C-6.5,1.6 -7.9,-3.2 -7.6,-4.7C-7.4,-6.2 -5.8,-4.5 -4.5,-5.3C-3.1,-6.1 -1.1,-9.3 0.7,-9.4C2.4,-9.6 4.4,-7.7 5.9,-6.3C7.3,-4.9 9.2,-2.8 9.3,-1.0Z" fill="url(#gpart)"/></g>
<g transform="translate(449.8,283.9) rotate(26)"><path transform="translate(0.9,1.2) scale(1.08)" d="M4.9,0.5C4.9,1.6 3.7,2.6 3.1,3.8C2.6,4.9 2.5,6.9 1.7,7.6C0.9,8.3 -0.9,9.1 -1.8,8.1C-2.7,7.1 -3.5,3.6 -3.7,1.8C-4.0,-0.1 -3.7,-1.8 -3.4,-3.0C-3.1,-4.3 -2.7,-4.8 -1.9,-5.6C-1.1,-6.5 0.6,-8.5 1.4,-8.1C2.2,-7.7 2.5,-4.6 3.1,-3.2C3.7,-1.7 4.9,-0.7 4.9,0.5Z" fill="#3c3c3c" opacity="0.75"/><path d="M4.9,0.5C4.9,1.6 3.7,2.6 3.1,3.8C2.6,4.9 2.5,6.9 1.7,7.6C0.9,8.3 -0.9,9.1 -1.8,8.1C-2.7,7.1 -3.5,3.6 -3.7,1.8C-4.0,-0.1 -3.7,-1.8 -3.4,-3.0C-3.1,-4.3 -2.7,-4.8 -1.9,-5.6C-1.1,-6.5 0.6,-8.5 1.4,-8.1C2.2,-7.7 2.5,-4.6 3.1,-3.2C3.7,-1.7 4.9,-0.7 4.9,0.5Z" fill="url(#gpart)"/></g>
<g transform="translate(626.5,230.4) rotate(21)"><path transform="translate(0.9,1.2) scale(1.08)" d="M10.4,0.2C10.6,1.5 9.0,3.3 7.5,4.4C6.0,5.6 3.1,7.1 1.4,7.2C-0.3,7.4 -1.2,6.2 -2.8,5.3C-4.4,4.4 -7.5,3.2 -8.3,2.0C-9.1,0.8 -8.3,-0.5 -7.5,-1.7C-6.7,-2.9 -5.0,-4.2 -3.3,-5.1C-1.5,-6.0 1.6,-7.2 3.1,-7.0C4.7,-6.8 5.0,-5.0 6.2,-3.8C7.4,-2.6 10.2,-1.2 10.4,0.2Z" fill="#3c3c3c" opacity="0.75"/><path d="M10.4,0.2C10.6,1.5 9.0,3.3 7.5,4.4C6.0,5.6 3.1,7.1 1.4,7.2C-0.3,7.4 -1.2,6.2 -2.8,5.3C-4.4,4.4 -7.5,3.2 -8.3,2.0C-9.1,0.8 -8.3,-0.5 -7.5,-1.7C-6.7,-2.9 -5.0,-4.2 -3.3,-5.1C-1.5,-6.0 1.6,-7.2 3.1,-7.0C4.7,-6.8 5.0,-5.0 6.2,-3.8C7.4,-2.6 10.2,-1.2 10.4,0.2Z" fill="url(#gpart)"/></g>
<g transform="translate(561.8,271.4) rotate(9)"><path transform="translate(0.9,1.2) scale(1.08)" d="M8.7,-0.8C8.7,0.5 10.1,2.8 8.9,4.0C7.6,5.2 3.4,5.9 1.3,6.3C-0.7,6.8 -1.6,7.6 -3.4,6.8C-5.2,6.0 -8.9,2.9 -9.7,1.6C-10.6,0.2 -9.1,0.1 -8.4,-1.2C-7.7,-2.5 -7.0,-5.1 -5.5,-6.0C-4.1,-7.0 -2.0,-7.4 0.3,-7.0C2.6,-6.5 7.1,-4.6 8.5,-3.6C9.9,-2.5 8.6,-2.0 8.7,-0.8Z" fill="#3c3c3c" opacity="0.75"/><path d="M8.7,-0.8C8.7,0.5 10.1,2.8 8.9,4.0C7.6,5.2 3.4,5.9 1.3,6.3C-0.7,6.8 -1.6,7.6 -3.4,6.8C-5.2,6.0 -8.9,2.9 -9.7,1.6C-10.6,0.2 -9.1,0.1 -8.4,-1.2C-7.7,-2.5 -7.0,-5.1 -5.5,-6.0C-4.1,-7.0 -2.0,-7.4 0.3,-7.0C2.6,-6.5 7.1,-4.6 8.5,-3.6C9.9,-2.5 8.6,-2.0 8.7,-0.8Z" fill="url(#gpart)"/></g>
<g transform="translate(547.0,223.9) rotate(-30)"><path transform="translate(0.9,1.2) scale(1.08)" d="M5.8,-1.1C5.6,0.6 5.7,3.9 5.0,5.3C4.2,6.6 2.5,6.9 1.1,7.1C-0.3,7.3 -1.9,7.5 -3.3,6.7C-4.7,5.9 -6.8,4.1 -7.3,2.4C-7.9,0.7 -7.5,-1.8 -6.7,-3.4C-5.9,-5.1 -4.0,-7.2 -2.6,-7.6C-1.3,-8.0 0.0,-6.4 1.5,-5.9C2.9,-5.5 5.4,-5.6 6.1,-4.8C6.8,-4.0 6.0,-2.7 5.8,-1.1Z" fill="#3c3c3c" opacity="0.75"/><path d="M5.8,-1.1C5.6,0.6 5.7,3.9 5.0,5.3C4.2,6.6 2.5,6.9 1.1,7.1C-0.3,7.3 -1.9,7.5 -3.3,6.7C-4.7,5.9 -6.8,4.1 -7.3,2.4C-7.9,0.7 -7.5,-1.8 -6.7,-3.4C-5.9,-5.1 -4.0,-7.2 -2.6,-7.6C-1.3,-8.0 0.0,-6.4 1.5,-5.9C2.9,-5.5 5.4,-5.6 6.1,-4.8C6.8,-4.0 6.0,-2.7 5.8,-1.1Z" fill="url(#gpart)"/></g>
<g transform="translate(513.6,215.0) rotate(-4)"><path transform="translate(0.9,1.2) scale(1.08)" d="M6.4,0.8C6.1,2.0 5.6,3.5 4.6,4.3C3.6,5.0 1.9,5.1 0.6,5.2C-0.6,5.3 -1.9,5.4 -3.0,4.9C-4.0,4.3 -4.9,3.2 -5.8,2.0C-6.6,0.8 -8.4,-0.8 -8.0,-2.1C-7.7,-3.4 -5.4,-5.1 -3.7,-5.8C-2.0,-6.5 0.5,-6.5 2.2,-6.1C4.0,-5.6 6.2,-4.1 6.9,-2.9C7.6,-1.8 6.8,-0.4 6.4,0.8Z" fill="#3c3c3c" opacity="0.75"/><path d="M6.4,0.8C6.1,2.0 5.6,3.5 4.6,4.3C3.6,5.0 1.9,5.1 0.6,5.2C-0.6,5.3 -1.9,5.4 -3.0,4.9C-4.0,4.3 -4.9,3.2 -5.8,2.0C-6.6,0.8 -8.4,-0.8 -8.0,-2.1C-7.7,-3.4 -5.4,-5.1 -3.7,-5.8C-2.0,-6.5 0.5,-6.5 2.2,-6.1C4.0,-5.6 6.2,-4.1 6.9,-2.9C7.6,-1.8 6.8,-0.4 6.4,0.8Z" fill="url(#gpart)"/></g>
<g transform="translate(524.8,271.9) rotate(-14)"><path transform="translate(0.9,1.2) scale(1.08)" d="M8.5,-0.6C8.6,0.6 8.4,1.5 7.0,2.8C5.6,4.0 2.1,6.6 0.2,7.1C-1.7,7.7 -2.6,7.0 -4.2,6.1C-5.9,5.2 -9.1,3.2 -9.7,1.7C-10.3,0.2 -8.6,-1.7 -8.0,-2.8C-7.4,-4.0 -7.7,-4.8 -6.2,-5.4C-4.7,-6.0 -1.2,-6.6 0.9,-6.5C3.0,-6.3 5.3,-5.3 6.5,-4.3C7.8,-3.3 8.4,-1.8 8.5,-0.6Z" fill="#3c3c3c" opacity="0.75"/><path d="M8.5,-0.6C8.6,0.6 8.4,1.5 7.0,2.8C5.6,4.0 2.1,6.6 0.2,7.1C-1.7,7.7 -2.6,7.0 -4.2,6.1C-5.9,5.2 -9.1,3.2 -9.7,1.7C-10.3,0.2 -8.6,-1.7 -8.0,-2.8C-7.4,-4.0 -7.7,-4.8 -6.2,-5.4C-4.7,-6.0 -1.2,-6.6 0.9,-6.5C3.0,-6.3 5.3,-5.3 6.5,-4.3C7.8,-3.3 8.4,-1.8 8.5,-0.6Z" fill="url(#gpart)"/></g>
<g transform="translate(571.8,185.4) rotate(28)"><path transform="translate(0.9,1.2) scale(1.08)" d="M6.0,-0.6C5.9,0.2 5.4,2.3 4.4,3.1C3.4,4.0 1.4,4.3 -0.0,4.4C-1.4,4.5 -3.2,4.3 -4.0,3.7C-4.9,3.1 -4.8,1.4 -5.1,0.6C-5.3,-0.2 -5.9,-0.3 -5.4,-1.0C-4.8,-1.7 -2.7,-2.9 -1.8,-3.5C-0.8,-4.2 -0.6,-5.1 0.5,-4.8C1.6,-4.6 3.7,-2.6 4.7,-1.9C5.6,-1.2 6.0,-1.5 6.0,-0.6Z" fill="#3c3c3c" opacity="0.75"/><path d="M6.0,-0.6C5.9,0.2 5.4,2.3 4.4,3.1C3.4,4.0 1.4,4.3 -0.0,4.4C-1.4,4.5 -3.2,4.3 -4.0,3.7C-4.9,3.1 -4.8,1.4 -5.1,0.6C-5.3,-0.2 -5.9,-0.3 -5.4,-1.0C-4.8,-1.7 -2.7,-2.9 -1.8,-3.5C-0.8,-4.2 -0.6,-5.1 0.5,-4.8C1.6,-4.6 3.7,-2.6 4.7,-1.9C5.6,-1.2 6.0,-1.5 6.0,-0.6Z" fill="url(#gpart)"/></g>
<g transform="translate(622.5,242.4) rotate(-4)"><path transform="translate(0.9,1.2) scale(1.08)" d="M5.1,0.7C5.2,2.5 4.3,5.3 3.6,6.4C3.0,7.5 2.1,7.0 1.2,7.3C0.3,7.6 -0.8,8.9 -1.7,8.3C-2.5,7.6 -3.5,5.5 -3.9,3.4C-4.4,1.3 -4.6,-2.6 -4.3,-4.4C-4.1,-6.3 -3.3,-7.0 -2.4,-7.7C-1.5,-8.4 0.2,-9.0 1.1,-8.6C2.0,-8.1 2.3,-6.5 2.9,-4.9C3.6,-3.4 5.0,-1.2 5.1,0.7Z" fill="#3c3c3c" opacity="0.75"/><path d="M5.1,0.7C5.2,2.5 4.3,5.3 3.6,6.4C3.0,7.5 2.1,7.0 1.2,7.3C0.3,7.6 -0.8,8.9 -1.7,8.3C-2.5,7.6 -3.5,5.5 -3.9,3.4C-4.4,1.3 -4.6,-2.6 -4.3,-4.4C-4.1,-6.3 -3.3,-7.0 -2.4,-7.7C-1.5,-8.4 0.2,-9.0 1.1,-8.6C2.0,-8.1 2.3,-6.5 2.9,-4.9C3.6,-3.4 5.0,-1.2 5.1,0.7Z" fill="url(#gpart)"/></g>
<g transform="translate(525.6,279.9) rotate(-26)"><path transform="translate(0.9,1.2) scale(1.08)" d="M8.2,-1.6C8.2,0.3 7.5,2.0 6.5,3.9C5.4,5.7 3.6,9.2 1.8,9.6C-0.1,10.0 -3.0,7.8 -4.6,6.5C-6.1,5.1 -7.0,3.1 -7.6,1.8C-8.1,0.5 -8.5,0.1 -8.0,-1.5C-7.6,-3.1 -6.5,-6.4 -4.9,-7.6C-3.4,-8.9 -0.5,-9.0 1.4,-9.0C3.3,-8.9 5.4,-8.6 6.5,-7.3C7.6,-6.1 8.2,-3.4 8.2,-1.6Z" fill="#3c3c3c" opacity="0.75"/><path d="M8.2,-1.6C8.2,0.3 7.5,2.0 6.5,3.9C5.4,5.7 3.6,9.2 1.8,9.6C-0.1,10.0 -3.0,7.8 -4.6,6.5C-6.1,5.1 -7.0,3.1 -7.6,1.8C-8.1,0.5 -8.5,0.1 -8.0,-1.5C-7.6,-3.1 -6.5,-6.4 -4.9,-7.6C-3.4,-8.9 -0.5,-9.0 1.4,-9.0C3.3,-8.9 5.4,-8.6 6.5,-7.3C7.6,-6.1 8.2,-3.4 8.2,-1.6Z" fill="url(#gpart)"/></g>
<g transform="translate(479.5,220.2) rotate(-9)"><path transform="translate(0.9,1.2) scale(1.08)" d="M7.6,0.4C7.7,1.3 6.8,2.0 5.6,2.6C4.4,3.3 2.0,4.3 0.3,4.3C-1.4,4.4 -3.5,3.4 -4.7,3.0C-5.9,2.6 -6.6,2.6 -7.0,1.8C-7.4,1.0 -7.5,-0.8 -7.0,-1.7C-6.6,-2.6 -5.7,-3.3 -4.2,-3.6C-2.7,-3.9 0.4,-3.6 1.9,-3.4C3.5,-3.2 4.3,-3.2 5.3,-2.5C6.2,-1.9 7.6,-0.4 7.6,0.4Z" fill="#3c3c3c" opacity="0.75"/><path d="M7.6,0.4C7.7,1.3 6.8,2.0 5.6,2.6C4.4,3.3 2.0,4.3 0.3,4.3C-1.4,4.4 -3.5,3.4 -4.7,3.0C-5.9,2.6 -6.6,2.6 -7.0,1.8C-7.4,1.0 -7.5,-0.8 -7.0,-1.7C-6.6,-2.6 -5.7,-3.3 -4.2,-3.6C-2.7,-3.9 0.4,-3.6 1.9,-3.4C3.5,-3.2 4.3,-3.2 5.3,-2.5C6.2,-1.9 7.6,-0.4 7.6,0.4Z" fill="url(#gpart)"/></g>
<g transform="translate(419.1,240.0) rotate(29)"><path transform="translate(0.9,1.2) scale(1.08)" d="M7.3,-0.4C7.3,1.4 5.6,3.8 4.7,5.0C3.8,6.1 3.4,6.4 2.0,6.5C0.6,6.6 -2.3,6.6 -3.7,5.7C-5.2,4.8 -6.2,2.7 -6.5,1.3C-6.8,-0.2 -6.2,-1.7 -5.5,-3.1C-4.8,-4.5 -3.6,-6.1 -2.5,-6.9C-1.5,-7.8 -0.3,-8.5 0.8,-8.3C2.0,-8.1 3.1,-7.0 4.2,-5.7C5.2,-4.4 7.2,-2.2 7.3,-0.4Z" fill="#3c3c3c" opacity="0.75"/><path d="M7.3,-0.4C7.3,1.4 5.6,3.8 4.7,5.0C3.8,6.1 3.4,6.4 2.0,6.5C0.6,6.6 -2.3,6.6 -3.7,5.7C-5.2,4.8 -6.2,2.7 -6.5,1.3C-6.8,-0.2 -6.2,-1.7 -5.5,-3.1C-4.8,-4.5 -3.6,-6.1 -2.5,-6.9C-1.5,-7.8 -0.3,-8.5 0.8,-8.3C2.0,-8.1 3.1,-7.0 4.2,-5.7C5.2,-4.4 7.2,-2.2 7.3,-0.4Z" fill="url(#gpart)"/></g>
<g transform="translate(698.7,236.2) rotate(18)"><path transform="translate(0.9,1.2) scale(1.08)" d="M9.2,-0.5C9.1,0.8 7.2,3.1 6.0,4.1C4.9,5.1 4.3,5.3 2.5,5.5C0.8,5.7 -2.3,6.0 -4.2,5.4C-6.2,4.8 -8.6,3.1 -9.1,1.8C-9.6,0.5 -7.9,-1.2 -7.2,-2.6C-6.4,-3.9 -6.0,-5.9 -4.7,-6.3C-3.4,-6.8 -1.3,-5.8 0.6,-5.3C2.4,-4.9 4.8,-4.5 6.3,-3.7C7.7,-2.9 9.2,-1.8 9.2,-0.5Z" fill="#3c3c3c" opacity="0.75"/><path d="M9.2,-0.5C9.1,0.8 7.2,3.1 6.0,4.1C4.9,5.1 4.3,5.3 2.5,5.5C0.8,5.7 -2.3,6.0 -4.2,5.4C-6.2,4.8 -8.6,3.1 -9.1,1.8C-9.6,0.5 -7.9,-1.2 -7.2,-2.6C-6.4,-3.9 -6.0,-5.9 -4.7,-6.3C-3.4,-6.8 -1.3,-5.8 0.6,-5.3C2.4,-4.9 4.8,-4.5 6.3,-3.7C7.7,-2.9 9.2,-1.8 9.2,-0.5Z" fill="url(#gpart)"/></g>
<g transform="translate(600.1,257.3) rotate(-2)"><path transform="translate(0.9,1.2) scale(1.08)" d="M5.5,0.4C5.4,1.5 6.0,2.1 5.4,2.9C4.8,3.6 3.1,4.6 1.7,4.8C0.4,5.1 -1.5,4.6 -2.6,4.3C-3.8,3.9 -4.5,3.7 -5.2,2.6C-5.9,1.6 -7.3,-1.0 -6.9,-2.1C-6.4,-3.2 -3.8,-3.5 -2.6,-4.2C-1.4,-4.8 -0.9,-6.1 0.4,-6.0C1.8,-6.0 4.7,-5.0 5.6,-3.9C6.4,-2.8 5.5,-0.7 5.5,0.4Z" fill="#3c3c3c" opacity="0.75"/><path d="M5.5,0.4C5.4,1.5 6.0,2.1 5.4,2.9C4.8,3.6 3.1,4.6 1.7,4.8C0.4,5.1 -1.5,4.6 -2.6,4.3C-3.8,3.9 -4.5,3.7 -5.2,2.6C-5.9,1.6 -7.3,-1.0 -6.9,-2.1C-6.4,-3.2 -3.8,-3.5 -2.6,-4.2C-1.4,-4.8 -0.9,-6.1 0.4,-6.0C1.8,-6.0 4.7,-5.0 5.6,-3.9C6.4,-2.8 5.5,-0.7 5.5,0.4Z" fill="url(#gpart)"/></g>
<g transform="translate(629.9,209.3) rotate(28)"><path transform="translate(0.9,1.2) scale(1.08)" d="M8.0,0.9C7.9,2.7 7.0,4.6 6.0,5.5C5.1,6.4 4.2,6.2 2.3,6.1C0.4,6.0 -3.6,5.5 -5.2,5.0C-6.8,4.6 -7.0,4.6 -7.5,3.2C-7.9,1.8 -8.7,-2.0 -8.0,-3.5C-7.3,-4.9 -4.9,-5.0 -3.3,-5.5C-1.8,-6.1 -0.3,-6.6 1.4,-6.6C3.0,-6.6 5.6,-6.7 6.7,-5.5C7.8,-4.2 8.1,-0.9 8.0,0.9Z" fill="#3c3c3c" opacity="0.75"/><path d="M8.0,0.9C7.9,2.7 7.0,4.6 6.0,5.5C5.1,6.4 4.2,6.2 2.3,6.1C0.4,6.0 -3.6,5.5 -5.2,5.0C-6.8,4.6 -7.0,4.6 -7.5,3.2C-7.9,1.8 -8.7,-2.0 -8.0,-3.5C-7.3,-4.9 -4.9,-5.0 -3.3,-5.5C-1.8,-6.1 -0.3,-6.6 1.4,-6.6C3.0,-6.6 5.6,-6.7 6.7,-5.5C7.8,-4.2 8.1,-0.9 8.0,0.9Z" fill="url(#gpart)"/></g>
<g transform="translate(603.1,173.2) rotate(-8)"><path transform="translate(0.9,1.2) scale(1.08)" d="M7.3,-1.0C7.0,0.1 5.2,2.2 4.4,3.3C3.6,4.4 3.6,5.5 2.4,5.6C1.2,5.8 -1.2,4.8 -2.7,4.2C-4.2,3.6 -6.0,3.2 -6.4,2.2C-6.9,1.2 -5.9,-0.6 -5.4,-1.9C-4.9,-3.1 -4.4,-4.6 -3.3,-5.2C-2.2,-5.7 -0.3,-5.2 1.3,-4.9C2.9,-4.7 5.1,-4.3 6.1,-3.6C7.1,-3.0 7.6,-2.2 7.3,-1.0Z" fill="#3c3c3c" opacity="0.75"/><path d="M7.3,-1.0C7.0,0.1 5.2,2.2 4.4,3.3C3.6,4.4 3.6,5.5 2.4,5.6C1.2,5.8 -1.2,4.8 -2.7,4.2C-4.2,3.6 -6.0,3.2 -6.4,2.2C-6.9,1.2 -5.9,-0.6 -5.4,-1.9C-4.9,-3.1 -4.4,-4.6 -3.3,-5.2C-2.2,-5.7 -0.3,-5.2 1.3,-4.9C2.9,-4.7 5.1,-4.3 6.1,-3.6C7.1,-3.0 7.6,-2.2 7.3,-1.0Z" fill="url(#gpart)"/></g>
<g transform="translate(617.0,241.3) rotate(14)"><path transform="translate(0.9,1.2) scale(1.08)" d="M8.4,1.2C8.1,3.1 6.2,4.5 5.2,5.7C4.2,6.9 4.3,8.4 2.6,8.4C0.9,8.4 -3.3,6.5 -4.9,5.6C-6.4,4.8 -6.3,4.5 -6.8,3.2C-7.2,1.9 -7.6,-0.6 -7.4,-2.4C-7.3,-4.1 -7.4,-6.1 -5.8,-7.3C-4.2,-8.5 -0.0,-9.7 2.1,-9.5C4.3,-9.3 5.9,-7.8 7.0,-6.0C8.1,-4.2 8.7,-0.8 8.4,1.2Z" fill="#3c3c3c" opacity="0.75"/><path d="M8.4,1.2C8.1,3.1 6.2,4.5 5.2,5.7C4.2,6.9 4.3,8.4 2.6,8.4C0.9,8.4 -3.3,6.5 -4.9,5.6C-6.4,4.8 -6.3,4.5 -6.8,3.2C-7.2,1.9 -7.6,-0.6 -7.4,-2.4C-7.3,-4.1 -7.4,-6.1 -5.8,-7.3C-4.2,-8.5 -0.0,-9.7 2.1,-9.5C4.3,-9.3 5.9,-7.8 7.0,-6.0C8.1,-4.2 8.7,-0.8 8.4,1.2Z" fill="url(#gpart)"/></g>
<g transform="translate(588.3,222.1) rotate(-29)"><path transform="translate(0.9,1.2) scale(1.08)" d="M6.8,1.4C6.9,3.2 7.0,4.3 5.9,5.5C4.7,6.7 1.8,8.4 -0.0,8.6C-1.9,8.8 -4.0,7.5 -5.2,6.8C-6.5,6.0 -7.0,5.8 -7.5,4.3C-8.1,2.8 -9.3,-0.5 -8.6,-2.3C-7.9,-4.1 -5.4,-5.8 -3.5,-6.7C-1.7,-7.6 1.0,-7.8 2.5,-7.6C4.0,-7.4 4.6,-7.0 5.3,-5.5C6.0,-4.0 6.7,-0.4 6.8,1.4Z" fill="#3c3c3c" opacity="0.75"/><path d="M6.8,1.4C6.9,3.2 7.0,4.3 5.9,5.5C4.7,6.7 1.8,8.4 -0.0,8.6C-1.9,8.8 -4.0,7.5 -5.2,6.8C-6.5,6.0 -7.0,5.8 -7.5,4.3C-8.1,2.8 -9.3,-0.5 -8.6,-2.3C-7.9,-4.1 -5.4,-5.8 -3.5,-6.7C-1.7,-7.6 1.0,-7.8 2.5,-7.6C4.0,-7.4 4.6,-7.0 5.3,-5.5C6.0,-4.0 6.7,-0.4 6.8,1.4Z" fill="url(#gpart)"/></g>
<g transform="translate(533.0,235.0) rotate(10)"><path transform="translate(0.9,1.2) scale(1.08)" d="M8.1,-0.9C8.3,0.1 8.9,1.9 8.1,2.8C7.3,3.7 5.2,4.3 3.3,4.5C1.3,4.8 -1.5,4.7 -3.5,4.2C-5.5,3.7 -8.1,2.5 -8.8,1.6C-9.5,0.8 -8.2,0.1 -7.7,-0.9C-7.3,-1.8 -7.6,-3.7 -6.2,-4.2C-4.9,-4.8 -1.9,-4.3 0.3,-4.1C2.4,-3.9 5.5,-3.6 6.8,-3.1C8.2,-2.5 7.9,-1.8 8.1,-0.9Z" fill="#3c3c3c" opacity="0.75"/><path d="M8.1,-0.9C8.3,0.1 8.9,1.9 8.1,2.8C7.3,3.7 5.2,4.3 3.3,4.5C1.3,4.8 -1.5,4.7 -3.5,4.2C-5.5,3.7 -8.1,2.5 -8.8,1.6C-9.5,0.8 -8.2,0.1 -7.7,-0.9C-7.3,-1.8 -7.6,-3.7 -6.2,-4.2C-4.9,-4.8 -1.9,-4.3 0.3,-4.1C2.4,-3.9 5.5,-3.6 6.8,-3.1C8.2,-2.5 7.9,-1.8 8.1,-0.9Z" fill="url(#gpart)"/></g>
<g transform="translate(523.3,299.3) rotate(23)"><path transform="translate(0.9,1.2) scale(1.08)" d="M7.8,-1.0C8.2,0.3 8.5,2.3 7.5,3.5C6.5,4.7 3.8,5.7 1.6,6.0C-0.6,6.3 -3.8,6.0 -5.7,5.2C-7.6,4.4 -9.1,2.7 -9.7,1.5C-10.4,0.3 -10.6,-0.8 -9.6,-1.8C-8.6,-2.9 -5.9,-4.0 -3.9,-4.6C-1.9,-5.1 1.0,-5.2 2.5,-5.2C4.0,-5.2 4.2,-5.3 5.0,-4.6C5.9,-3.9 7.3,-2.4 7.8,-1.0Z" fill="#3c3c3c" opacity="0.75"/><path d="M7.8,-1.0C8.2,0.3 8.5,2.3 7.5,3.5C6.5,4.7 3.8,5.7 1.6,6.0C-0.6,6.3 -3.8,6.0 -5.7,5.2C-7.6,4.4 -9.1,2.7 -9.7,1.5C-10.4,0.3 -10.6,-0.8 -9.6,-1.8C-8.6,-2.9 -5.9,-4.0 -3.9,-4.6C-1.9,-5.1 1.0,-5.2 2.5,-5.2C4.0,-5.2 4.2,-5.3 5.0,-4.6C5.9,-3.9 7.3,-2.4 7.8,-1.0Z" fill="url(#gpart)"/></g>
<g transform="translate(443.4,287.3) rotate(-13)"><path transform="translate(0.9,1.2) scale(1.08)" d="M8.8,1.6C8.9,3.6 7.7,3.7 6.3,4.9C4.9,6.0 2.1,8.3 0.3,8.6C-1.5,8.8 -3.3,7.4 -4.4,6.5C-5.5,5.7 -5.9,5.0 -6.4,3.4C-6.9,1.8 -8.0,-1.3 -7.5,-3.2C-7.0,-5.1 -5.2,-7.5 -3.5,-8.1C-1.9,-8.7 1.0,-6.8 2.5,-6.5C4.1,-6.3 4.8,-8.1 5.8,-6.7C6.9,-5.4 8.7,-0.3 8.8,1.6Z" fill="#3c3c3c" opacity="0.75"/><path d="M8.8,1.6C8.9,3.6 7.7,3.7 6.3,4.9C4.9,6.0 2.1,8.3 0.3,8.6C-1.5,8.8 -3.3,7.4 -4.4,6.5C-5.5,5.7 -5.9,5.0 -6.4,3.4C-6.9,1.8 -8.0,-1.3 -7.5,-3.2C-7.0,-5.1 -5.2,-7.5 -3.5,-8.1C-1.9,-8.7 1.0,-6.8 2.5,-6.5C4.1,-6.3 4.8,-8.1 5.8,-6.7C6.9,-5.4 8.7,-0.3 8.8,1.6Z" fill="url(#gpart)"/></g>
<g transform="translate(782.2,286.4) rotate(4)"><path transform="translate(0.9,1.2) scale(1.08)" d="M6.9,-0.6C6.8,0.2 5.8,1.5 4.9,2.4C4.0,3.2 2.8,4.4 1.5,4.5C0.1,4.7 -1.8,3.8 -3.1,3.3C-4.5,2.7 -6.0,2.0 -6.6,1.2C-7.1,0.4 -7.3,-0.8 -6.5,-1.6C-5.8,-2.4 -3.4,-3.0 -2.1,-3.5C-0.9,-4.1 -0.2,-4.9 1.1,-4.8C2.4,-4.7 4.6,-3.5 5.6,-2.8C6.6,-2.1 7.0,-1.5 6.9,-0.6Z" fill="#3c3c3c" opacity="0.75"/><path d="M6.9,-0.6C6.8,0.2 5.8,1.5 4.9,2.4C4.0,3.2 2.8,4.4 1.5,4.5C0.1,4.7 -1.8,3.8 -3.1,3.3C-4.5,2.7 -6.0,2.0 -6.6,1.2C-7.1,0.4 -7.3,-0.8 -6.5,-1.6C-5.8,-2.4 -3.4,-3.0 -2.1,-3.5C-0.9,-4.1 -0.2,-4.9 1.1,-4.8C2.4,-4.7 4.6,-3.5 5.6,-2.8C6.6,-2.1 7.0,-1.5 6.9,-0.6Z" fill="url(#gpart)"/></g>
<g transform="translate(512.5,232.4) rotate(-19)"><path transform="translate(0.9,1.2) scale(1.08)" d="M7.5,0.9C7.8,1.9 7.0,2.0 5.7,2.6C4.4,3.1 1.5,3.9 -0.1,4.2C-1.6,4.6 -2.8,5.4 -3.8,4.8C-4.8,4.2 -5.9,1.9 -6.3,0.8C-6.6,-0.3 -6.5,-1.0 -6.0,-1.9C-5.6,-2.8 -4.4,-4.2 -3.4,-4.6C-2.3,-5.0 -1.1,-4.5 0.2,-4.3C1.5,-4.0 3.2,-4.0 4.4,-3.1C5.7,-2.3 7.3,-0.0 7.5,0.9Z" fill="#3c3c3c" opacity="0.75"/><path d="M7.5,0.9C7.8,1.9 7.0,2.0 5.7,2.6C4.4,3.1 1.5,3.9 -0.1,4.2C-1.6,4.6 -2.8,5.4 -3.8,4.8C-4.8,4.2 -5.9,1.9 -6.3,0.8C-6.6,-0.3 -6.5,-1.0 -6.0,-1.9C-5.6,-2.8 -4.4,-4.2 -3.4,-4.6C-2.3,-5.0 -1.1,-4.5 0.2,-4.3C1.5,-4.0 3.2,-4.0 4.4,-3.1C5.7,-2.3 7.3,-0.0 7.5,0.9Z" fill="url(#gpart)"/></g>
<g transform="translate(471.1,249.4) rotate(-28)"><path transform="translate(0.9,1.2) scale(1.08)" d="M7.2,-0.8C6.8,0.2 6.1,1.8 5.1,3.0C4.1,4.1 2.7,6.1 1.2,6.3C-0.3,6.6 -2.4,5.3 -3.8,4.5C-5.1,3.7 -6.5,2.4 -7.1,1.4C-7.7,0.5 -7.6,-0.2 -7.3,-1.2C-7.0,-2.2 -6.5,-3.8 -5.2,-4.4C-3.9,-5.1 -1.8,-5.6 0.3,-5.3C2.3,-5.1 6.0,-3.7 7.1,-3.0C8.3,-2.2 7.5,-1.8 7.2,-0.8Z" fill="#3c3c3c" opacity="0.75"/><path d="M7.2,-0.8C6.8,0.2 6.1,1.8 5.1,3.0C4.1,4.1 2.7,6.1 1.2,6.3C-0.3,6.6 -2.4,5.3 -3.8,4.5C-5.1,3.7 -6.5,2.4 -7.1,1.4C-7.7,0.5 -7.6,-0.2 -7.3,-1.2C-7.0,-2.2 -6.5,-3.8 -5.2,-4.4C-3.9,-5.1 -1.8,-5.6 0.3,-5.3C2.3,-5.1 6.0,-3.7 7.1,-3.0C8.3,-2.2 7.5,-1.8 7.2,-0.8Z" fill="url(#gpart)"/></g>
<g transform="translate(783.6,250.3) rotate(20)"><path transform="translate(0.9,1.2) scale(1.08)" d="M4.7,0.3C4.8,1.7 4.3,3.8 3.7,4.8C3.2,5.7 2.3,6.1 1.4,6.1C0.5,6.1 -0.8,5.7 -1.8,4.9C-2.8,4.1 -4.1,2.6 -4.6,1.3C-5.0,-0.0 -4.9,-2.1 -4.5,-3.1C-4.0,-4.1 -2.6,-4.2 -1.9,-4.7C-1.2,-5.1 -1.0,-6.2 -0.1,-5.9C0.8,-5.7 2.6,-4.1 3.4,-3.1C4.2,-2.0 4.7,-1.0 4.7,0.3Z" fill="#3c3c3c" opacity="0.75"/><path d="M4.7,0.3C4.8,1.7 4.3,3.8 3.7,4.8C3.2,5.7 2.3,6.1 1.4,6.1C0.5,6.1 -0.8,5.7 -1.8,4.9C-2.8,4.1 -4.1,2.6 -4.6,1.3C-5.0,-0.0 -4.9,-2.1 -4.5,-3.1C-4.0,-4.1 -2.6,-4.2 -1.9,-4.7C-1.2,-5.1 -1.0,-6.2 -0.1,-5.9C0.8,-5.7 2.6,-4.1 3.4,-3.1C4.2,-2.0 4.7,-1.0 4.7,0.3Z" fill="url(#gpart)"/></g>
<g transform="translate(704.2,203.0) rotate(-26)"><path transform="translate(0.9,1.2) scale(1.08)" d="M7.0,-0.7C6.8,0.1 5.6,1.6 4.7,2.2C3.9,2.9 3.7,3.2 2.0,3.4C0.4,3.6 -4.0,3.9 -5.3,3.7C-6.6,3.4 -5.5,2.7 -6.0,1.7C-6.4,0.7 -8.2,-1.5 -8.0,-2.2C-7.8,-3.0 -6.2,-2.6 -4.6,-2.9C-3.1,-3.1 -0.4,-3.6 1.4,-3.5C3.1,-3.5 5.0,-3.0 5.9,-2.5C6.8,-2.1 7.2,-1.5 7.0,-0.7Z" fill="#3c3c3c" opacity="0.75"/><path d="M7.0,-0.7C6.8,0.1 5.6,1.6 4.7,2.2C3.9,2.9 3.7,3.2 2.0,3.4C0.4,3.6 -4.0,3.9 -5.3,3.7C-6.6,3.4 -5.5,2.7 -6.0,1.7C-6.4,0.7 -8.2,-1.5 -8.0,-2.2C-7.8,-3.0 -6.2,-2.6 -4.6,-2.9C-3.1,-3.1 -0.4,-3.6 1.4,-3.5C3.1,-3.5 5.0,-3.0 5.9,-2.5C6.8,-2.1 7.2,-1.5 7.0,-0.7Z" fill="url(#gpart)"/></g>
<g transform="translate(518.1,279.8) rotate(-14)"><path transform="translate(0.9,1.2) scale(1.08)" d="M6.3,-1.1C6.2,0.1 6.3,1.8 5.4,3.2C4.5,4.6 2.4,6.8 1.0,7.4C-0.5,8.0 -2.1,7.9 -3.4,7.0C-4.7,6.0 -6.3,3.2 -6.8,1.7C-7.2,0.2 -6.9,-0.7 -6.2,-2.1C-5.5,-3.5 -3.6,-6.0 -2.6,-6.7C-1.6,-7.4 -1.4,-6.7 -0.0,-6.2C1.4,-5.7 4.7,-4.8 5.8,-3.9C6.8,-3.1 6.3,-2.3 6.3,-1.1Z" fill="#3c3c3c" opacity="0.75"/><path d="M6.3,-1.1C6.2,0.1 6.3,1.8 5.4,3.2C4.5,4.6 2.4,6.8 1.0,7.4C-0.5,8.0 -2.1,7.9 -3.4,7.0C-4.7,6.0 -6.3,3.2 -6.8,1.7C-7.2,0.2 -6.9,-0.7 -6.2,-2.1C-5.5,-3.5 -3.6,-6.0 -2.6,-6.7C-1.6,-7.4 -1.4,-6.7 -0.0,-6.2C1.4,-5.7 4.7,-4.8 5.8,-3.9C6.8,-3.1 6.3,-2.3 6.3,-1.1Z" fill="url(#gpart)"/></g>
<g transform="translate(476.5,230.4) rotate(13)"><path transform="translate(0.9,1.2) scale(1.08)" d="M7.9,-0.6C7.8,0.6 5.4,2.4 4.3,3.2C3.1,4.1 2.4,4.3 0.9,4.5C-0.6,4.8 -3.3,5.2 -4.5,4.6C-5.7,4.0 -5.9,2.0 -6.4,1.1C-6.9,0.1 -8.0,-0.2 -7.5,-1.0C-6.9,-1.8 -4.3,-3.2 -3.0,-3.9C-1.7,-4.6 -0.9,-5.2 0.4,-5.2C1.7,-5.2 3.7,-4.8 4.9,-4.0C6.2,-3.2 8.0,-1.8 7.9,-0.6Z" fill="#3c3c3c" opacity="0.75"/><path d="M7.9,-0.6C7.8,0.6 5.4,2.4 4.3,3.2C3.1,4.1 2.4,4.3 0.9,4.5C-0.6,4.8 -3.3,5.2 -4.5,4.6C-5.7,4.0 -5.9,2.0 -6.4,1.1C-6.9,0.1 -8.0,-0.2 -7.5,-1.0C-6.9,-1.8 -4.3,-3.2 -3.0,-3.9C-1.7,-4.6 -0.9,-5.2 0.4,-5.2C1.7,-5.2 3.7,-4.8 4.9,-4.0C6.2,-3.2 8.0,-1.8 7.9,-0.6Z" fill="url(#gpart)"/></g>
<g transform="translate(650.0,235.2) rotate(-16)"><path transform="translate(0.9,1.2) scale(1.08)" d="M9.3,-0.6C9.6,0.9 8.8,3.4 7.8,4.6C6.9,5.9 5.6,6.5 3.7,6.7C1.8,6.8 -1.3,6.4 -3.6,5.6C-5.8,4.9 -8.7,3.5 -9.8,2.0C-10.9,0.6 -10.8,-1.7 -10.0,-2.9C-9.3,-4.1 -7.4,-4.5 -5.4,-5.0C-3.4,-5.5 0.2,-6.0 2.1,-5.9C4.0,-5.8 4.7,-5.3 5.9,-4.5C7.1,-3.6 9.0,-2.1 9.3,-0.6Z" fill="#3c3c3c" opacity="0.75"/><path d="M9.3,-0.6C9.6,0.9 8.8,3.4 7.8,4.6C6.9,5.9 5.6,6.5 3.7,6.7C1.8,6.8 -1.3,6.4 -3.6,5.6C-5.8,4.9 -8.7,3.5 -9.8,2.0C-10.9,0.6 -10.8,-1.7 -10.0,-2.9C-9.3,-4.1 -7.4,-4.5 -5.4,-5.0C-3.4,-5.5 0.2,-6.0 2.1,-5.9C4.0,-5.8 4.7,-5.3 5.9,-4.5C7.1,-3.6 9.0,-2.1 9.3,-0.6Z" fill="url(#gpart)"/></g>
<g transform="translate(559.2,176.4) rotate(16)"><path transform="translate(0.9,1.2) scale(1.08)" d="M5.5,1.0C5.6,2.9 4.3,5.4 3.6,6.3C2.9,7.3 2.2,7.0 1.2,6.8C0.2,6.6 -1.6,6.0 -2.5,5.2C-3.4,4.4 -3.8,3.0 -4.3,1.9C-4.7,0.9 -5.2,0.2 -5.1,-1.3C-5.0,-2.7 -4.8,-5.8 -3.7,-6.8C-2.5,-7.7 0.5,-7.3 1.6,-7.0C2.8,-6.7 2.4,-6.1 3.1,-4.8C3.7,-3.4 5.4,-0.8 5.5,1.0Z" fill="#3c3c3c" opacity="0.75"/><path d="M5.5,1.0C5.6,2.9 4.3,5.4 3.6,6.3C2.9,7.3 2.2,7.0 1.2,6.8C0.2,6.6 -1.6,6.0 -2.5,5.2C-3.4,4.4 -3.8,3.0 -4.3,1.9C-4.7,0.9 -5.2,0.2 -5.1,-1.3C-5.0,-2.7 -4.8,-5.8 -3.7,-6.8C-2.5,-7.7 0.5,-7.3 1.6,-7.0C2.8,-6.7 2.4,-6.1 3.1,-4.8C3.7,-3.4 5.4,-0.8 5.5,1.0Z" fill="url(#gpart)"/></g>
<g transform="translate(441.9,173.4) rotate(0)"><path transform="translate(0.9,1.2) scale(1.08)" d="M4.9,0.1C4.9,1.5 4.5,3.6 3.7,4.5C2.9,5.4 1.2,5.3 0.3,5.5C-0.6,5.7 -0.9,6.3 -1.7,5.7C-2.5,5.1 -4.0,3.4 -4.5,2.0C-4.9,0.7 -4.6,-1.1 -4.3,-2.3C-4.0,-3.5 -3.8,-4.5 -2.9,-5.2C-1.9,-5.9 0.3,-6.8 1.4,-6.7C2.6,-6.5 3.1,-5.4 3.7,-4.2C4.3,-3.1 5.0,-1.4 4.9,0.1Z" fill="#3c3c3c" opacity="0.75"/><path d="M4.9,0.1C4.9,1.5 4.5,3.6 3.7,4.5C2.9,5.4 1.2,5.3 0.3,5.5C-0.6,5.7 -0.9,6.3 -1.7,5.7C-2.5,5.1 -4.0,3.4 -4.5,2.0C-4.9,0.7 -4.6,-1.1 -4.3,-2.3C-4.0,-3.5 -3.8,-4.5 -2.9,-5.2C-1.9,-5.9 0.3,-6.8 1.4,-6.7C2.6,-6.5 3.1,-5.4 3.7,-4.2C4.3,-3.1 5.0,-1.4 4.9,0.1Z" fill="url(#gpart)"/></g>
<g transform="translate(717.9,246.9) rotate(26)"><path transform="translate(0.9,1.2) scale(1.08)" d="M8.7,0.7C9.0,1.5 8.5,1.6 7.2,2.1C5.9,2.6 2.7,3.4 0.9,3.8C-0.8,4.2 -1.9,5.0 -3.3,4.5C-4.7,4.0 -6.5,1.7 -7.4,0.7C-8.2,-0.3 -8.9,-0.8 -8.4,-1.4C-7.9,-2.0 -6.0,-2.4 -4.2,-2.9C-2.3,-3.4 0.9,-4.4 2.5,-4.3C4.1,-4.2 4.5,-3.2 5.5,-2.4C6.6,-1.5 8.5,0.0 8.7,0.7Z" fill="#3c3c3c" opacity="0.75"/><path d="M8.7,0.7C9.0,1.5 8.5,1.6 7.2,2.1C5.9,2.6 2.7,3.4 0.9,3.8C-0.8,4.2 -1.9,5.0 -3.3,4.5C-4.7,4.0 -6.5,1.7 -7.4,0.7C-8.2,-0.3 -8.9,-0.8 -8.4,-1.4C-7.9,-2.0 -6.0,-2.4 -4.2,-2.9C-2.3,-3.4 0.9,-4.4 2.5,-4.3C4.1,-4.2 4.5,-3.2 5.5,-2.4C6.6,-1.5 8.5,0.0 8.7,0.7Z" fill="url(#gpart)"/></g>
<g transform="translate(405.6,269.5) rotate(-6)"><path transform="translate(0.9,1.2) scale(1.08)" d="M6.9,-1.4C7.1,0.0 6.0,2.1 4.9,3.4C3.8,4.7 1.5,6.0 0.4,6.4C-0.8,6.8 -0.9,6.3 -1.9,5.8C-2.8,5.3 -4.9,4.9 -5.4,3.4C-5.9,2.0 -5.0,-1.4 -4.8,-3.0C-4.5,-4.6 -4.9,-5.7 -4.0,-6.3C-3.1,-6.9 -0.5,-7.0 0.8,-6.8C2.1,-6.6 2.6,-5.9 3.7,-5.0C4.7,-4.1 6.7,-2.8 6.9,-1.4Z" fill="#3c3c3c" opacity="0.75"/><path d="M6.9,-1.4C7.1,0.0 6.0,2.1 4.9,3.4C3.8,4.7 1.5,6.0 0.4,6.4C-0.8,6.8 -0.9,6.3 -1.9,5.8C-2.8,5.3 -4.9,4.9 -5.4,3.4C-5.9,2.0 -5.0,-1.4 -4.8,-3.0C-4.5,-4.6 -4.9,-5.7 -4.0,-6.3C-3.1,-6.9 -0.5,-7.0 0.8,-6.8C2.1,-6.6 2.6,-5.9 3.7,-5.0C4.7,-4.1 6.7,-2.8 6.9,-1.4Z" fill="url(#gpart)"/></g>
<g transform="translate(537.1,183.3) rotate(28)"><path transform="translate(0.9,1.2) scale(1.08)" d="M5.2,-0.6C5.2,0.3 5.4,2.7 4.6,3.5C3.7,4.3 1.5,4.3 0.1,4.3C-1.3,4.3 -3.0,3.8 -3.9,3.4C-4.7,3.0 -4.9,2.7 -5.2,1.8C-5.5,0.9 -6.0,-1.2 -5.6,-2.0C-5.3,-2.8 -4.4,-2.8 -3.2,-3.0C-2.0,-3.3 0.5,-3.7 1.8,-3.5C3.1,-3.4 4.0,-2.7 4.6,-2.2C5.2,-1.7 5.2,-1.6 5.2,-0.6Z" fill="#3c3c3c" opacity="0.75"/><path d="M5.2,-0.6C5.2,0.3 5.4,2.7 4.6,3.5C3.7,4.3 1.5,4.3 0.1,4.3C-1.3,4.3 -3.0,3.8 -3.9,3.4C-4.7,3.0 -4.9,2.7 -5.2,1.8C-5.5,0.9 -6.0,-1.2 -5.6,-2.0C-5.3,-2.8 -4.4,-2.8 -3.2,-3.0C-2.0,-3.3 0.5,-3.7 1.8,-3.5C3.1,-3.4 4.0,-2.7 4.6,-2.2C5.2,-1.7 5.2,-1.6 5.2,-0.6Z" fill="url(#gpart)"/></g>
<g transform="translate(481,198) rotate(-15)"><path transform="translate(0.9,1.2) scale(1.08)" d="M15.1,-0.9C14.2,1.3 10.9,5.0 8.5,6.6C6.0,8.3 2.9,8.5 0.5,9.0C-2.0,9.5 -4.2,10.5 -6.4,9.6C-8.5,8.7 -11.0,5.6 -12.6,3.4C-14.2,1.3 -17.3,-1.2 -16.2,-3.3C-15.0,-5.4 -8.5,-8.0 -5.8,-9.1C-3.2,-10.3 -3.6,-10.9 -0.4,-10.4C2.9,-10.0 11.2,-8.2 13.8,-6.6C16.4,-5.0 16.0,-3.1 15.1,-0.9Z" fill="#3c3c3c" opacity="0.75"/><path d="M15.1,-0.9C14.2,1.3 10.9,5.0 8.5,6.6C6.0,8.3 2.9,8.5 0.5,9.0C-2.0,9.5 -4.2,10.5 -6.4,9.6C-8.5,8.7 -11.0,5.6 -12.6,3.4C-14.2,1.3 -17.3,-1.2 -16.2,-3.3C-15.0,-5.4 -8.5,-8.0 -5.8,-9.1C-3.2,-10.3 -3.6,-10.9 -0.4,-10.4C2.9,-10.0 11.2,-8.2 13.8,-6.6C16.4,-5.0 16.0,-3.1 15.1,-0.9Z" fill="url(#gpart)"/></g>
<g transform="translate(507,200) rotate(27)"><path transform="translate(0.9,1.2) scale(1.08)" d="M7.5,-0.4C7.1,0.7 5.2,2.9 4.2,3.9C3.2,4.9 2.6,5.2 1.5,5.4C0.3,5.5 -1.8,5.4 -2.9,4.9C-4.0,4.5 -4.9,3.8 -5.3,2.5C-5.8,1.3 -6.0,-1.4 -5.7,-2.7C-5.4,-4.1 -4.7,-5.4 -3.4,-5.8C-2.2,-6.2 0.0,-5.5 1.7,-5.1C3.3,-4.6 5.4,-4.0 6.4,-3.2C7.4,-2.4 7.8,-1.6 7.5,-0.4Z" fill="#3c3c3c" opacity="0.75"/><path d="M7.5,-0.4C7.1,0.7 5.2,2.9 4.2,3.9C3.2,4.9 2.6,5.2 1.5,5.4C0.3,5.5 -1.8,5.4 -2.9,4.9C-4.0,4.5 -4.9,3.8 -5.3,2.5C-5.8,1.3 -6.0,-1.4 -5.7,-2.7C-5.4,-4.1 -4.7,-5.4 -3.4,-5.8C-2.2,-6.2 0.0,-5.5 1.7,-5.1C3.3,-4.6 5.4,-4.0 6.4,-3.2C7.4,-2.4 7.8,-1.6 7.5,-0.4Z" fill="url(#gpart)"/></g>
<g transform="translate(533,192) rotate(29)"><path transform="translate(0.9,1.2) scale(1.08)" d="M7.3,0.7C6.9,2.0 5.3,3.6 4.2,4.5C3.1,5.5 2.0,6.4 0.7,6.4C-0.6,6.4 -2.5,5.4 -3.6,4.7C-4.7,3.9 -5.7,3.3 -6.0,2.1C-6.3,0.8 -6.2,-1.4 -5.7,-2.9C-5.1,-4.4 -4.1,-6.5 -2.8,-6.9C-1.6,-7.4 0.4,-6.2 1.9,-5.6C3.4,-5.0 5.4,-4.7 6.3,-3.6C7.2,-2.6 7.6,-0.7 7.3,0.7Z" fill="#3c3c3c" opacity="0.75"/><path d="M7.3,0.7C6.9,2.0 5.3,3.6 4.2,4.5C3.1,5.5 2.0,6.4 0.7,6.4C-0.6,6.4 -2.5,5.4 -3.6,4.7C-4.7,3.9 -5.7,3.3 -6.0,2.1C-6.3,0.8 -6.2,-1.4 -5.7,-2.9C-5.1,-4.4 -4.1,-6.5 -2.8,-6.9C-1.6,-7.4 0.4,-6.2 1.9,-5.6C3.4,-5.0 5.4,-4.7 6.3,-3.6C7.2,-2.6 7.6,-0.7 7.3,0.7Z" fill="url(#gpart)"/></g>
<g transform="translate(564,202) rotate(11)"><path transform="translate(0.9,1.2) scale(1.08)" d="M4.9,0.3C5.0,1.6 4.5,3.5 3.9,4.4C3.2,5.2 2.3,5.2 1.0,5.4C-0.2,5.5 -2.7,5.8 -3.7,5.1C-4.8,4.3 -4.9,2.1 -5.1,1.0C-5.3,-0.1 -5.3,-0.6 -5.1,-1.5C-4.8,-2.4 -4.3,-3.4 -3.4,-4.2C-2.6,-5.0 -1.2,-6.4 -0.1,-6.3C1.0,-6.2 2.6,-4.7 3.4,-3.6C4.2,-2.5 4.8,-1.0 4.9,0.3Z" fill="#3c3c3c" opacity="0.75"/><path d="M4.9,0.3C5.0,1.6 4.5,3.5 3.9,4.4C3.2,5.2 2.3,5.2 1.0,5.4C-0.2,5.5 -2.7,5.8 -3.7,5.1C-4.8,4.3 -4.9,2.1 -5.1,1.0C-5.3,-0.1 -5.3,-0.6 -5.1,-1.5C-4.8,-2.4 -4.3,-3.4 -3.4,-4.2C-2.6,-5.0 -1.2,-6.4 -0.1,-6.3C1.0,-6.2 2.6,-4.7 3.4,-3.6C4.2,-2.5 4.8,-1.0 4.9,0.3Z" fill="url(#gpart)"/></g>
<g transform="translate(585,232) rotate(-26)"><path transform="translate(0.9,1.2) scale(1.08)" d="M8.6,1.2C8.4,4.4 8.5,6.2 7.2,8.8C5.9,11.3 2.5,15.8 0.6,16.6C-1.3,17.3 -2.7,15.9 -4.3,13.6C-6.0,11.2 -8.5,6.2 -9.3,2.7C-10.1,-0.8 -9.6,-4.9 -9.0,-7.6C-8.5,-10.2 -7.9,-12.6 -6.1,-13.4C-4.3,-14.2 -0.7,-12.8 1.7,-12.2C4.1,-11.7 7.2,-12.1 8.4,-9.8C9.5,-7.6 8.8,-1.9 8.6,1.2Z" fill="#3c3c3c" opacity="0.75"/><path d="M8.6,1.2C8.4,4.4 8.5,6.2 7.2,8.8C5.9,11.3 2.5,15.8 0.6,16.6C-1.3,17.3 -2.7,15.9 -4.3,13.6C-6.0,11.2 -8.5,6.2 -9.3,2.7C-10.1,-0.8 -9.6,-4.9 -9.0,-7.6C-8.5,-10.2 -7.9,-12.6 -6.1,-13.4C-4.3,-14.2 -0.7,-12.8 1.7,-12.2C4.1,-11.7 7.2,-12.1 8.4,-9.8C9.5,-7.6 8.8,-1.9 8.6,1.2Z" fill="url(#gpart)"/></g>
<g transform="translate(412,226) rotate(1)"><path transform="translate(0.9,1.2) scale(1.08)" d="M6.5,-0.0C6.6,1.7 5.5,4.3 4.7,5.3C3.9,6.4 3.2,5.9 1.8,6.1C0.5,6.4 -2.2,7.7 -3.5,6.9C-4.8,6.1 -5.4,3.2 -5.7,1.6C-5.9,-0.0 -5.4,-1.6 -4.9,-2.8C-4.5,-4.0 -4.2,-5.2 -3.1,-5.8C-2.0,-6.4 0.4,-6.4 1.7,-6.3C2.9,-6.2 3.6,-6.2 4.4,-5.1C5.2,-4.1 6.5,-1.8 6.5,-0.0Z" fill="#3c3c3c" opacity="0.75"/><path d="M6.5,-0.0C6.6,1.7 5.5,4.3 4.7,5.3C3.9,6.4 3.2,5.9 1.8,6.1C0.5,6.4 -2.2,7.7 -3.5,6.9C-4.8,6.1 -5.4,3.2 -5.7,1.6C-5.9,-0.0 -5.4,-1.6 -4.9,-2.8C-4.5,-4.0 -4.2,-5.2 -3.1,-5.8C-2.0,-6.4 0.4,-6.4 1.7,-6.3C2.9,-6.2 3.6,-6.2 4.4,-5.1C5.2,-4.1 6.5,-1.8 6.5,-0.0Z" fill="url(#gpart)"/></g>
<g transform="translate(425,234) rotate(19)"><path transform="translate(0.9,1.2) scale(1.08)" d="M7.3,1.1C7.5,3.2 8.1,4.5 6.9,5.8C5.8,7.0 2.5,8.2 0.4,8.7C-1.7,9.2 -4.4,9.6 -5.6,8.7C-6.8,7.8 -6.5,5.6 -6.9,3.4C-7.3,1.2 -8.4,-2.8 -8.0,-4.6C-7.5,-6.4 -5.8,-6.2 -4.3,-7.2C-2.8,-8.1 -0.7,-10.3 0.9,-10.3C2.5,-10.3 4.2,-9.0 5.3,-7.2C6.4,-5.3 7.0,-1.1 7.3,1.1Z" fill="#3c3c3c" opacity="0.75"/><path d="M7.3,1.1C7.5,3.2 8.1,4.5 6.9,5.8C5.8,7.0 2.5,8.2 0.4,8.7C-1.7,9.2 -4.4,9.6 -5.6,8.7C-6.8,7.8 -6.5,5.6 -6.9,3.4C-7.3,1.2 -8.4,-2.8 -8.0,-4.6C-7.5,-6.4 -5.8,-6.2 -4.3,-7.2C-2.8,-8.1 -0.7,-10.3 0.9,-10.3C2.5,-10.3 4.2,-9.0 5.3,-7.2C6.4,-5.3 7.0,-1.1 7.3,1.1Z" fill="url(#gpart)"/></g>
<g transform="translate(443,234) rotate(0)"><path transform="translate(0.9,1.2) scale(1.08)" d="M5.9,0.4C5.6,2.1 5.8,4.9 5.0,6.0C4.2,7.2 2.4,7.1 1.1,7.3C-0.2,7.5 -1.6,7.9 -3.0,7.0C-4.3,6.2 -6.5,4.0 -6.9,2.4C-7.4,0.7 -6.4,-1.7 -5.6,-3.1C-4.8,-4.4 -3.0,-5.1 -2.1,-5.7C-1.2,-6.3 -1.5,-7.0 -0.1,-6.7C1.3,-6.4 5.5,-5.1 6.5,-3.9C7.5,-2.7 6.2,-1.3 5.9,0.4Z" fill="#3c3c3c" opacity="0.75"/><path d="M5.9,0.4C5.6,2.1 5.8,4.9 5.0,6.0C4.2,7.2 2.4,7.1 1.1,7.3C-0.2,7.5 -1.6,7.9 -3.0,7.0C-4.3,6.2 -6.5,4.0 -6.9,2.4C-7.4,0.7 -6.4,-1.7 -5.6,-3.1C-4.8,-4.4 -3.0,-5.1 -2.1,-5.7C-1.2,-6.3 -1.5,-7.0 -0.1,-6.7C1.3,-6.4 5.5,-5.1 6.5,-3.9C7.5,-2.7 6.2,-1.3 5.9,0.4Z" fill="url(#gpart)"/></g>
<g transform="translate(456,230) rotate(27)"><path transform="translate(0.9,1.2) scale(1.08)" d="M12.1,0.1C11.7,2.4 8.8,4.6 7.0,6.7C5.2,8.8 3.4,12.0 1.4,12.6C-0.6,13.2 -3.5,11.8 -5.2,10.5C-6.9,9.2 -8.0,6.9 -8.8,4.6C-9.6,2.2 -10.8,-1.4 -10.1,-3.6C-9.4,-5.8 -6.3,-7.3 -4.7,-8.6C-3.0,-9.8 -2.6,-11.1 -0.2,-10.9C2.1,-10.7 7.3,-9.0 9.4,-7.2C11.4,-5.3 12.5,-2.3 12.1,0.1Z" fill="#3c3c3c" opacity="0.75"/><path d="M12.1,0.1C11.7,2.4 8.8,4.6 7.0,6.7C5.2,8.8 3.4,12.0 1.4,12.6C-0.6,13.2 -3.5,11.8 -5.2,10.5C-6.9,9.2 -8.0,6.9 -8.8,4.6C-9.6,2.2 -10.8,-1.4 -10.1,-3.6C-9.4,-5.8 -6.3,-7.3 -4.7,-8.6C-3.0,-9.8 -2.6,-11.1 -0.2,-10.9C2.1,-10.7 7.3,-9.0 9.4,-7.2C11.4,-5.3 12.5,-2.3 12.1,0.1Z" fill="url(#gpart)"/></g>
<g transform="translate(417,249) rotate(-16)"><path transform="translate(0.9,1.2) scale(1.08)" d="M6.7,-0.7C7.0,0.6 7.0,2.6 5.9,3.7C4.8,4.9 1.7,5.7 0.1,6.1C-1.5,6.4 -2.6,6.8 -3.8,6.1C-5.0,5.4 -6.7,3.2 -7.0,1.8C-7.3,0.3 -6.3,-1.1 -5.6,-2.6C-5.0,-4.1 -3.8,-6.2 -2.9,-7.1C-2.0,-8.0 -1.2,-8.3 -0.0,-7.7C1.2,-7.2 3.2,-5.0 4.4,-3.8C5.5,-2.6 6.5,-1.9 6.7,-0.7Z" fill="#3c3c3c" opacity="0.75"/><path d="M6.7,-0.7C7.0,0.6 7.0,2.6 5.9,3.7C4.8,4.9 1.7,5.7 0.1,6.1C-1.5,6.4 -2.6,6.8 -3.8,6.1C-5.0,5.4 -6.7,3.2 -7.0,1.8C-7.3,0.3 -6.3,-1.1 -5.6,-2.6C-5.0,-4.1 -3.8,-6.2 -2.9,-7.1C-2.0,-8.0 -1.2,-8.3 -0.0,-7.7C1.2,-7.2 3.2,-5.0 4.4,-3.8C5.5,-2.6 6.5,-1.9 6.7,-0.7Z" fill="url(#gpart)"/></g>
<g transform="translate(431,258) rotate(-26)"><path transform="translate(0.9,1.2) scale(1.08)" d="M8.1,1.0C8.4,2.5 7.6,2.7 6.4,4.0C5.3,5.3 2.8,8.3 1.1,8.9C-0.6,9.5 -2.5,8.5 -3.7,7.5C-4.9,6.5 -5.6,4.5 -6.2,3.0C-6.8,1.5 -7.8,-0.0 -7.3,-1.6C-6.8,-3.1 -4.5,-5.5 -3.3,-6.4C-2.0,-7.3 -1.0,-7.1 0.3,-7.0C1.6,-6.8 3.2,-6.6 4.5,-5.2C5.8,-3.9 7.8,-0.6 8.1,1.0Z" fill="#3c3c3c" opacity="0.75"/><path d="M8.1,1.0C8.4,2.5 7.6,2.7 6.4,4.0C5.3,5.3 2.8,8.3 1.1,8.9C-0.6,9.5 -2.5,8.5 -3.7,7.5C-4.9,6.5 -5.6,4.5 -6.2,3.0C-6.8,1.5 -7.8,-0.0 -7.3,-1.6C-6.8,-3.1 -4.5,-5.5 -3.3,-6.4C-2.0,-7.3 -1.0,-7.1 0.3,-7.0C1.6,-6.8 3.2,-6.6 4.5,-5.2C5.8,-3.9 7.8,-0.6 8.1,1.0Z" fill="url(#gpart)"/></g>
<g transform="translate(450,247) rotate(-11)"><path transform="translate(0.9,1.2) scale(1.08)" d="M5.2,0.0C5.2,1.3 5.2,2.6 4.4,3.6C3.5,4.5 1.3,5.6 -0.1,5.7C-1.4,5.9 -2.8,4.9 -3.7,4.4C-4.6,3.9 -5.1,3.6 -5.3,2.7C-5.5,1.8 -5.2,0.2 -5.0,-1.1C-4.8,-2.3 -5.1,-4.0 -3.9,-4.7C-2.8,-5.4 0.6,-5.4 2.0,-5.2C3.3,-5.1 3.6,-4.7 4.1,-3.9C4.6,-3.0 5.1,-1.2 5.2,0.0Z" fill="#3c3c3c" opacity="0.75"/><path d="M5.2,0.0C5.2,1.3 5.2,2.6 4.4,3.6C3.5,4.5 1.3,5.6 -0.1,5.7C-1.4,5.9 -2.8,4.9 -3.7,4.4C-4.6,3.9 -5.1,3.6 -5.3,2.7C-5.5,1.8 -5.2,0.2 -5.0,-1.1C-4.8,-2.3 -5.1,-4.0 -3.9,-4.7C-2.8,-5.4 0.6,-5.4 2.0,-5.2C3.3,-5.1 3.6,-4.7 4.1,-3.9C4.6,-3.0 5.1,-1.2 5.2,0.0Z" fill="url(#gpart)"/></g>
<g transform="translate(481,250) rotate(-9)"><path transform="translate(0.9,1.2) scale(1.08)" d="M5.5,0.4C5.5,1.6 6.3,2.7 5.5,3.4C4.7,4.1 2.2,4.5 0.7,4.8C-0.9,5.0 -2.8,5.3 -3.8,4.9C-4.9,4.5 -5.3,3.7 -5.5,2.4C-5.7,1.1 -5.3,-1.6 -4.8,-2.8C-4.4,-3.9 -3.8,-4.0 -2.8,-4.6C-1.8,-5.1 -0.2,-6.1 1.2,-6.0C2.6,-5.8 4.7,-4.8 5.5,-3.8C6.2,-2.7 5.5,-0.8 5.5,0.4Z" fill="#3c3c3c" opacity="0.75"/><path d="M5.5,0.4C5.5,1.6 6.3,2.7 5.5,3.4C4.7,4.1 2.2,4.5 0.7,4.8C-0.9,5.0 -2.8,5.3 -3.8,4.9C-4.9,4.5 -5.3,3.7 -5.5,2.4C-5.7,1.1 -5.3,-1.6 -4.8,-2.8C-4.4,-3.9 -3.8,-4.0 -2.8,-4.6C-1.8,-5.1 -0.2,-6.1 1.2,-6.0C2.6,-5.8 4.7,-4.8 5.5,-3.8C6.2,-2.7 5.5,-0.8 5.5,0.4Z" fill="url(#gpart)"/></g>
<g transform="translate(502,238) rotate(-21)"><path transform="translate(0.9,1.2) scale(1.08)" d="M9.6,-0.3C9.6,1.0 7.6,3.4 6.1,4.3C4.6,5.3 2.8,5.4 0.8,5.4C-1.1,5.4 -4.3,5.1 -5.7,4.5C-7.0,3.9 -6.5,2.9 -7.2,1.9C-7.8,1.0 -10.3,-0.2 -9.6,-1.3C-8.9,-2.3 -4.6,-3.7 -2.9,-4.5C-1.1,-5.2 -0.6,-5.8 0.9,-5.7C2.4,-5.5 4.9,-4.4 6.3,-3.5C7.8,-2.7 9.7,-1.7 9.6,-0.3Z" fill="#3c3c3c" opacity="0.75"/><path d="M9.6,-0.3C9.6,1.0 7.6,3.4 6.1,4.3C4.6,5.3 2.8,5.4 0.8,5.4C-1.1,5.4 -4.3,5.1 -5.7,4.5C-7.0,3.9 -6.5,2.9 -7.2,1.9C-7.8,1.0 -10.3,-0.2 -9.6,-1.3C-8.9,-2.3 -4.6,-3.7 -2.9,-4.5C-1.1,-5.2 -0.6,-5.8 0.9,-5.7C2.4,-5.5 4.9,-4.4 6.3,-3.5C7.8,-2.7 9.7,-1.7 9.6,-0.3Z" fill="url(#gpart)"/></g>
<g transform="translate(511,252) rotate(24)"><path transform="translate(0.9,1.2) scale(1.08)" d="M8.7,-0.5C8.5,1.5 7.0,4.9 5.8,6.1C4.6,7.4 3.1,7.0 1.5,7.1C-0.2,7.3 -2.6,8.0 -4.1,7.1C-5.7,6.2 -7.1,3.2 -7.7,1.6C-8.4,0.1 -8.3,-0.7 -8.0,-2.2C-7.6,-3.7 -7.0,-6.5 -5.4,-7.3C-3.8,-8.1 -0.5,-7.2 1.5,-7.0C3.6,-6.7 5.7,-7.0 6.9,-5.9C8.1,-4.8 8.9,-2.5 8.7,-0.5Z" fill="#3c3c3c" opacity="0.75"/><path d="M8.7,-0.5C8.5,1.5 7.0,4.9 5.8,6.1C4.6,7.4 3.1,7.0 1.5,7.1C-0.2,7.3 -2.6,8.0 -4.1,7.1C-5.7,6.2 -7.1,3.2 -7.7,1.6C-8.4,0.1 -8.3,-0.7 -8.0,-2.2C-7.6,-3.7 -7.0,-6.5 -5.4,-7.3C-3.8,-8.1 -0.5,-7.2 1.5,-7.0C3.6,-6.7 5.7,-7.0 6.9,-5.9C8.1,-4.8 8.9,-2.5 8.7,-0.5Z" fill="url(#gpart)"/></g>
<g transform="translate(489,264) rotate(-20)"><path transform="translate(0.9,1.2) scale(1.08)" d="M6.4,0.5C6.3,1.7 6.5,2.5 5.5,3.6C4.5,4.6 1.7,6.4 0.4,6.8C-1.0,7.2 -1.3,6.5 -2.6,6.0C-3.9,5.5 -6.6,5.2 -7.5,3.6C-8.4,1.9 -8.7,-1.9 -7.9,-3.7C-7.1,-5.5 -4.3,-6.9 -2.6,-7.4C-0.9,-7.8 0.7,-6.8 2.2,-6.2C3.8,-5.6 5.8,-4.9 6.5,-3.8C7.2,-2.7 6.6,-0.7 6.4,0.5Z" fill="#3c3c3c" opacity="0.75"/><path d="M6.4,0.5C6.3,1.7 6.5,2.5 5.5,3.6C4.5,4.6 1.7,6.4 0.4,6.8C-1.0,7.2 -1.3,6.5 -2.6,6.0C-3.9,5.5 -6.6,5.2 -7.5,3.6C-8.4,1.9 -8.7,-1.9 -7.9,-3.7C-7.1,-5.5 -4.3,-6.9 -2.6,-7.4C-0.9,-7.8 0.7,-6.8 2.2,-6.2C3.8,-5.6 5.8,-4.9 6.5,-3.8C7.2,-2.7 6.6,-0.7 6.4,0.5Z" fill="url(#gpart)"/></g>
<g transform="translate(504,269) rotate(-18)"><path transform="translate(0.9,1.2) scale(1.08)" d="M6.4,0.6C6.4,1.9 5.0,2.1 4.0,3.0C2.9,4.0 1.4,5.8 0.2,6.2C-1.1,6.7 -2.8,6.3 -3.6,5.6C-4.3,5.0 -4.0,3.6 -4.2,2.5C-4.4,1.4 -5.0,0.4 -4.7,-1.0C-4.5,-2.3 -3.4,-4.7 -2.6,-5.4C-1.8,-6.1 -1.0,-5.3 0.1,-5.1C1.2,-4.9 3.0,-5.3 4.0,-4.4C5.1,-3.4 6.4,-0.6 6.4,0.6Z" fill="#3c3c3c" opacity="0.75"/><path d="M6.4,0.6C6.4,1.9 5.0,2.1 4.0,3.0C2.9,4.0 1.4,5.8 0.2,6.2C-1.1,6.7 -2.8,6.3 -3.6,5.6C-4.3,5.0 -4.0,3.6 -4.2,2.5C-4.4,1.4 -5.0,0.4 -4.7,-1.0C-4.5,-2.3 -3.4,-4.7 -2.6,-5.4C-1.8,-6.1 -1.0,-5.3 0.1,-5.1C1.2,-4.9 3.0,-5.3 4.0,-4.4C5.1,-3.4 6.4,-0.6 6.4,0.6Z" fill="url(#gpart)"/></g>
<g transform="translate(526,278) rotate(10)"><path transform="translate(0.9,1.2) scale(1.08)" d="M9.0,1.7C8.7,4.0 7.1,6.1 5.9,7.3C4.7,8.4 3.6,8.1 1.9,8.6C0.2,9.1 -2.5,11.3 -4.5,10.2C-6.5,9.0 -9.5,3.5 -10.1,1.5C-10.8,-0.5 -9.1,-0.4 -8.4,-1.9C-7.6,-3.3 -7.4,-6.2 -5.6,-7.2C-3.9,-8.2 -0.1,-8.0 2.2,-7.9C4.4,-7.8 6.7,-8.0 7.9,-6.4C9.0,-4.8 9.3,-0.6 9.0,1.7Z" fill="#3c3c3c" opacity="0.75"/><path d="M9.0,1.7C8.7,4.0 7.1,6.1 5.9,7.3C4.7,8.4 3.6,8.1 1.9,8.6C0.2,9.1 -2.5,11.3 -4.5,10.2C-6.5,9.0 -9.5,3.5 -10.1,1.5C-10.8,-0.5 -9.1,-0.4 -8.4,-1.9C-7.6,-3.3 -7.4,-6.2 -5.6,-7.2C-3.9,-8.2 -0.1,-8.0 2.2,-7.9C4.4,-7.8 6.7,-8.0 7.9,-6.4C9.0,-4.8 9.3,-0.6 9.0,1.7Z" fill="url(#gpart)"/></g>
<g transform="translate(455,285) rotate(-28)"><path transform="translate(0.9,1.2) scale(1.08)" d="M12.6,-0.3C12.7,2.6 10.5,5.5 8.5,7.5C6.4,9.6 2.5,11.5 0.3,11.9C-2.0,12.3 -2.8,11.6 -4.9,10.0C-7.1,8.4 -11.8,4.8 -12.7,2.2C-13.6,-0.4 -11.3,-4.1 -10.2,-5.8C-9.2,-7.5 -8.3,-7.0 -6.4,-8.1C-4.4,-9.1 -0.8,-11.8 1.6,-12.2C3.9,-12.5 6.1,-11.9 7.9,-9.9C9.8,-7.9 12.5,-3.2 12.6,-0.3Z" fill="#3c3c3c" opacity="0.75"/><path d="M12.6,-0.3C12.7,2.6 10.5,5.5 8.5,7.5C6.4,9.6 2.5,11.5 0.3,11.9C-2.0,12.3 -2.8,11.6 -4.9,10.0C-7.1,8.4 -11.8,4.8 -12.7,2.2C-13.6,-0.4 -11.3,-4.1 -10.2,-5.8C-9.2,-7.5 -8.3,-7.0 -6.4,-8.1C-4.4,-9.1 -0.8,-11.8 1.6,-12.2C3.9,-12.5 6.1,-11.9 7.9,-9.9C9.8,-7.9 12.5,-3.2 12.6,-0.3Z" fill="url(#gpart)"/></g>
<g transform="translate(542,229) rotate(17)"><path transform="translate(0.9,1.2) scale(1.08)" d="M6.4,0.0C6.1,1.7 6.0,4.1 5.1,5.4C4.2,6.7 2.4,7.7 0.8,7.8C-0.7,7.9 -2.7,7.1 -4.3,6.1C-5.9,5.0 -8.3,3.1 -8.7,1.5C-9.2,-0.2 -7.7,-2.7 -6.9,-4.0C-6.2,-5.2 -5.4,-5.3 -4.1,-6.1C-2.9,-6.9 -1.1,-8.9 0.7,-8.7C2.6,-8.4 6.1,-6.1 7.0,-4.6C8.0,-3.2 6.7,-1.6 6.4,0.0Z" fill="#3c3c3c" opacity="0.75"/><path d="M6.4,0.0C6.1,1.7 6.0,4.1 5.1,5.4C4.2,6.7 2.4,7.7 0.8,7.8C-0.7,7.9 -2.7,7.1 -4.3,6.1C-5.9,5.0 -8.3,3.1 -8.7,1.5C-9.2,-0.2 -7.7,-2.7 -6.9,-4.0C-6.2,-5.2 -5.4,-5.3 -4.1,-6.1C-2.9,-6.9 -1.1,-8.9 0.7,-8.7C2.6,-8.4 6.1,-6.1 7.0,-4.6C8.0,-3.2 6.7,-1.6 6.4,0.0Z" fill="url(#gpart)"/></g>
<g transform="translate(546,265) rotate(19)"><path transform="translate(0.9,1.2) scale(1.08)" d="M7.0,1.4C7.0,2.9 6.8,3.4 5.9,4.3C5.1,5.2 3.3,6.3 1.9,6.7C0.4,7.2 -1.6,7.7 -2.8,7.0C-4.1,6.2 -5.5,3.8 -5.8,2.2C-6.2,0.5 -5.6,-1.4 -5.0,-2.9C-4.5,-4.4 -3.4,-6.1 -2.5,-6.8C-1.6,-7.6 -1.2,-7.7 0.2,-7.3C1.7,-6.9 4.9,-6.2 6.0,-4.7C7.1,-3.3 7.0,-0.1 7.0,1.4Z" fill="#3c3c3c" opacity="0.75"/><path d="M7.0,1.4C7.0,2.9 6.8,3.4 5.9,4.3C5.1,5.2 3.3,6.3 1.9,6.7C0.4,7.2 -1.6,7.7 -2.8,7.0C-4.1,6.2 -5.5,3.8 -5.8,2.2C-6.2,0.5 -5.6,-1.4 -5.0,-2.9C-4.5,-4.4 -3.4,-6.1 -2.5,-6.8C-1.6,-7.6 -1.2,-7.7 0.2,-7.3C1.7,-6.9 4.9,-6.2 6.0,-4.7C7.1,-3.3 7.0,-0.1 7.0,1.4Z" fill="url(#gpart)"/></g>
<g transform="translate(568,290) rotate(5)"><path transform="translate(0.9,1.2) scale(1.08)" d="M8.8,-0.3C9.1,1.4 8.3,3.1 7.2,4.3C6.1,5.4 4.0,6.1 2.3,6.7C0.6,7.3 -1.4,8.7 -3.1,8.0C-4.8,7.4 -6.9,4.7 -7.7,3.0C-8.5,1.3 -8.8,-0.6 -8.0,-2.1C-7.2,-3.6 -4.5,-4.9 -3.0,-5.9C-1.4,-7.0 -0.0,-8.1 1.4,-8.1C2.8,-8.1 4.3,-7.2 5.6,-5.9C6.8,-4.5 8.5,-1.9 8.8,-0.3Z" fill="#3c3c3c" opacity="0.75"/><path d="M8.8,-0.3C9.1,1.4 8.3,3.1 7.2,4.3C6.1,5.4 4.0,6.1 2.3,6.7C0.6,7.3 -1.4,8.7 -3.1,8.0C-4.8,7.4 -6.9,4.7 -7.7,3.0C-8.5,1.3 -8.8,-0.6 -8.0,-2.1C-7.2,-3.6 -4.5,-4.9 -3.0,-5.9C-1.4,-7.0 -0.0,-8.1 1.4,-8.1C2.8,-8.1 4.3,-7.2 5.6,-5.9C6.8,-4.5 8.5,-1.9 8.8,-0.3Z" fill="url(#gpart)"/></g>
<g transform="translate(557,255) rotate(-13)"><path transform="translate(0.9,1.2) scale(1.08)" d="M8.7,-0.5C8.8,1.3 6.9,5.5 5.7,6.9C4.5,8.2 3.4,7.7 1.6,7.7C-0.2,7.7 -3.4,7.4 -5.0,6.7C-6.6,5.9 -7.5,4.6 -8.0,3.1C-8.6,1.5 -9.2,-1.2 -8.4,-2.7C-7.6,-4.2 -5.1,-5.1 -3.4,-5.8C-1.7,-6.4 0.4,-6.8 1.8,-6.5C3.3,-6.2 4.1,-4.8 5.3,-3.8C6.4,-2.8 8.7,-2.2 8.7,-0.5Z" fill="#3c3c3c" opacity="0.75"/><path d="M8.7,-0.5C8.8,1.3 6.9,5.5 5.7,6.9C4.5,8.2 3.4,7.7 1.6,7.7C-0.2,7.7 -3.4,7.4 -5.0,6.7C-6.6,5.9 -7.5,4.6 -8.0,3.1C-8.6,1.5 -9.2,-1.2 -8.4,-2.7C-7.6,-4.2 -5.1,-5.1 -3.4,-5.8C-1.7,-6.4 0.4,-6.8 1.8,-6.5C3.3,-6.2 4.1,-4.8 5.3,-3.8C6.4,-2.8 8.7,-2.2 8.7,-0.5Z" fill="url(#gpart)"/></g>
<g transform="translate(406,260) rotate(29)"><path transform="translate(0.9,1.2) scale(1.08)" d="M8.3,0.1C8.4,1.5 8.0,3.1 6.8,4.2C5.7,5.3 3.4,6.7 1.6,6.9C-0.2,7.0 -2.6,5.9 -3.9,5.2C-5.2,4.4 -5.6,3.9 -6.2,2.3C-6.8,0.8 -7.9,-2.7 -7.7,-4.1C-7.5,-5.4 -6.4,-5.1 -4.9,-5.8C-3.4,-6.4 -0.5,-8.4 1.3,-8.1C3.2,-7.9 4.8,-5.5 6.0,-4.1C7.1,-2.8 8.2,-1.3 8.3,0.1Z" fill="#3c3c3c" opacity="0.75"/><path d="M8.3,0.1C8.4,1.5 8.0,3.1 6.8,4.2C5.7,5.3 3.4,6.7 1.6,6.9C-0.2,7.0 -2.6,5.9 -3.9,5.2C-5.2,4.4 -5.6,3.9 -6.2,2.3C-6.8,0.8 -7.9,-2.7 -7.7,-4.1C-7.5,-5.4 -6.4,-5.1 -4.9,-5.8C-3.4,-6.4 -0.5,-8.4 1.3,-8.1C3.2,-7.9 4.8,-5.5 6.0,-4.1C7.1,-2.8 8.2,-1.3 8.3,0.1Z" fill="url(#gpart)"/></g>
<g transform="translate(420,284) rotate(26)"><path transform="translate(0.9,1.2) scale(1.08)" d="M8.4,-1.1C7.8,0.8 6.6,4.4 5.7,6.2C4.8,7.9 4.4,8.9 2.8,9.2C1.3,9.4 -1.7,8.9 -3.8,7.6C-5.8,6.4 -8.7,3.6 -9.4,1.7C-10.1,-0.3 -8.9,-2.3 -7.9,-3.9C-6.8,-5.6 -4.9,-7.2 -3.1,-8.2C-1.2,-9.1 1.3,-9.9 3.3,-9.4C5.3,-8.9 8.3,-6.5 9.1,-5.1C10.0,-3.7 8.9,-2.9 8.4,-1.1Z" fill="#3c3c3c" opacity="0.75"/><path d="M8.4,-1.1C7.8,0.8 6.6,4.4 5.7,6.2C4.8,7.9 4.4,8.9 2.8,9.2C1.3,9.4 -1.7,8.9 -3.8,7.6C-5.8,6.4 -8.7,3.6 -9.4,1.7C-10.1,-0.3 -8.9,-2.3 -7.9,-3.9C-6.8,-5.6 -4.9,-7.2 -3.1,-8.2C-1.2,-9.1 1.3,-9.9 3.3,-9.4C5.3,-8.9 8.3,-6.5 9.1,-5.1C10.0,-3.7 8.9,-2.9 8.4,-1.1Z" fill="url(#gpart)"/></g>
<g transform="translate(500,290) rotate(8)"><path transform="translate(0.9,1.2) scale(1.08)" d="M10.7,0.1C10.8,2.0 8.3,3.5 6.5,5.2C4.7,6.9 2.1,10.0 0.1,10.6C-2.0,11.1 -4.4,9.7 -5.8,8.6C-7.3,7.5 -7.8,6.5 -8.5,4.2C-9.2,1.9 -10.8,-3.1 -9.8,-5.1C-8.9,-7.1 -5.0,-7.3 -3.0,-8.0C-0.9,-8.7 0.9,-9.8 2.4,-9.5C3.9,-9.1 4.9,-7.3 6.3,-5.7C7.7,-4.1 10.7,-1.7 10.7,0.1Z" fill="#3c3c3c" opacity="0.75"/><path d="M10.7,0.1C10.8,2.0 8.3,3.5 6.5,5.2C4.7,6.9 2.1,10.0 0.1,10.6C-2.0,11.1 -4.4,9.7 -5.8,8.6C-7.3,7.5 -7.8,6.5 -8.5,4.2C-9.2,1.9 -10.8,-3.1 -9.8,-5.1C-8.9,-7.1 -5.0,-7.3 -3.0,-8.0C-0.9,-8.7 0.9,-9.8 2.4,-9.5C3.9,-9.1 4.9,-7.3 6.3,-5.7C7.7,-4.1 10.7,-1.7 10.7,0.1Z" fill="url(#gpart)"/></g>
<g transform="translate(581,275) rotate(-22)"><path transform="translate(0.9,1.2) scale(1.08)" d="M8.6,-0.1C8.7,1.5 8.0,3.1 6.8,4.7C5.6,6.3 3.2,9.0 1.4,9.3C-0.4,9.6 -2.5,7.8 -4.1,6.5C-5.7,5.2 -7.3,3.5 -8.1,1.6C-8.9,-0.3 -9.1,-3.7 -8.6,-5.1C-8.2,-6.5 -7.4,-6.5 -5.5,-7.0C-3.6,-7.4 1.0,-8.1 2.9,-7.8C4.9,-7.5 5.4,-6.4 6.3,-5.1C7.3,-3.8 8.5,-1.7 8.6,-0.1Z" fill="#3c3c3c" opacity="0.75"/><path d="M8.6,-0.1C8.7,1.5 8.0,3.1 6.8,4.7C5.6,6.3 3.2,9.0 1.4,9.3C-0.4,9.6 -2.5,7.8 -4.1,6.5C-5.7,5.2 -7.3,3.5 -8.1,1.6C-8.9,-0.3 -9.1,-3.7 -8.6,-5.1C-8.2,-6.5 -7.4,-6.5 -5.5,-7.0C-3.6,-7.4 1.0,-8.1 2.9,-7.8C4.9,-7.5 5.4,-6.4 6.3,-5.1C7.3,-3.8 8.5,-1.7 8.6,-0.1Z" fill="url(#gpart)"/></g>
<g transform="translate(657,169) rotate(-28)"><path transform="translate(0.9,1.2) scale(1.08)" d="M12.5,-0.9C12.6,0.6 14.0,3.4 12.3,5.2C10.6,7.0 5.8,9.5 2.5,9.8C-0.9,10.1 -4.9,8.2 -7.7,6.8C-10.6,5.4 -13.6,3.2 -14.8,1.5C-16.1,-0.2 -16.5,-2.0 -15.1,-3.5C-13.6,-5.0 -9.0,-6.7 -6.0,-7.4C-3.0,-8.1 -0.0,-8.5 2.9,-7.9C5.8,-7.3 9.9,-5.0 11.5,-3.9C13.1,-2.7 12.4,-2.4 12.5,-0.9Z" fill="#3c3c3c" opacity="0.75"/><path d="M12.5,-0.9C12.6,0.6 14.0,3.4 12.3,5.2C10.6,7.0 5.8,9.5 2.5,9.8C-0.9,10.1 -4.9,8.2 -7.7,6.8C-10.6,5.4 -13.6,3.2 -14.8,1.5C-16.1,-0.2 -16.5,-2.0 -15.1,-3.5C-13.6,-5.0 -9.0,-6.7 -6.0,-7.4C-3.0,-8.1 -0.0,-8.5 2.9,-7.9C5.8,-7.3 9.9,-5.0 11.5,-3.9C13.1,-2.7 12.4,-2.4 12.5,-0.9Z" fill="url(#gpart)"/></g>
<g transform="translate(638,184) rotate(28)"><path transform="translate(0.9,1.2) scale(1.08)" d="M6.3,-1.1C6.1,0.2 6.1,3.3 5.2,4.6C4.3,5.9 2.8,6.3 1.1,6.6C-0.6,6.9 -3.4,7.1 -5.0,6.4C-6.6,5.7 -8.1,4.2 -8.4,2.4C-8.8,0.6 -7.9,-2.9 -7.0,-4.2C-6.0,-5.6 -3.9,-5.3 -2.7,-5.8C-1.6,-6.3 -1.5,-7.9 -0.0,-7.5C1.5,-7.1 5.2,-4.6 6.3,-3.5C7.3,-2.5 6.5,-2.5 6.3,-1.1Z" fill="#3c3c3c" opacity="0.75"/><path d="M6.3,-1.1C6.1,0.2 6.1,3.3 5.2,4.6C4.3,5.9 2.8,6.3 1.1,6.6C-0.6,6.9 -3.4,7.1 -5.0,6.4C-6.6,5.7 -8.1,4.2 -8.4,2.4C-8.8,0.6 -7.9,-2.9 -7.0,-4.2C-6.0,-5.6 -3.9,-5.3 -2.7,-5.8C-1.6,-6.3 -1.5,-7.9 -0.0,-7.5C1.5,-7.1 5.2,-4.6 6.3,-3.5C7.3,-2.5 6.5,-2.5 6.3,-1.1Z" fill="url(#gpart)"/></g>
<g transform="translate(614,199) rotate(4)"><path transform="translate(0.9,1.2) scale(1.08)" d="M8.2,-1.6C8.1,0.5 7.1,5.3 5.8,6.7C4.5,8.2 1.8,7.2 0.3,7.2C-1.2,7.3 -1.8,8.0 -3.0,7.1C-4.3,6.2 -6.7,3.5 -7.3,1.6C-8.0,-0.2 -7.6,-2.4 -6.9,-4.0C-6.2,-5.6 -4.5,-7.1 -3.2,-8.1C-1.8,-9.1 -0.6,-10.2 1.0,-9.9C2.7,-9.6 5.6,-7.6 6.8,-6.2C8.0,-4.8 8.4,-3.8 8.2,-1.6Z" fill="#3c3c3c" opacity="0.75"/><path d="M8.2,-1.6C8.1,0.5 7.1,5.3 5.8,6.7C4.5,8.2 1.8,7.2 0.3,7.2C-1.2,7.3 -1.8,8.0 -3.0,7.1C-4.3,6.2 -6.7,3.5 -7.3,1.6C-8.0,-0.2 -7.6,-2.4 -6.9,-4.0C-6.2,-5.6 -4.5,-7.1 -3.2,-8.1C-1.8,-9.1 -0.6,-10.2 1.0,-9.9C2.7,-9.6 5.6,-7.6 6.8,-6.2C8.0,-4.8 8.4,-3.8 8.2,-1.6Z" fill="url(#gpart)"/></g>
<g transform="translate(725,210) rotate(-26)"><path transform="translate(0.9,1.2) scale(1.08)" d="M16.6,1.9C16.8,4.7 15.5,5.5 13.3,7.0C11.1,8.4 6.7,9.8 3.3,10.6C-0.0,11.4 -3.6,13.1 -6.9,11.7C-10.2,10.4 -15.5,5.5 -16.5,2.4C-17.5,-0.7 -14.6,-4.7 -12.8,-6.8C-11.0,-8.8 -8.5,-9.0 -5.7,-9.9C-2.9,-10.8 0.9,-12.3 3.8,-12.3C6.8,-12.2 9.8,-12.0 11.9,-9.7C14.0,-7.3 16.3,-0.9 16.6,1.9Z" fill="#3c3c3c" opacity="0.75"/><path d="M16.6,1.9C16.8,4.7 15.5,5.5 13.3,7.0C11.1,8.4 6.7,9.8 3.3,10.6C-0.0,11.4 -3.6,13.1 -6.9,11.7C-10.2,10.4 -15.5,5.5 -16.5,2.4C-17.5,-0.7 -14.6,-4.7 -12.8,-6.8C-11.0,-8.8 -8.5,-9.0 -5.7,-9.9C-2.9,-10.8 0.9,-12.3 3.8,-12.3C6.8,-12.2 9.8,-12.0 11.9,-9.7C14.0,-7.3 16.3,-0.9 16.6,1.9Z" fill="url(#gpart)"/></g>
<g transform="translate(751,228) rotate(-15)"><path transform="translate(0.9,1.2) scale(1.08)" d="M7.6,-1.1C7.7,0.8 8.7,3.3 7.5,4.7C6.4,6.2 2.4,7.2 0.4,7.6C-1.6,8.1 -3.0,8.5 -4.4,7.7C-5.8,6.8 -7.6,4.4 -7.9,2.7C-8.3,1.0 -7.2,-1.1 -6.8,-2.6C-6.3,-4.1 -6.7,-5.3 -5.4,-6.4C-4.2,-7.6 -1.4,-9.3 0.6,-9.4C2.7,-9.4 5.5,-8.3 6.7,-6.9C7.8,-5.5 7.4,-3.0 7.6,-1.1Z" fill="#3c3c3c" opacity="0.75"/><path d="M7.6,-1.1C7.7,0.8 8.7,3.3 7.5,4.7C6.4,6.2 2.4,7.2 0.4,7.6C-1.6,8.1 -3.0,8.5 -4.4,7.7C-5.8,6.8 -7.6,4.4 -7.9,2.7C-8.3,1.0 -7.2,-1.1 -6.8,-2.6C-6.3,-4.1 -6.7,-5.3 -5.4,-6.4C-4.2,-7.6 -1.4,-9.3 0.6,-9.4C2.7,-9.4 5.5,-8.3 6.7,-6.9C7.8,-5.5 7.4,-3.0 7.6,-1.1Z" fill="url(#gpart)"/></g>
<g transform="translate(772,178) rotate(-16)"><path transform="translate(0.9,1.2) scale(1.08)" d="M9.4,-1.9C9.5,0.8 8.7,4.6 7.2,6.6C5.7,8.7 2.8,9.8 0.6,10.4C-1.6,11.1 -4.4,11.7 -6.0,10.6C-7.5,9.6 -8.5,6.9 -9.0,4.1C-9.4,1.4 -9.3,-3.9 -8.6,-5.9C-8.0,-7.9 -6.4,-7.0 -5.0,-7.8C-3.5,-8.7 -1.9,-10.7 0.1,-10.9C2.0,-11.1 5.0,-10.7 6.6,-9.2C8.1,-7.7 9.3,-4.5 9.4,-1.9Z" fill="#3c3c3c" opacity="0.75"/><path d="M9.4,-1.9C9.5,0.8 8.7,4.6 7.2,6.6C5.7,8.7 2.8,9.8 0.6,10.4C-1.6,11.1 -4.4,11.7 -6.0,10.6C-7.5,9.6 -8.5,6.9 -9.0,4.1C-9.4,1.4 -9.3,-3.9 -8.6,-5.9C-8.0,-7.9 -6.4,-7.0 -5.0,-7.8C-3.5,-8.7 -1.9,-10.7 0.1,-10.9C2.0,-11.1 5.0,-10.7 6.6,-9.2C8.1,-7.7 9.3,-4.5 9.4,-1.9Z" fill="url(#gpart)"/></g>
<g transform="translate(745,163) rotate(-5)"><path transform="translate(0.9,1.2) scale(1.08)" d="M9.6,-0.6C9.5,1.0 6.8,4.1 5.6,5.4C4.5,6.6 4.5,6.4 2.8,6.8C1.0,7.2 -2.8,8.7 -4.8,7.8C-6.7,7.0 -8.5,3.5 -9.0,2.0C-9.6,0.4 -8.3,0.1 -8.0,-1.4C-7.6,-2.8 -8.3,-5.8 -6.7,-6.7C-5.0,-7.6 -0.2,-7.1 2.0,-6.6C4.2,-6.2 5.3,-5.0 6.5,-4.0C7.8,-2.9 9.8,-2.1 9.6,-0.6Z" fill="#3c3c3c" opacity="0.75"/><path d="M9.6,-0.6C9.5,1.0 6.8,4.1 5.6,5.4C4.5,6.6 4.5,6.4 2.8,6.8C1.0,7.2 -2.8,8.7 -4.8,7.8C-6.7,7.0 -8.5,3.5 -9.0,2.0C-9.6,0.4 -8.3,0.1 -8.0,-1.4C-7.6,-2.8 -8.3,-5.8 -6.7,-6.7C-5.0,-7.6 -0.2,-7.1 2.0,-6.6C4.2,-6.2 5.3,-5.0 6.5,-4.0C7.8,-2.9 9.8,-2.1 9.6,-0.6Z" fill="url(#gpart)"/></g>
<g transform="translate(670,222) rotate(0)"><path transform="translate(0.9,1.2) scale(1.08)" d="M7.5,-0.5C7.2,1.6 7.5,5.3 6.5,6.6C5.5,8.0 3.2,7.5 1.3,7.6C-0.6,7.6 -3.3,7.9 -4.7,7.0C-6.1,6.1 -6.9,3.9 -7.2,2.1C-7.4,0.3 -6.7,-2.1 -6.3,-3.5C-5.9,-5.0 -6.1,-6.1 -4.9,-6.7C-3.8,-7.4 -1.8,-7.6 0.4,-7.4C2.6,-7.3 7.0,-7.0 8.2,-5.9C9.4,-4.7 7.8,-2.6 7.5,-0.5Z" fill="#3c3c3c" opacity="0.75"/><path d="M7.5,-0.5C7.2,1.6 7.5,5.3 6.5,6.6C5.5,8.0 3.2,7.5 1.3,7.6C-0.6,7.6 -3.3,7.9 -4.7,7.0C-6.1,6.1 -6.9,3.9 -7.2,2.1C-7.4,0.3 -6.7,-2.1 -6.3,-3.5C-5.9,-5.0 -6.1,-6.1 -4.9,-6.7C-3.8,-7.4 -1.8,-7.6 0.4,-7.4C2.6,-7.3 7.0,-7.0 8.2,-5.9C9.4,-4.7 7.8,-2.6 7.5,-0.5Z" fill="url(#gpart)"/></g>
<g transform="translate(608,242) rotate(-10)"><path transform="translate(0.9,1.2) scale(1.08)" d="M10.1,-1.0C10.0,1.2 9.3,3.8 7.7,5.7C6.2,7.5 2.7,9.8 0.9,10.3C-0.9,10.7 -1.2,9.4 -3.1,8.4C-5.0,7.3 -9.9,6.2 -10.6,4.0C-11.2,1.9 -8.2,-2.3 -7.2,-4.5C-6.3,-6.7 -6.1,-8.0 -4.8,-9.1C-3.5,-10.2 -1.6,-11.4 0.5,-11.1C2.7,-10.9 6.5,-9.2 8.1,-7.5C9.7,-5.8 10.2,-3.2 10.1,-1.0Z" fill="#3c3c3c" opacity="0.75"/><path d="M10.1,-1.0C10.0,1.2 9.3,3.8 7.7,5.7C6.2,7.5 2.7,9.8 0.9,10.3C-0.9,10.7 -1.2,9.4 -3.1,8.4C-5.0,7.3 -9.9,6.2 -10.6,4.0C-11.2,1.9 -8.2,-2.3 -7.2,-4.5C-6.3,-6.7 -6.1,-8.0 -4.8,-9.1C-3.5,-10.2 -1.6,-11.4 0.5,-11.1C2.7,-10.9 6.5,-9.2 8.1,-7.5C9.7,-5.8 10.2,-3.2 10.1,-1.0Z" fill="url(#gpart)"/></g>
<g transform="translate(649,264) rotate(-12)"><path transform="translate(0.9,1.2) scale(1.08)" d="M14.6,1.6C14.3,3.4 11.2,3.9 9.1,4.8C7.1,5.8 5.0,7.0 2.1,7.4C-0.7,7.9 -5.2,8.3 -8.1,7.6C-10.9,6.9 -13.8,4.7 -14.8,3.1C-15.8,1.6 -15.9,0.1 -14.2,-1.5C-12.5,-3.2 -7.2,-6.0 -4.6,-6.9C-2.0,-7.9 -1.5,-7.5 1.2,-7.3C3.8,-7.1 9.1,-7.2 11.4,-5.7C13.6,-4.2 15.0,-0.1 14.6,1.6Z" fill="#3c3c3c" opacity="0.75"/><path d="M14.6,1.6C14.3,3.4 11.2,3.9 9.1,4.8C7.1,5.8 5.0,7.0 2.1,7.4C-0.7,7.9 -5.2,8.3 -8.1,7.6C-10.9,6.9 -13.8,4.7 -14.8,3.1C-15.8,1.6 -15.9,0.1 -14.2,-1.5C-12.5,-3.2 -7.2,-6.0 -4.6,-6.9C-2.0,-7.9 -1.5,-7.5 1.2,-7.3C3.8,-7.1 9.1,-7.2 11.4,-5.7C13.6,-4.2 15.0,-0.1 14.6,1.6Z" fill="url(#gpart)"/></g>
<g transform="translate(623,283) rotate(-9)"><path transform="translate(0.9,1.2) scale(1.08)" d="M11.9,0.9C11.9,3.3 10.2,6.3 8.2,8.1C6.2,10.0 1.7,11.9 -0.2,12.2C-2.1,12.6 -1.2,11.7 -3.4,10.2C-5.7,8.8 -12.4,6.0 -13.5,3.6C-14.7,1.2 -11.6,-1.7 -10.2,-4.3C-8.7,-7.0 -6.6,-11.2 -4.9,-12.5C-3.2,-13.7 -2.0,-13.0 0.2,-12.0C2.5,-10.9 6.5,-8.3 8.4,-6.1C10.4,-4.0 11.9,-1.4 11.9,0.9Z" fill="#3c3c3c" opacity="0.75"/><path d="M11.9,0.9C11.9,3.3 10.2,6.3 8.2,8.1C6.2,10.0 1.7,11.9 -0.2,12.2C-2.1,12.6 -1.2,11.7 -3.4,10.2C-5.7,8.8 -12.4,6.0 -13.5,3.6C-14.7,1.2 -11.6,-1.7 -10.2,-4.3C-8.7,-7.0 -6.6,-11.2 -4.9,-12.5C-3.2,-13.7 -2.0,-13.0 0.2,-12.0C2.5,-10.9 6.5,-8.3 8.4,-6.1C10.4,-4.0 11.9,-1.4 11.9,0.9Z" fill="url(#gpart)"/></g>
<g transform="translate(671,289) rotate(-27)"><path transform="translate(0.9,1.2) scale(1.08)" d="M9.7,-0.6C9.5,1.5 6.7,4.7 5.1,6.3C3.5,8.0 1.9,9.4 0.1,9.5C-1.7,9.6 -4.0,8.3 -5.5,7.0C-7.0,5.6 -8.6,3.4 -8.9,1.5C-9.3,-0.4 -8.2,-3.0 -7.6,-4.4C-7.0,-5.9 -6.7,-6.3 -5.2,-6.9C-3.7,-7.5 -0.6,-8.2 1.4,-8.1C3.3,-7.9 5.0,-7.1 6.4,-5.9C7.7,-4.7 9.9,-2.6 9.7,-0.6Z" fill="#3c3c3c" opacity="0.75"/><path d="M9.7,-0.6C9.5,1.5 6.7,4.7 5.1,6.3C3.5,8.0 1.9,9.4 0.1,9.5C-1.7,9.6 -4.0,8.3 -5.5,7.0C-7.0,5.6 -8.6,3.4 -8.9,1.5C-9.3,-0.4 -8.2,-3.0 -7.6,-4.4C-7.0,-5.9 -6.7,-6.3 -5.2,-6.9C-3.7,-7.5 -0.6,-8.2 1.4,-8.1C3.3,-7.9 5.0,-7.1 6.4,-5.9C7.7,-4.7 9.9,-2.6 9.7,-0.6Z" fill="url(#gpart)"/></g>
<g transform="translate(709,282) rotate(5)"><path transform="translate(0.9,1.2) scale(1.08)" d="M9.7,-1.1C9.9,1.2 9.3,4.8 8.1,6.8C6.9,8.8 4.3,10.4 2.3,10.9C0.3,11.4 -2.0,10.8 -4.1,9.8C-6.3,8.8 -9.4,7.3 -10.4,4.9C-11.5,2.4 -11.4,-2.6 -10.5,-4.8C-9.6,-7.0 -7.1,-7.6 -4.8,-8.4C-2.4,-9.3 1.6,-10.3 3.6,-10.0C5.6,-9.7 6.2,-8.2 7.2,-6.7C8.2,-5.2 9.6,-3.3 9.7,-1.1Z" fill="#3c3c3c" opacity="0.75"/><path d="M9.7,-1.1C9.9,1.2 9.3,4.8 8.1,6.8C6.9,8.8 4.3,10.4 2.3,10.9C0.3,11.4 -2.0,10.8 -4.1,9.8C-6.3,8.8 -9.4,7.3 -10.4,4.9C-11.5,2.4 -11.4,-2.6 -10.5,-4.8C-9.6,-7.0 -7.1,-7.6 -4.8,-8.4C-2.4,-9.3 1.6,-10.3 3.6,-10.0C5.6,-9.7 6.2,-8.2 7.2,-6.7C8.2,-5.2 9.6,-3.3 9.7,-1.1Z" fill="url(#gpart)"/></g>
<g transform="translate(596,280) rotate(-6)"><path transform="translate(0.9,1.2) scale(1.08)" d="M8.5,0.7C8.4,2.4 7.4,4.2 6.4,5.3C5.3,6.4 3.8,7.1 2.2,7.2C0.6,7.4 -1.6,7.1 -3.2,6.4C-4.9,5.8 -7.2,4.8 -7.7,3.3C-8.2,1.7 -6.7,-1.3 -6.3,-3.0C-5.8,-4.6 -6.3,-6.0 -5.0,-6.8C-3.6,-7.6 -0.0,-8.2 1.9,-7.9C3.8,-7.6 5.4,-6.3 6.5,-4.9C7.6,-3.5 8.5,-1.0 8.5,0.7Z" fill="#3c3c3c" opacity="0.75"/><path d="M8.5,0.7C8.4,2.4 7.4,4.2 6.4,5.3C5.3,6.4 3.8,7.1 2.2,7.2C0.6,7.4 -1.6,7.1 -3.2,6.4C-4.9,5.8 -7.2,4.8 -7.7,3.3C-8.2,1.7 -6.7,-1.3 -6.3,-3.0C-5.8,-4.6 -6.3,-6.0 -5.0,-6.8C-3.6,-7.6 -0.0,-8.2 1.9,-7.9C3.8,-7.6 5.4,-6.3 6.5,-4.9C7.6,-3.5 8.5,-1.0 8.5,0.7Z" fill="url(#gpart)"/></g>
<g transform="translate(730,290) rotate(-14)"><path transform="translate(0.9,1.2) scale(1.08)" d="M9.0,-1.6C9.3,0.4 10.9,3.5 9.7,5.4C8.4,7.4 4.4,9.6 1.7,10.0C-1.1,10.4 -5.3,9.0 -6.9,8.0C-8.5,7.0 -7.6,5.7 -8.1,4.0C-8.7,2.3 -11.0,0.1 -10.4,-2.0C-9.7,-4.1 -5.9,-7.6 -4.0,-8.7C-2.1,-9.8 -0.9,-9.1 1.1,-8.8C3.0,-8.5 6.5,-7.8 7.8,-6.6C9.2,-5.4 8.7,-3.6 9.0,-1.6Z" fill="#3c3c3c" opacity="0.75"/><path d="M9.0,-1.6C9.3,0.4 10.9,3.5 9.7,5.4C8.4,7.4 4.4,9.6 1.7,10.0C-1.1,10.4 -5.3,9.0 -6.9,8.0C-8.5,7.0 -7.6,5.7 -8.1,4.0C-8.7,2.3 -11.0,0.1 -10.4,-2.0C-9.7,-4.1 -5.9,-7.6 -4.0,-8.7C-2.1,-9.8 -0.9,-9.1 1.1,-8.8C3.0,-8.5 6.5,-7.8 7.8,-6.6C9.2,-5.4 8.7,-3.6 9.0,-1.6Z" fill="url(#gpart)"/></g>
<g transform="translate(768,235) rotate(24)"><path transform="translate(0.9,1.2) scale(1.08)" d="M10.7,1.5C10.6,3.3 8.6,4.3 7.3,5.8C6.0,7.4 4.5,10.4 2.7,10.8C1.0,11.1 -1.2,8.9 -3.3,7.8C-5.4,6.8 -9.1,6.6 -9.9,4.6C-10.7,2.6 -9.0,-1.8 -8.0,-4.3C-7.0,-6.7 -5.6,-9.4 -4.1,-10.1C-2.5,-10.8 -0.7,-9.4 1.2,-8.5C3.2,-7.7 6.1,-6.8 7.6,-5.1C9.2,-3.4 10.7,-0.3 10.7,1.5Z" fill="#3c3c3c" opacity="0.75"/><path d="M10.7,1.5C10.6,3.3 8.6,4.3 7.3,5.8C6.0,7.4 4.5,10.4 2.7,10.8C1.0,11.1 -1.2,8.9 -3.3,7.8C-5.4,6.8 -9.1,6.6 -9.9,4.6C-10.7,2.6 -9.0,-1.8 -8.0,-4.3C-7.0,-6.7 -5.6,-9.4 -4.1,-10.1C-2.5,-10.8 -0.7,-9.4 1.2,-8.5C3.2,-7.7 6.1,-6.8 7.6,-5.1C9.2,-3.4 10.7,-0.3 10.7,1.5Z" fill="url(#gpart)"/></g>
<g transform="translate(622,229) rotate(-23)"><path transform="translate(0.9,1.2) scale(1.08)" d="M6.5,1.1C6.5,2.4 6.3,3.5 5.5,4.2C4.7,5.0 2.9,5.2 1.5,5.4C0.1,5.7 -1.8,6.1 -3.0,5.7C-4.1,5.4 -5.0,4.7 -5.5,3.3C-6.0,1.9 -6.1,-1.2 -5.7,-2.8C-5.3,-4.4 -4.1,-5.8 -3.1,-6.3C-2.1,-6.8 -1.2,-6.0 0.3,-5.6C1.7,-5.3 4.6,-5.2 5.6,-4.1C6.7,-3.0 6.5,-0.3 6.5,1.1Z" fill="#3c3c3c" opacity="0.75"/><path d="M6.5,1.1C6.5,2.4 6.3,3.5 5.5,4.2C4.7,5.0 2.9,5.2 1.5,5.4C0.1,5.7 -1.8,6.1 -3.0,5.7C-4.1,5.4 -5.0,4.7 -5.5,3.3C-6.0,1.9 -6.1,-1.2 -5.7,-2.8C-5.3,-4.4 -4.1,-5.8 -3.1,-6.3C-2.1,-6.8 -1.2,-6.0 0.3,-5.6C1.7,-5.3 4.6,-5.2 5.6,-4.1C6.7,-3.0 6.5,-0.3 6.5,1.1Z" fill="url(#gpart)"/></g>
<g transform="translate(597,194) rotate(-12)"><path transform="translate(0.9,1.2) scale(1.08)" d="M7.5,-1.3C7.2,1.1 5.1,4.8 4.0,6.6C2.9,8.5 2.0,9.6 1.0,9.7C-0.1,9.9 -1.3,8.2 -2.5,7.3C-3.7,6.4 -5.8,5.9 -6.4,4.1C-7.1,2.3 -6.7,-1.8 -6.2,-3.7C-5.8,-5.5 -4.9,-5.8 -3.8,-6.8C-2.6,-7.7 -0.9,-9.2 0.6,-9.3C2.2,-9.4 4.4,-8.8 5.6,-7.4C6.7,-6.1 7.7,-3.6 7.5,-1.3Z" fill="#3c3c3c" opacity="0.75"/><path d="M7.5,-1.3C7.2,1.1 5.1,4.8 4.0,6.6C2.9,8.5 2.0,9.6 1.0,9.7C-0.1,9.9 -1.3,8.2 -2.5,7.3C-3.7,6.4 -5.8,5.9 -6.4,4.1C-7.1,2.3 -6.7,-1.8 -6.2,-3.7C-5.8,-5.5 -4.9,-5.8 -3.8,-6.8C-2.6,-7.7 -0.9,-9.2 0.6,-9.3C2.2,-9.4 4.4,-8.8 5.6,-7.4C6.7,-6.1 7.7,-3.6 7.5,-1.3Z" fill="url(#gpart)"/></g>
<g transform="translate(690,250) rotate(-23)"><path transform="translate(0.9,1.2) scale(1.08)" d="M6.9,1.2C6.5,2.7 5.7,3.7 4.7,4.6C3.7,5.4 2.3,6.0 1.0,6.4C-0.2,6.8 -1.5,7.8 -2.8,7.0C-4.1,6.1 -6.2,3.0 -6.9,1.4C-7.6,-0.3 -7.6,-1.8 -6.8,-3.0C-6.0,-4.1 -3.4,-4.9 -2.1,-5.4C-0.8,-5.9 -0.6,-6.2 0.9,-6.1C2.3,-5.9 5.7,-5.6 6.7,-4.4C7.7,-3.2 7.2,-0.3 6.9,1.2Z" fill="#3c3c3c" opacity="0.75"/><path d="M6.9,1.2C6.5,2.7 5.7,3.7 4.7,4.6C3.7,5.4 2.3,6.0 1.0,6.4C-0.2,6.8 -1.5,7.8 -2.8,7.0C-4.1,6.1 -6.2,3.0 -6.9,1.4C-7.6,-0.3 -7.6,-1.8 -6.8,-3.0C-6.0,-4.1 -3.4,-4.9 -2.1,-5.4C-0.8,-5.9 -0.6,-6.2 0.9,-6.1C2.3,-5.9 5.7,-5.6 6.7,-4.4C7.7,-3.2 7.2,-0.3 6.9,1.2Z" fill="url(#gpart)"/></g>
<g transform="translate(760,265) rotate(21)"><path transform="translate(0.9,1.2) scale(1.08)" d="M7.4,0.1C7.2,1.7 5.4,3.6 4.6,4.9C3.7,6.2 3.7,7.5 2.2,8.0C0.8,8.5 -2.8,8.6 -4.3,7.8C-5.8,7.1 -6.3,5.3 -6.6,3.7C-6.9,2.2 -6.6,-0.0 -6.2,-1.5C-5.8,-3.0 -5.4,-4.1 -4.2,-5.1C-3.0,-6.1 -0.7,-7.5 0.9,-7.5C2.5,-7.4 4.4,-5.8 5.5,-4.6C6.6,-3.3 7.5,-1.4 7.4,0.1Z" fill="#3c3c3c" opacity="0.75"/><path d="M7.4,0.1C7.2,1.7 5.4,3.6 4.6,4.9C3.7,6.2 3.7,7.5 2.2,8.0C0.8,8.5 -2.8,8.6 -4.3,7.8C-5.8,7.1 -6.3,5.3 -6.6,3.7C-6.9,2.2 -6.6,-0.0 -6.2,-1.5C-5.8,-3.0 -5.4,-4.1 -4.2,-5.1C-3.0,-6.1 -0.7,-7.5 0.9,-7.5C2.5,-7.4 4.4,-5.8 5.5,-4.6C6.6,-3.3 7.5,-1.4 7.4,0.1Z" fill="url(#gpart)"/></g>
<g transform="translate(705,180) rotate(12)"><path transform="translate(0.9,1.2) scale(1.08)" d="M8.9,0.1C9.2,1.3 7.8,2.6 6.5,3.6C5.2,4.7 3.1,6.1 1.3,6.3C-0.5,6.5 -2.9,5.6 -4.3,4.8C-5.7,3.9 -6.6,2.4 -7.2,1.3C-7.7,0.1 -8.3,-0.8 -7.7,-2.0C-7.0,-3.1 -4.7,-4.5 -3.4,-5.5C-2.1,-6.4 -1.3,-8.0 0.1,-7.7C1.5,-7.5 3.4,-5.3 4.9,-4.0C6.4,-2.7 8.6,-1.2 8.9,0.1Z" fill="#3c3c3c" opacity="0.75"/><path d="M8.9,0.1C9.2,1.3 7.8,2.6 6.5,3.6C5.2,4.7 3.1,6.1 1.3,6.3C-0.5,6.5 -2.9,5.6 -4.3,4.8C-5.7,3.9 -6.6,2.4 -7.2,1.3C-7.7,0.1 -8.3,-0.8 -7.7,-2.0C-7.0,-3.1 -4.7,-4.5 -3.4,-5.5C-2.1,-6.4 -1.3,-8.0 0.1,-7.7C1.5,-7.5 3.4,-5.3 4.9,-4.0C6.4,-2.7 8.6,-1.2 8.9,0.1Z" fill="url(#gpart)"/></g>
<g transform="translate(540,170) rotate(9)"><path transform="translate(0.9,1.2) scale(1.08)" d="M7.2,0.1C7.3,1.4 7.8,2.9 6.9,3.8C6.0,4.7 3.7,5.4 1.8,5.4C-0.2,5.5 -3.4,4.8 -4.8,4.2C-6.1,3.6 -5.9,3.0 -6.3,1.9C-6.8,0.8 -7.8,-1.3 -7.4,-2.4C-7.0,-3.6 -5.2,-4.1 -3.9,-4.8C-2.5,-5.4 -1.1,-6.4 0.6,-6.3C2.3,-6.2 5.3,-5.3 6.4,-4.2C7.6,-3.1 7.2,-1.3 7.2,0.1Z" fill="#3c3c3c" opacity="0.75"/><path d="M7.2,0.1C7.3,1.4 7.8,2.9 6.9,3.8C6.0,4.7 3.7,5.4 1.8,5.4C-0.2,5.5 -3.4,4.8 -4.8,4.2C-6.1,3.6 -5.9,3.0 -6.3,1.9C-6.8,0.8 -7.8,-1.3 -7.4,-2.4C-7.0,-3.6 -5.2,-4.1 -3.9,-4.8C-2.5,-5.4 -1.1,-6.4 0.6,-6.3C2.3,-6.2 5.3,-5.3 6.4,-4.2C7.6,-3.1 7.2,-1.3 7.2,0.1Z" fill="url(#gpart)"/></g>
<g transform="translate(470,172) rotate(-8)"><path transform="translate(0.9,1.2) scale(1.08)" d="M5.6,0.4C6.0,1.5 7.3,2.3 6.5,3.1C5.6,3.8 2.4,4.9 0.7,5.1C-0.9,5.2 -2.3,4.6 -3.3,4.1C-4.3,3.6 -4.8,3.0 -5.3,1.9C-5.9,0.9 -6.8,-1.0 -6.6,-2.0C-6.4,-3.0 -5.2,-3.6 -4.1,-4.1C-3.0,-4.6 -1.2,-5.1 0.2,-5.0C1.6,-4.9 3.6,-4.4 4.6,-3.6C5.5,-2.7 5.3,-0.7 5.6,0.4Z" fill="#3c3c3c" opacity="0.75"/><path d="M5.6,0.4C6.0,1.5 7.3,2.3 6.5,3.1C5.6,3.8 2.4,4.9 0.7,5.1C-0.9,5.2 -2.3,4.6 -3.3,4.1C-4.3,3.6 -4.8,3.0 -5.3,1.9C-5.9,0.9 -6.8,-1.0 -6.6,-2.0C-6.4,-3.0 -5.2,-3.6 -4.1,-4.1C-3.0,-4.6 -1.2,-5.1 0.2,-5.0C1.6,-4.9 3.6,-4.4 4.6,-3.6C5.5,-2.7 5.3,-0.7 5.6,0.4Z" fill="url(#gpart)"/></g>
<g transform="translate(430,168) rotate(-11)"><path transform="translate(0.9,1.2) scale(1.08)" d="M5.9,0.1C6.0,1.4 6.0,3.0 5.4,3.8C4.7,4.7 3.5,4.9 2.0,5.1C0.4,5.3 -2.3,5.4 -3.8,4.8C-5.3,4.3 -6.7,3.0 -7.0,1.9C-7.3,0.7 -6.2,-0.7 -5.7,-1.9C-5.1,-3.2 -5.1,-4.8 -3.9,-5.5C-2.7,-6.2 0.0,-6.4 1.5,-6.1C2.9,-5.9 4.1,-4.9 4.8,-3.9C5.6,-2.8 5.8,-1.2 5.9,0.1Z" fill="#3c3c3c" opacity="0.75"/><path d="M5.9,0.1C6.0,1.4 6.0,3.0 5.4,3.8C4.7,4.7 3.5,4.9 2.0,5.1C0.4,5.3 -2.3,5.4 -3.8,4.8C-5.3,4.3 -6.7,3.0 -7.0,1.9C-7.3,0.7 -6.2,-0.7 -5.7,-1.9C-5.1,-3.2 -5.1,-4.8 -3.9,-5.5C-2.7,-6.2 0.0,-6.4 1.5,-6.1C2.9,-5.9 4.1,-4.9 4.8,-3.9C5.6,-2.8 5.8,-1.2 5.9,0.1Z" fill="url(#gpart)"/></g>
<g transform="translate(780,290) rotate(28)"><path transform="translate(0.9,1.2) scale(1.08)" d="M7.0,1.0C7.0,2.5 6.7,2.9 6.0,4.1C5.3,5.3 4.5,7.9 2.7,8.2C0.9,8.6 -3.1,7.0 -4.7,6.3C-6.3,5.5 -6.3,5.0 -6.8,3.7C-7.2,2.3 -7.9,-0.3 -7.3,-1.9C-6.6,-3.4 -4.3,-4.7 -2.8,-5.6C-1.2,-6.5 0.7,-7.3 2.1,-7.1C3.6,-6.9 5.2,-5.7 6.0,-4.4C6.8,-3.0 7.0,-0.4 7.0,1.0Z" fill="#3c3c3c" opacity="0.75"/><path d="M7.0,1.0C7.0,2.5 6.7,2.9 6.0,4.1C5.3,5.3 4.5,7.9 2.7,8.2C0.9,8.6 -3.1,7.0 -4.7,6.3C-6.3,5.5 -6.3,5.0 -6.8,3.7C-7.2,2.3 -7.9,-0.3 -7.3,-1.9C-6.6,-3.4 -4.3,-4.7 -2.8,-5.6C-1.2,-6.5 0.7,-7.3 2.1,-7.1C3.6,-6.9 5.2,-5.7 6.0,-4.4C6.8,-3.0 7.0,-0.4 7.0,1.0Z" fill="url(#gpart)"/></g>
<path d="M606.0,282.7 Q607.2,286.9 610.9,298.7" fill="none" stroke="#4a4a4a" stroke-width="1.1" opacity="0.6"/>
<path d="M426.3,169.3 Q420.9,165.1 421.0,164.1" fill="none" stroke="#4a4a4a" stroke-width="1.1" opacity="0.6"/>
<path d="M755.2,288.8 Q760.9,284.7 767.5,275.8" fill="none" stroke="#4a4a4a" stroke-width="1.1" opacity="0.6"/>
<path d="M757.7,275.3 Q753.9,274.3 756.7,266.6" fill="none" stroke="#4a4a4a" stroke-width="1.4" opacity="0.6"/>
<path d="M636.7,282.6 Q640.8,290.5 645.6,293.9" fill="none" stroke="#4a4a4a" stroke-width="1.3" opacity="0.6"/>
<path d="M476.6,296.1 Q477.8,301.4 473.7,310.8" fill="none" stroke="#4a4a4a" stroke-width="1.5" opacity="0.6"/>
<path d="M553.4,191.1 Q554.1,199.8 556.9,208.2" fill="none" stroke="#4a4a4a" stroke-width="1.3" opacity="0.6"/>
<path d="M411.0,267.1 Q409.6,256.5 410.5,250.6" fill="none" stroke="#4a4a4a" stroke-width="1.1" opacity="0.6"/>
<path d="M682.8,253.4 Q675.0,260.1 672.6,260.2" fill="none" stroke="#4a4a4a" stroke-width="1.3" opacity="0.6"/>
<path d="M596.0,271.9 Q597.2,281.3 600.7,285.7" fill="none" stroke="#4a4a4a" stroke-width="0.9" opacity="0.6"/>
<path d="M507.1,250.1 Q502.5,248.5 496.6,251.3" fill="none" stroke="#4a4a4a" stroke-width="1.2" opacity="0.6"/>
<path d="M401.5,273.5 Q401.8,282.3 401.1,289.5" fill="none" stroke="#4a4a4a" stroke-width="1.4" opacity="0.6"/>
<path d="M449.1,270.5 Q449.3,279.8 444.9,286.2" fill="none" stroke="#4a4a4a" stroke-width="1.6" opacity="0.6"/>
<path d="M569.0,255.6 Q569.8,253.6 576.9,253.1" fill="none" stroke="#4a4a4a" stroke-width="1.3" opacity="0.6"/>
<path d="M458.2,190.7 Q459.0,184.2 465.4,182.8" fill="none" stroke="#4a4a4a" stroke-width="1.4" opacity="0.6"/>
<path d="M474.0,227.1 Q468.5,228.5 463.0,224.5" fill="none" stroke="#4a4a4a" stroke-width="0.8" opacity="0.6"/>
<path d="M759.0,187.6 Q767.0,189.7 773.8,191.2" fill="none" stroke="#4a4a4a" stroke-width="1.0" opacity="0.6"/>
<path d="M701.7,202.9 Q701.6,199.8 700.4,194.3" fill="none" stroke="#4a4a4a" stroke-width="1.2" opacity="0.6"/>
<path d="M585.7,168.4 Q578.5,163.2 576.8,157.2" fill="none" stroke="#4a4a4a" stroke-width="1.5" opacity="0.6"/>
<path d="M439.7,279.3 Q440.0,273.6 444.3,274.5" fill="none" stroke="#4a4a4a" stroke-width="1.1" opacity="0.6"/>
<path d="M434.0,229.2 Q433.7,232.9 434.0,238.8" fill="none" stroke="#4a4a4a" stroke-width="1.6" opacity="0.6"/>
<path d="M679.2,175.4 Q678.3,175.2 680.2,181.4" fill="none" stroke="#4a4a4a" stroke-width="1.5" opacity="0.6"/>
<path d="M701.4,301.8 Q704.3,304.2 703.0,308.0" fill="none" stroke="#4a4a4a" stroke-width="1.7" opacity="0.6"/>
<path d="M552.0,203.8 Q559.9,207.2 567.6,211.5" fill="none" stroke="#4a4a4a" stroke-width="1.2" opacity="0.6"/>
<path d="M696.9,278.1 Q692.1,281.9 688.8,279.4" fill="none" stroke="#4a4a4a" stroke-width="1.2" opacity="0.6"/>
<path d="M655.4,239.3 Q647.1,241.3 642.9,242.4" fill="none" stroke="#4a4a4a" stroke-width="1.7" opacity="0.6"/>
<path d="M431.6,211.9 Q434.2,206.9 444.5,199.8" fill="none" stroke="#4a4a4a" stroke-width="1.4" opacity="0.6"/>
<path d="M725.6,226.4 Q730.5,231.7 732.1,233.4" fill="none" stroke="#4a4a4a" stroke-width="1.0" opacity="0.6"/>
<path d="M648.3,253.2 Q646.2,249.2 644.9,247.9" fill="none" stroke="#4a4a4a" stroke-width="1.4" opacity="0.6"/>
<path d="M530.5,177.4 Q530.6,171.7 526.0,169.1" fill="none" stroke="#4a4a4a" stroke-width="1.3" opacity="0.6"/>
<path d="M712.1,175.6 Q715.2,168.4 711.3,168.8" fill="none" stroke="#4a4a4a" stroke-width="1.5" opacity="0.6"/>
<path d="M542.8,184.8 Q537.4,185.4 533.3,192.1" fill="none" stroke="#4a4a4a" stroke-width="1.3" opacity="0.6"/>
<path d="M516.4,297.7 Q510.1,305.2 508.1,305.2" fill="none" stroke="#4a4a4a" stroke-width="1.1" opacity="0.6"/>
<path d="M649.7,278.4 Q642.1,280.0 637.9,287.8" fill="none" stroke="#4a4a4a" stroke-width="0.8" opacity="0.6"/>
<path d="M573.7,284.3 Q577.5,287.9 577.0,295.1" fill="none" stroke="#4a4a4a" stroke-width="1.0" opacity="0.6"/>
<path d="M600.8,220.0 Q606.5,217.3 616.3,213.7" fill="none" stroke="#4a4a4a" stroke-width="1.2" opacity="0.6"/>
<path d="M413.8,222.7 Q418.7,222.0 422.2,217.8" fill="none" stroke="#4a4a4a" stroke-width="0.9" opacity="0.6"/>
<path d="M756.8,174.7 Q750.6,180.6 752.1,188.5" fill="none" stroke="#4a4a4a" stroke-width="0.9" opacity="0.6"/>
<path d="M583.1,161.3 Q582.3,161.5 588.2,168.3" fill="none" stroke="#4a4a4a" stroke-width="1.0" opacity="0.6"/>
<path d="M600.2,178.6 Q600.6,171.6 605.0,168.7" fill="none" stroke="#4a4a4a" stroke-width="1.6" opacity="0.6"/>
</g>
<rect x="410.6" y="163.9" width="112.1" height="16.3" fill="#fff"/>
<text x="411.50" y="176.10" font-size="14.4" font-weight="700" text-anchor="start" fill="#000" >Functional layer</text>
<rect x="683.8" y="278.6" width="89" height="6.9" fill="#000"/>
<text x="676.4" y="268.6" font-size="31.5" font-weight="400" fill="#fff" stroke="#111" stroke-width="2.4" paint-order="stroke">100μm</text>
<text x="12.30" y="44.30" font-size="37" font-weight="700" text-anchor="start" fill="#000" >(a)</text>
<text x="14.30" y="342.00" font-size="37" font-weight="700" text-anchor="start" fill="#000" >(b)</text>
<text x="417.00" y="340.60" font-size="37" font-weight="700" text-anchor="start" fill="#000" >(c)</text>
<text x="13.30" y="673.20" font-size="37" font-weight="700" text-anchor="start" fill="#000" >(d)</text>
<text x="417.00" y="676.90" font-size="37" font-weight="700" text-anchor="start" fill="#000" >(e)</text>
<line x1="70.20" y1="591.00" x2="74.70" y2="591.00" stroke="#000" stroke-width="1.6" />
<line x1="70.20" y1="557.73" x2="74.70" y2="557.73" stroke="#000" stroke-width="1.6" />
<line x1="70.20" y1="524.45" x2="74.70" y2="524.45" stroke="#000" stroke-width="1.6" />
<line x1="70.20" y1="491.18" x2="74.70" y2="491.18" stroke="#000" stroke-width="1.6" />
<line x1="70.20" y1="457.90" x2="74.70" y2="457.90" stroke="#000" stroke-width="1.6" />
<line x1="70.20" y1="424.62" x2="74.70" y2="424.62" stroke="#000" stroke-width="1.6" />
<line x1="70.20" y1="391.35" x2="74.70" y2="391.35" stroke="#000" stroke-width="1.6" />
<line x1="70.20" y1="358.08" x2="74.70" y2="358.08" stroke="#000" stroke-width="1.6" />
<line x1="70.20" y1="574.36" x2="72.70" y2="574.36" stroke="#000" stroke-width="1.6" />
<line x1="70.20" y1="541.09" x2="72.70" y2="541.09" stroke="#000" stroke-width="1.6" />
<line x1="70.20" y1="507.81" x2="72.70" y2="507.81" stroke="#000" stroke-width="1.6" />
<line x1="70.20" y1="474.54" x2="72.70" y2="474.54" stroke="#000" stroke-width="1.6" />
<line x1="70.20" y1="441.26" x2="72.70" y2="441.26" stroke="#000" stroke-width="1.6" />
<line x1="70.20" y1="407.99" x2="72.70" y2="407.99" stroke="#000" stroke-width="1.6" />
<line x1="70.20" y1="374.71" x2="72.70" y2="374.71" stroke="#000" stroke-width="1.6" />
<line x1="90.70" y1="591.00" x2="90.70" y2="586.50" stroke="#000" stroke-width="1.6" />
<line x1="159.10" y1="591.00" x2="159.10" y2="586.50" stroke="#000" stroke-width="1.6" />
<line x1="227.50" y1="591.00" x2="227.50" y2="586.50" stroke="#000" stroke-width="1.6" />
<line x1="295.90" y1="591.00" x2="295.90" y2="586.50" stroke="#000" stroke-width="1.6" />
<line x1="364.30" y1="591.00" x2="364.30" y2="586.50" stroke="#000" stroke-width="1.6" />
<line x1="75.53" y1="591.00" x2="75.53" y2="588.50" stroke="#000" stroke-width="1.6" />
<line x1="84.07" y1="591.00" x2="84.07" y2="588.50" stroke="#000" stroke-width="1.6" />
<line x1="111.29" y1="591.00" x2="111.29" y2="588.50" stroke="#000" stroke-width="1.6" />
<line x1="131.88" y1="591.00" x2="131.88" y2="588.50" stroke="#000" stroke-width="1.6" />
<line x1="143.93" y1="591.00" x2="143.93" y2="588.50" stroke="#000" stroke-width="1.6" />
<line x1="152.47" y1="591.00" x2="152.47" y2="588.50" stroke="#000" stroke-width="1.6" />
<line x1="179.69" y1="591.00" x2="179.69" y2="588.50" stroke="#000" stroke-width="1.6" />
<line x1="200.28" y1="591.00" x2="200.28" y2="588.50" stroke="#000" stroke-width="1.6" />
<line x1="212.33" y1="591.00" x2="212.33" y2="588.50" stroke="#000" stroke-width="1.6" />
<line x1="220.87" y1="591.00" x2="220.87" y2="588.50" stroke="#000" stroke-width="1.6" />
<line x1="248.09" y1="591.00" x2="248.09" y2="588.50" stroke="#000" stroke-width="1.6" />
<line x1="268.68" y1="591.00" x2="268.68" y2="588.50" stroke="#000" stroke-width="1.6" />
<line x1="280.73" y1="591.00" x2="280.73" y2="588.50" stroke="#000" stroke-width="1.6" />
<line x1="289.27" y1="591.00" x2="289.27" y2="588.50" stroke="#000" stroke-width="1.6" />
<line x1="316.49" y1="591.00" x2="316.49" y2="588.50" stroke="#000" stroke-width="1.6" />
<line x1="337.08" y1="591.00" x2="337.08" y2="588.50" stroke="#000" stroke-width="1.6" />
<line x1="349.13" y1="591.00" x2="349.13" y2="588.50" stroke="#000" stroke-width="1.6" />
<line x1="357.67" y1="591.00" x2="357.67" y2="588.50" stroke="#000" stroke-width="1.6" />
<text x="64.30" y="596.90" font-size="17.0" font-weight="700" text-anchor="end" fill="#000" >2.5</text>
<text x="64.30" y="563.62" font-size="17.0" font-weight="700" text-anchor="end" fill="#000" >3.0</text>
<text x="64.30" y="530.35" font-size="17.0" font-weight="700" text-anchor="end" fill="#000" >3.5</text>
<text x="64.30" y="497.07" font-size="17.0" font-weight="700" text-anchor="end" fill="#000" >4.0</text>
<text x="64.30" y="463.80" font-size="17.0" font-weight="700" text-anchor="end" fill="#000" >4.5</text>
<text x="64.30" y="430.52" font-size="17.0" font-weight="700" text-anchor="end" fill="#000" >5.0</text>
<text x="64.30" y="397.25" font-size="17.0" font-weight="700" text-anchor="end" fill="#000" >5.5</text>
<text x="64.30" y="363.98" font-size="17.0" font-weight="700" text-anchor="end" fill="#000" >6.0</text>
<text x="90.50" y="613.4" font-size="18.2" font-weight="700" text-anchor="middle" fill="#000" letter-spacing="-0.5">10<tspan font-size="11.5" dy="-7.6" letter-spacing="0">2</tspan></text>
<text x="158.90" y="613.4" font-size="18.2" font-weight="700" text-anchor="middle" fill="#000" letter-spacing="-0.5">10<tspan font-size="11.5" dy="-7.6" letter-spacing="0">3</tspan></text>
<text x="227.30" y="613.4" font-size="18.2" font-weight="700" text-anchor="middle" fill="#000" letter-spacing="-0.5">10<tspan font-size="11.5" dy="-7.6" letter-spacing="0">4</tspan></text>
<text x="295.70" y="613.4" font-size="18.2" font-weight="700" text-anchor="middle" fill="#000" letter-spacing="-0.5">10<tspan font-size="11.5" dy="-7.6" letter-spacing="0">5</tspan></text>
<text x="364.10" y="613.4" font-size="18.2" font-weight="700" text-anchor="middle" fill="#000" letter-spacing="-0.5">10<tspan font-size="11.5" dy="-7.6" letter-spacing="0">6</tspan></text>
<text x="224.00" y="638.20" font-size="18.9" font-weight="700" text-anchor="middle" fill="#000" >Frequency (Hz)</text>
<text transform="translate(26.3,465.6) rotate(-90)" x="0" y="0" font-size="18.9" font-weight="700" text-anchor="middle" fill="#000">Dielectric Constant</text>
<polyline points="90.70,449.25 138.51,451.91 159.10,452.78 206.91,456.10 227.50,457.90 275.31,461.63 295.90,463.22 343.71,466.09 364.30,466.88" fill="none" stroke="#2ca55b" stroke-width="2.6"/>
<circle cx="90.70" cy="449.25" r="5.0" fill="url(#sbg)"/>
<circle cx="138.51" cy="451.91" r="5.0" fill="url(#sbg)"/>
<circle cx="159.10" cy="452.78" r="5.0" fill="url(#sbg)"/>
<circle cx="206.91" cy="456.10" r="5.0" fill="url(#sbg)"/>
<circle cx="227.50" cy="457.90" r="5.0" fill="url(#sbg)"/>
<circle cx="275.31" cy="461.63" r="5.0" fill="url(#sbg)"/>
<circle cx="295.90" cy="463.22" r="5.0" fill="url(#sbg)"/>
<circle cx="343.71" cy="466.09" r="5.0" fill="url(#sbg)"/>
<circle cx="364.30" cy="466.88" r="5.0" fill="url(#sbg)"/>
<polyline points="90.70,475.87 138.51,478.20 159.10,479.20 206.91,482.52 227.50,484.19 275.31,486.72 295.90,488.25 343.71,491.18 364.30,492.04" fill="none" stroke="#1b9df2" stroke-width="2.6"/>
<circle cx="90.70" cy="475.87" r="5.0" fill="url(#sbb)"/>
<circle cx="138.51" cy="478.20" r="5.0" fill="url(#sbb)"/>
<circle cx="159.10" cy="479.20" r="5.0" fill="url(#sbb)"/>
<circle cx="206.91" cy="482.52" r="5.0" fill="url(#sbb)"/>
<circle cx="227.50" cy="484.19" r="5.0" fill="url(#sbb)"/>
<circle cx="275.31" cy="486.72" r="5.0" fill="url(#sbb)"/>
<circle cx="295.90" cy="488.25" r="5.0" fill="url(#sbb)"/>
<circle cx="343.71" cy="491.18" r="5.0" fill="url(#sbb)"/>
<circle cx="364.30" cy="492.04" r="5.0" fill="url(#sbb)"/>
<polyline points="90.70,502.02 138.51,500.49 159.10,502.02 206.91,505.55 227.50,507.15 275.31,510.67 295.90,512.14 343.71,515.13 364.30,516.33" fill="none" stroke="#f03a3e" stroke-width="2.6"/>
<circle cx="90.70" cy="502.02" r="5.0" fill="url(#sbr)"/>
<circle cx="138.51" cy="500.49" r="5.0" fill="url(#sbr)"/>
<circle cx="159.10" cy="502.02" r="5.0" fill="url(#sbr)"/>
<circle cx="206.91" cy="505.55" r="5.0" fill="url(#sbr)"/>
<circle cx="227.50" cy="507.15" r="5.0" fill="url(#sbr)"/>
<circle cx="275.31" cy="510.67" r="5.0" fill="url(#sbr)"/>
<circle cx="295.90" cy="512.14" r="5.0" fill="url(#sbr)"/>
<circle cx="343.71" cy="515.13" r="5.0" fill="url(#sbr)"/>
<circle cx="364.30" cy="516.33" r="5.0" fill="url(#sbr)"/>
<polyline points="90.70,556.06 138.51,557.26 159.10,557.26 206.91,556.59 227.50,555.73 275.31,557.06 295.90,557.26 343.71,558.39 364.30,558.59" fill="none" stroke="#4a4a4a" stroke-width="2.6"/>
<circle cx="90.70" cy="556.06" r="5.0" fill="url(#sbk)"/>
<circle cx="138.51" cy="557.26" r="5.0" fill="url(#sbk)"/>
<circle cx="159.10" cy="557.26" r="5.0" fill="url(#sbk)"/>
<circle cx="206.91" cy="556.59" r="5.0" fill="url(#sbk)"/>
<circle cx="227.50" cy="555.73" r="5.0" fill="url(#sbk)"/>
<circle cx="275.31" cy="557.06" r="5.0" fill="url(#sbk)"/>
<circle cx="295.90" cy="557.26" r="5.0" fill="url(#sbk)"/>
<circle cx="343.71" cy="558.39" r="5.0" fill="url(#sbk)"/>
<circle cx="364.30" cy="558.59" r="5.0" fill="url(#sbk)"/>
<rect x="141.30" y="345.80" width="235.60" height="88.00" fill="#000"/>
<rect x="137.70" y="342.00" width="235.60" height="88.00" fill="#fff" stroke="#888" stroke-width="0.8"/>
<rect x="70.20" y="342.00" width="307.30" height="249.00" fill="none" stroke="#000" stroke-width="2"/>
<line x1="138.30" y1="354.30" x2="176.40" y2="354.30" stroke="#2ca55b" stroke-width="2.6" />
<circle cx="157.6" cy="354.30" r="5.1" fill="url(#sbg)"/>
<text x="180.00" y="359.60" font-size="15.3" font-weight="700" text-anchor="start" fill="#000" >PDMS&amp;ZnS:Cu-BT(30wt%)</text>
<line x1="138.30" y1="375.75" x2="176.40" y2="375.75" stroke="#1b9df2" stroke-width="2.6" />
<circle cx="157.6" cy="375.75" r="5.1" fill="url(#sbb)"/>
<text x="180.00" y="381.05" font-size="15.3" font-weight="700" text-anchor="start" fill="#000" >PDMS&amp;ZnS:Cu-BT(20wt%)</text>
<line x1="138.30" y1="397.20" x2="176.40" y2="397.20" stroke="#f03a3e" stroke-width="2.6" />
<circle cx="157.6" cy="397.20" r="5.1" fill="url(#sbr)"/>
<text x="180.00" y="402.50" font-size="15.3" font-weight="700" text-anchor="start" fill="#000" >PDMS&amp;ZnS:Cu-BT(10wt%)</text>
<line x1="138.30" y1="418.65" x2="176.40" y2="418.65" stroke="#4a4a4a" stroke-width="2.6" />
<circle cx="157.6" cy="418.65" r="5.1" fill="url(#sbk)"/>
<text x="180.00" y="423.95" font-size="15.3" font-weight="700" text-anchor="start" fill="#000" >PDMS</text>
<line x1="475.50" y1="592.60" x2="480.00" y2="592.60" stroke="#000" stroke-width="1.6" />
<line x1="475.50" y1="559.35" x2="480.00" y2="559.35" stroke="#000" stroke-width="1.6" />
<line x1="475.50" y1="526.10" x2="480.00" y2="526.10" stroke="#000" stroke-width="1.6" />
<line x1="475.50" y1="492.85" x2="480.00" y2="492.85" stroke="#000" stroke-width="1.6" />
<line x1="475.50" y1="459.60" x2="480.00" y2="459.60" stroke="#000" stroke-width="1.6" />
<line x1="475.50" y1="426.35" x2="480.00" y2="426.35" stroke="#000" stroke-width="1.6" />
<line x1="475.50" y1="393.10" x2="480.00" y2="393.10" stroke="#000" stroke-width="1.6" />
<line x1="475.50" y1="359.85" x2="480.00" y2="359.85" stroke="#000" stroke-width="1.6" />
<line x1="475.50" y1="575.98" x2="478.00" y2="575.98" stroke="#000" stroke-width="1.6" />
<line x1="475.50" y1="542.73" x2="478.00" y2="542.73" stroke="#000" stroke-width="1.6" />
<line x1="475.50" y1="509.48" x2="478.00" y2="509.48" stroke="#000" stroke-width="1.6" />
<line x1="475.50" y1="476.23" x2="478.00" y2="476.23" stroke="#000" stroke-width="1.6" />
<line x1="475.50" y1="442.98" x2="478.00" y2="442.98" stroke="#000" stroke-width="1.6" />
<line x1="475.50" y1="409.73" x2="478.00" y2="409.73" stroke="#000" stroke-width="1.6" />
<line x1="475.50" y1="376.48" x2="478.00" y2="376.48" stroke="#000" stroke-width="1.6" />
<line x1="475.50" y1="592.60" x2="475.50" y2="588.10" stroke="#000" stroke-width="1.6" />
<line x1="531.40" y1="592.60" x2="531.40" y2="588.10" stroke="#000" stroke-width="1.6" />
<line x1="587.30" y1="592.60" x2="587.30" y2="588.10" stroke="#000" stroke-width="1.6" />
<line x1="643.20" y1="592.60" x2="643.20" y2="588.10" stroke="#000" stroke-width="1.6" />
<line x1="699.10" y1="592.60" x2="699.10" y2="588.10" stroke="#000" stroke-width="1.6" />
<line x1="755.00" y1="592.60" x2="755.00" y2="588.10" stroke="#000" stroke-width="1.6" />
<line x1="503.45" y1="592.60" x2="503.45" y2="590.10" stroke="#000" stroke-width="1.6" />
<line x1="559.35" y1="592.60" x2="559.35" y2="590.10" stroke="#000" stroke-width="1.6" />
<line x1="615.25" y1="592.60" x2="615.25" y2="590.10" stroke="#000" stroke-width="1.6" />
<line x1="671.15" y1="592.60" x2="671.15" y2="590.10" stroke="#000" stroke-width="1.6" />
<line x1="727.05" y1="592.60" x2="727.05" y2="590.10" stroke="#000" stroke-width="1.6" />
<text x="469.50" y="598.50" font-size="17.0" font-weight="700" text-anchor="end" fill="#000" >0</text>
<text x="469.50" y="565.25" font-size="17.0" font-weight="700" text-anchor="end" fill="#000" >10</text>
<text x="469.50" y="532.00" font-size="17.0" font-weight="700" text-anchor="end" fill="#000" >20</text>
<text x="469.50" y="498.75" font-size="17.0" font-weight="700" text-anchor="end" fill="#000" >30</text>
<text x="469.50" y="465.50" font-size="17.0" font-weight="700" text-anchor="end" fill="#000" >40</text>
<text x="469.50" y="432.25" font-size="17.0" font-weight="700" text-anchor="end" fill="#000" >50</text>
<text x="469.50" y="399.00" font-size="17.0" font-weight="700" text-anchor="end" fill="#000" >60</text>
<text x="469.50" y="365.75" font-size="17.0" font-weight="700" text-anchor="end" fill="#000" >70</text>
<text x="475.50" y="612.90" font-size="17.0" font-weight="700" text-anchor="middle" fill="#000" >0</text>
<text x="531.40" y="612.90" font-size="17.0" font-weight="700" text-anchor="middle" fill="#000" >10</text>
<text x="587.30" y="612.90" font-size="17.0" font-weight="700" text-anchor="middle" fill="#000" >20</text>
<text x="643.20" y="612.90" font-size="17.0" font-weight="700" text-anchor="middle" fill="#000" >30</text>
<text x="699.10" y="612.90" font-size="17.0" font-weight="700" text-anchor="middle" fill="#000" >40</text>
<text x="755.00" y="612.90" font-size="17.0" font-weight="700" text-anchor="middle" fill="#000" >50</text>
<text x="628.50" y="637.50" font-size="18.9" font-weight="700" text-anchor="middle" fill="#000" >Strain (%)</text>
<text transform="translate(434.3,468.6) rotate(-90)" font-size="18.9" font-weight="700" text-anchor="middle" fill="#000">ΔC/C<tspan font-size="12" dy="4">0</tspan><tspan dy="-4"> (%)</tspan></text>
<g clip-path="url(#cpc)">
<line x1="472.5" y1="594.11" x2="753.6" y2="433.60" stroke="#0a7a0a" stroke-width="9.5" stroke-linecap="round"/>
<line x1="472.5" y1="594.53" x2="753.6" y2="451.00" stroke="#ff1010" stroke-width="9.5" stroke-linecap="round"/>
<line x1="472.5" y1="595.53" x2="753.6" y2="461.10" stroke="#4d4d4d" stroke-width="9.5" stroke-linecap="round"/>
<line x1="472.5" y1="593.00" x2="753.6" y2="442.90" stroke="#00a2ff" stroke-width="9.5" stroke-linecap="round"/>
</g>
<circle cx="753.2" cy="432.20" r="1.7" fill="#fff" opacity="0.9"/>
<circle cx="753.2" cy="449.60" r="1.7" fill="#fff" opacity="0.9"/>
<circle cx="753.2" cy="459.70" r="1.7" fill="#fff" opacity="0.9"/>
<circle cx="753.2" cy="441.50" r="1.7" fill="#fff" opacity="0.9"/>
<rect x="562.40" y="346.90" width="220.40" height="76.20" fill="#000"/>
<rect x="558.80" y="343.10" width="220.40" height="76.20" fill="#fff" stroke="#888" stroke-width="0.8"/>
<rect x="475.50" y="343.10" width="307.70" height="249.50" fill="none" stroke="#000" stroke-width="2"/>
<line x1="559.30" y1="355.70" x2="587.00" y2="355.70" stroke="#0a7a0a" stroke-width="2.6" />
<circle cx="573.1" cy="355.70" r="5.1" fill="url(#sc0)"/>
<text x="591.00" y="360.90" font-size="14.75" font-weight="700" text-anchor="start" fill="#000" >PDMS&amp;ZnS:Cu-BT(30wt%)</text>
<line x1="559.30" y1="374.50" x2="587.00" y2="374.50" stroke="#00a2ff" stroke-width="2.6" />
<circle cx="573.1" cy="374.50" r="5.1" fill="url(#sc1)"/>
<text x="591.00" y="379.70" font-size="14.75" font-weight="700" text-anchor="start" fill="#000" >PDMS&amp;ZnS:Cu-BT(20wt%)</text>
<line x1="559.30" y1="393.30" x2="587.00" y2="393.30" stroke="#ff1010" stroke-width="2.6" />
<circle cx="573.1" cy="393.30" r="5.1" fill="url(#sc2)"/>
<text x="591.00" y="398.50" font-size="14.75" font-weight="700" text-anchor="start" fill="#000" >PDMS&amp;ZnS:Cu-BT(10wt%)</text>
<line x1="559.30" y1="412.10" x2="587.00" y2="412.10" stroke="#4d4d4d" stroke-width="2.6" />
<circle cx="573.1" cy="412.10" r="5.1" fill="url(#sc3)"/>
<text x="591.00" y="417.30" font-size="14.75" font-weight="700" text-anchor="start" fill="#000" >PDMS</text>
<line x1="70.30" y1="903.70" x2="74.80" y2="903.70" stroke="#000" stroke-width="1.6" />
<line x1="70.30" y1="861.01" x2="74.80" y2="861.01" stroke="#000" stroke-width="1.6" />
<line x1="70.30" y1="818.32" x2="74.80" y2="818.32" stroke="#000" stroke-width="1.6" />
<line x1="70.30" y1="775.63" x2="74.80" y2="775.63" stroke="#000" stroke-width="1.6" />
<line x1="70.30" y1="732.94" x2="74.80" y2="732.94" stroke="#000" stroke-width="1.6" />
<line x1="70.30" y1="690.25" x2="74.80" y2="690.25" stroke="#000" stroke-width="1.6" />
<line x1="70.30" y1="882.36" x2="72.80" y2="882.36" stroke="#000" stroke-width="1.6" />
<line x1="70.30" y1="839.67" x2="72.80" y2="839.67" stroke="#000" stroke-width="1.6" />
<line x1="70.30" y1="796.98" x2="72.80" y2="796.98" stroke="#000" stroke-width="1.6" />
<line x1="70.30" y1="754.29" x2="72.80" y2="754.29" stroke="#000" stroke-width="1.6" />
<line x1="70.30" y1="711.60" x2="72.80" y2="711.60" stroke="#000" stroke-width="1.6" />
<line x1="100.60" y1="918.30" x2="100.60" y2="913.80" stroke="#000" stroke-width="1.6" />
<line x1="162.10" y1="918.30" x2="162.10" y2="913.80" stroke="#000" stroke-width="1.6" />
<line x1="223.60" y1="918.30" x2="223.60" y2="913.80" stroke="#000" stroke-width="1.6" />
<line x1="285.10" y1="918.30" x2="285.10" y2="913.80" stroke="#000" stroke-width="1.6" />
<line x1="346.60" y1="918.30" x2="346.60" y2="913.80" stroke="#000" stroke-width="1.6" />
<line x1="131.35" y1="918.30" x2="131.35" y2="915.80" stroke="#000" stroke-width="1.6" />
<line x1="192.85" y1="918.30" x2="192.85" y2="915.80" stroke="#000" stroke-width="1.6" />
<line x1="254.35" y1="918.30" x2="254.35" y2="915.80" stroke="#000" stroke-width="1.6" />
<line x1="315.85" y1="918.30" x2="315.85" y2="915.80" stroke="#000" stroke-width="1.6" />
<text x="64.00" y="909.60" font-size="17.0" font-weight="700" text-anchor="end" fill="#000" >0.0</text>
<text x="64.00" y="866.91" font-size="17.0" font-weight="700" text-anchor="end" fill="#000" >0.3</text>
<text x="64.00" y="824.22" font-size="17.0" font-weight="700" text-anchor="end" fill="#000" >0.6</text>
<text x="64.00" y="781.53" font-size="17.0" font-weight="700" text-anchor="end" fill="#000" >0.9</text>
<text x="64.00" y="738.84" font-size="17.0" font-weight="700" text-anchor="end" fill="#000" >1.2</text>
<text x="64.00" y="696.15" font-size="17.0" font-weight="700" text-anchor="end" fill="#000" >1.5</text>
<text x="100.60" y="937.80" font-size="17.0" font-weight="700" text-anchor="middle" fill="#000" >0</text>
<text x="162.10" y="937.80" font-size="17.0" font-weight="700" text-anchor="middle" fill="#000" >10</text>
<text x="223.60" y="937.80" font-size="17.0" font-weight="700" text-anchor="middle" fill="#000" >20</text>
<text x="285.10" y="937.80" font-size="17.0" font-weight="700" text-anchor="middle" fill="#000" >30</text>
<text x="346.60" y="937.80" font-size="17.0" font-weight="700" text-anchor="middle" fill="#000" >40</text>
<text x="224.00" y="962.00" font-size="18.9" font-weight="700" text-anchor="middle" fill="#000" >Strain (%)</text>
<text transform="translate(25.3,792.6) rotate(-90)" font-size="18.9" font-weight="700" text-anchor="middle" fill="#000">Intensity (a.u.)</text>
<polyline points="100.60,903.70 102.09,903.73 103.95,903.80 106.13,903.89 108.57,904.01 111.23,904.12 114.05,904.22 116.98,904.29 119.96,904.31 122.94,904.28 125.87,904.18 128.69,903.99 131.35,903.70 133.91,903.32 136.47,902.86 139.04,902.33 141.60,901.74 144.16,901.09 146.72,900.39 149.29,899.65 151.85,898.86 154.41,898.04 156.97,897.20 159.54,896.33 162.10,895.45 164.66,894.54 167.22,893.59 169.79,892.61 172.35,891.59 174.91,890.54 177.47,889.45 180.04,888.34 182.60,887.19 185.16,886.02 187.72,884.82 190.29,883.60 192.85,882.36 195.41,881.04 197.97,879.61 200.54,878.10 203.10,876.54 205.66,874.95 208.22,873.35 210.79,871.79 213.35,870.28 215.91,868.84 218.47,867.51 221.04,866.32 223.60,865.28 226.16,864.40 228.72,863.65 231.29,863.01 233.85,862.46 236.41,861.99 238.97,861.59 241.54,861.23 244.10,860.90 246.66,860.59 249.22,860.28 251.79,859.95 254.35,859.59 256.91,859.21 259.48,858.86 262.04,858.53 264.60,858.21 267.16,857.91 269.73,857.62 272.29,857.34 274.85,857.07 277.41,856.81 279.98,856.55 282.54,856.29 285.10,856.03 287.66,855.78 290.23,855.53 292.79,855.30 295.35,855.08 297.91,854.86 300.48,854.64 303.04,854.43 305.60,854.22 308.16,854.00 310.73,853.78 313.29,853.56 315.85,853.33 318.51,853.08 321.33,852.81 324.26,852.53 327.24,852.24 330.22,851.95 333.15,851.66 335.97,851.39 338.63,851.12 341.07,850.88 343.25,850.67 345.11,850.48 346.60,850.34" fill="none" stroke="#4a4a4a" stroke-width="2.3"/>
<polyline points="100.60,903.61 102.14,903.59 103.67,903.58 105.21,903.56 106.75,903.54 108.29,903.52 109.82,903.49 111.36,903.46 112.90,903.43 114.44,903.39 115.97,903.34 117.51,903.29 119.05,903.24 120.59,903.17 122.12,903.10 123.66,903.01 125.20,902.92 126.74,902.80 128.28,902.68 129.81,902.54 131.35,902.37 132.89,902.19 134.43,901.98 135.96,901.73 137.50,901.46 139.04,901.15 140.57,900.80 142.11,900.40 143.65,899.94 145.19,899.43 146.72,898.85 148.26,898.19 149.80,897.45 151.34,896.61 152.88,895.67 154.41,894.61 155.95,893.43 157.49,892.11 159.03,890.63 160.56,889.00 162.10,887.18 163.64,885.18 165.18,882.99 166.71,880.59 168.25,877.98 169.79,875.15 171.32,872.11 172.86,868.86 174.40,865.41 175.94,861.77 177.47,857.97 179.01,854.02 180.55,849.96 182.09,845.81 183.62,841.61 185.16,837.40 186.70,833.21 188.24,829.08 189.78,825.04 191.31,821.13 192.85,817.37 194.39,813.79 195.93,810.39 197.46,807.20 199.00,804.22 200.54,801.46 202.07,798.90 203.61,796.56 205.15,794.42 206.69,792.47 208.22,790.71 209.76,789.12 211.30,787.69 212.84,786.41 214.38,785.26 215.91,784.24 217.45,783.33 218.99,782.52 220.53,781.80 222.06,781.17 223.60,780.60 225.14,780.11 226.68,779.67 228.21,779.28 229.75,778.94 231.29,778.64 232.82,778.38 234.36,778.15 235.90,777.94 237.44,777.76 238.97,777.61 240.51,777.47 242.05,777.35 243.59,777.24 245.12,777.15 246.66,777.06 248.20,776.99 249.74,776.93 251.28,776.87 252.81,776.83 254.35,776.78 255.89,776.75 257.43,776.71 258.96,776.69 260.50,776.66 262.04,776.64 263.58,776.62 265.11,776.60 266.65,776.59 268.19,776.58 269.73,776.56 271.26,776.55 272.80,776.55 274.34,776.54 275.88,776.53 277.41,776.53 278.95,776.52 280.49,776.52 282.02,776.51 283.56,776.51 285.10,776.51 286.64,776.50 288.18,776.50 289.71,776.50 291.25,776.50 292.79,776.49 294.33,776.49 295.86,776.49 297.40,776.49 298.94,776.49 300.48,776.49 302.01,776.49 303.55,776.49 305.09,776.49 306.62,776.49 308.16,776.49 309.70,776.49 311.24,776.49 312.77,776.49 314.31,776.49 315.85,776.49 317.39,776.49 318.93,776.48 320.46,776.48 322.00,776.48 323.54,776.48 325.08,776.48 326.61,776.48 328.15,776.48 329.69,776.48 331.23,776.48 332.76,776.48 334.30,776.48 335.84,776.48 337.38,776.48 338.91,776.48 340.45,776.48 341.99,776.48 343.52,776.48 345.06,776.48 346.60,776.48" fill="none" stroke="#ef3b3f" stroke-width="2.3"/>
<polyline points="100.60,903.58 102.14,903.56 103.67,903.55 105.21,903.53 106.75,903.52 108.29,903.50 109.82,903.47 111.36,903.45 112.90,903.43 114.44,903.40 115.97,903.36 117.51,903.33 119.05,903.29 120.59,903.25 122.12,903.20 123.66,903.15 125.20,903.09 126.74,903.03 128.28,902.96 129.81,902.88 131.35,902.80 132.89,902.70 134.43,902.60 135.96,902.49 137.50,902.36 139.04,902.22 140.57,902.07 142.11,901.90 143.65,901.71 145.19,901.51 146.72,901.29 148.26,901.04 149.80,900.77 151.34,900.47 152.88,900.14 154.41,899.78 155.95,899.38 157.49,898.95 159.03,898.47 160.56,897.95 162.10,897.38 163.64,896.76 165.18,896.07 166.71,895.33 168.25,894.52 169.79,893.64 171.32,892.68 172.86,891.64 174.40,890.52 175.94,889.30 177.47,887.99 179.01,886.57 180.55,885.05 182.09,883.43 183.62,881.69 185.16,879.84 186.70,877.87 188.24,875.79 189.78,873.59 191.31,871.28 192.85,868.86 194.39,866.34 195.93,863.72 197.46,861.00 199.00,858.21 200.54,855.35 202.07,852.42 203.61,849.46 205.15,846.46 206.69,843.44 208.22,840.43 209.76,837.42 211.30,834.44 212.84,831.51 214.38,828.63 215.91,825.82 217.45,823.09 218.99,820.44 220.53,817.89 222.06,815.45 223.60,813.11 225.14,810.89 226.68,808.78 228.21,806.78 229.75,804.90 231.29,803.14 232.82,801.49 234.36,799.94 235.90,798.50 237.44,797.17 238.97,795.93 240.51,794.78 242.05,793.72 243.59,792.74 245.12,791.85 246.66,791.02 248.20,790.26 249.74,789.56 251.28,788.93 252.81,788.34 254.35,787.81 255.89,787.32 257.43,786.88 258.96,786.47 260.50,786.10 262.04,785.77 263.58,785.46 265.11,785.18 266.65,784.93 268.19,784.70 269.73,784.49 271.26,784.30 272.80,784.13 274.34,783.97 275.88,783.83 277.41,783.70 278.95,783.59 280.49,783.48 282.02,783.38 283.56,783.30 285.10,783.22 286.64,783.15 288.18,783.08 289.71,783.02 291.25,782.97 292.79,782.92 294.33,782.88 295.86,782.84 297.40,782.80 298.94,782.77 300.48,782.74 302.01,782.72 303.55,782.69 305.09,782.67 306.62,782.65 308.16,782.63 309.70,782.62 311.24,782.60 312.77,782.59 314.31,782.58 315.85,782.56 317.39,782.55 318.93,782.55 320.46,782.54 322.00,782.53 323.54,782.52 325.08,782.52 326.61,782.51 328.15,782.51 329.69,782.50 331.23,782.50 332.76,782.50 334.30,782.49 335.84,782.49 337.38,782.49 338.91,782.48 340.45,782.48 341.99,782.48 343.52,782.48 345.06,782.48 346.60,782.47" fill="none" stroke="#1a9bf5" stroke-width="2.3"/>
<polyline points="100.60,903.48 102.14,903.47 103.67,903.45 105.21,903.42 106.75,903.40 108.29,903.38 109.82,903.35 111.36,903.32 112.90,903.29 114.44,903.26 115.97,903.22 117.51,903.18 119.05,903.14 120.59,903.09 122.12,903.05 123.66,902.99 125.20,902.93 126.74,902.87 128.28,902.80 129.81,902.73 131.35,902.65 132.89,902.57 134.43,902.47 135.96,902.37 137.50,902.27 139.04,902.15 140.57,902.02 142.11,901.89 143.65,901.74 145.19,901.58 146.72,901.41 148.26,901.23 149.80,901.03 151.34,900.81 152.88,900.58 154.41,900.33 155.95,900.06 157.49,899.77 159.03,899.46 160.56,899.12 162.10,898.76 163.64,898.37 165.18,897.95 166.71,897.50 168.25,897.02 169.79,896.50 171.32,895.95 172.86,895.35 174.40,894.72 175.94,894.04 177.47,893.31 179.01,892.53 180.55,891.70 182.09,890.82 183.62,889.87 185.16,888.87 186.70,887.81 188.24,886.68 189.78,885.49 191.31,884.23 192.85,882.90 194.39,881.50 195.93,880.02 197.46,878.47 199.00,876.85 200.54,875.15 202.07,873.39 203.61,871.54 205.15,869.63 206.69,867.65 208.22,865.61 209.76,863.50 211.30,861.33 212.84,859.11 214.38,856.84 215.91,854.53 217.45,852.18 218.99,849.80 220.53,847.40 222.06,844.99 223.60,842.56 225.14,840.14 226.68,837.72 228.21,835.32 229.75,832.93 231.29,830.58 232.82,828.26 234.36,825.99 235.90,823.76 237.44,821.58 238.97,819.47 240.51,817.41 242.05,815.42 243.59,813.49 245.12,811.64 246.66,809.86 248.20,808.15 249.74,806.52 251.28,804.96 252.81,803.47 254.35,802.06 255.89,800.72 257.43,799.44 258.96,798.24 260.50,797.10 262.04,796.03 263.58,795.02 265.11,794.07 266.65,793.18 268.19,792.34 269.73,791.55 271.26,790.82 272.80,790.13 274.34,789.48 275.88,788.88 277.41,788.32 278.95,787.80 280.49,787.31 282.02,786.85 283.56,786.43 285.10,786.04 286.64,785.67 288.18,785.33 289.71,785.02 291.25,784.72 292.79,784.45 294.33,784.20 295.86,783.96 297.40,783.74 298.94,783.54 300.48,783.36 302.01,783.18 303.55,783.02 305.09,782.87 306.62,782.74 308.16,782.61 309.70,782.49 311.24,782.38 312.77,782.28 314.31,782.19 315.85,782.10 317.39,782.02 318.93,781.95 320.46,781.88 322.00,781.81 323.54,781.75 325.08,781.70 326.61,781.65 328.15,781.60 329.69,781.56 331.23,781.52 332.76,781.48 334.30,781.45 335.84,781.42 337.38,781.39 338.91,781.36 340.45,781.34 341.99,781.32 343.52,781.29 345.06,781.28 346.60,781.26" fill="none" stroke="#2aa25c" stroke-width="2.3"/>
<rect x="96.20" y="899.30" width="8.8" height="8.8" fill="#4a4a4a"/>
<rect x="126.95" y="899.30" width="8.8" height="8.8" fill="#4a4a4a"/>
<rect x="157.70" y="891.05" width="8.8" height="8.8" fill="#4a4a4a"/>
<rect x="188.45" y="877.96" width="8.8" height="8.8" fill="#4a4a4a"/>
<rect x="219.20" y="860.88" width="8.8" height="8.8" fill="#4a4a4a"/>
<rect x="249.95" y="855.19" width="8.8" height="8.8" fill="#4a4a4a"/>
<rect x="280.70" y="851.63" width="8.8" height="8.8" fill="#4a4a4a"/>
<rect x="311.45" y="848.93" width="8.8" height="8.8" fill="#4a4a4a"/>
<rect x="342.20" y="845.94" width="8.8" height="8.8" fill="#4a4a4a"/>
<circle cx="100.60" cy="903.70" r="5.3" fill="#ef3b3f"/>
<circle cx="131.35" cy="903.70" r="5.3" fill="#ef3b3f"/>
<circle cx="162.10" cy="887.19" r="5.3" fill="#ef3b3f"/>
<circle cx="192.85" cy="817.18" r="5.3" fill="#ef3b3f"/>
<circle cx="223.60" cy="781.46" r="5.3" fill="#ef3b3f"/>
<circle cx="254.35" cy="776.91" r="5.3" fill="#ef3b3f"/>
<circle cx="285.10" cy="776.20" r="5.3" fill="#ef3b3f"/>
<circle cx="315.85" cy="776.20" r="5.3" fill="#ef3b3f"/>
<circle cx="346.60" cy="776.20" r="5.3" fill="#ef3b3f"/>
<polygon points="100.60,897.70 106.80,908.30 94.40,908.30" fill="#1a9bf5"/>
<polygon points="131.35,897.70 137.55,908.30 125.15,908.30" fill="#1a9bf5"/>
<polygon points="162.10,896.28 168.30,906.88 155.90,906.88" fill="#1a9bf5"/>
<polygon points="192.85,861.27 199.05,871.87 186.65,871.87" fill="#1a9bf5"/>
<polygon points="223.60,806.63 229.80,817.23 217.40,817.23" fill="#1a9bf5"/>
<polygon points="254.35,785.99 260.55,796.59 248.15,796.59" fill="#1a9bf5"/>
<polygon points="285.10,777.31 291.30,787.91 278.90,787.91" fill="#1a9bf5"/>
<polygon points="315.85,774.75 322.05,785.35 309.65,785.35" fill="#1a9bf5"/>
<polygon points="346.60,774.75 352.80,785.35 340.40,785.35" fill="#1a9bf5"/>
<polygon points="100.60,909.70 106.80,899.10 94.40,899.10" fill="#2aa25c"/>
<polygon points="131.35,909.70 137.55,899.10 125.15,899.10" fill="#2aa25c"/>
<polygon points="162.10,908.28 168.30,897.68 155.90,897.68" fill="#2aa25c"/>
<polygon points="192.85,888.36 199.05,877.75 186.65,877.75" fill="#2aa25c"/>
<polygon points="223.60,847.66 229.80,837.06 217.40,837.06" fill="#2aa25c"/>
<polygon points="254.35,808.52 260.55,797.92 248.15,797.92" fill="#2aa25c"/>
<polygon points="285.10,794.44 291.30,783.84 278.90,783.84" fill="#2aa25c"/>
<polygon points="315.85,787.46 322.05,776.86 309.65,776.86" fill="#2aa25c"/>
<polygon points="346.60,785.61 352.80,775.01 340.40,775.01" fill="#2aa25c"/>
<rect x="246.20" y="672.20" width="130.90" height="91.50" fill="#000"/>
<rect x="242.60" y="668.40" width="130.90" height="91.50" fill="#fff" stroke="#888" stroke-width="0.8"/>
<rect x="70.30" y="668.40" width="307.30" height="249.90" fill="none" stroke="#000" stroke-width="2"/>
<line x1="243.90" y1="681.70" x2="284.80" y2="681.70" stroke="#4a4a4a" stroke-width="2.4" />
<rect x="259.70" y="677.30" width="8.8" height="8.8" fill="#4a4a4a"/>
<text x="288.60" y="687.80" font-size="17.6" font-weight="700" text-anchor="start" fill="#000" >0%wt BT</text>
<line x1="243.90" y1="703.93" x2="284.80" y2="703.93" stroke="#ef3b3f" stroke-width="2.4" />
<circle cx="264.10" cy="703.93" r="5.3" fill="#ef3b3f"/>
<text x="288.60" y="710.03" font-size="17.6" font-weight="700" text-anchor="start" fill="#000" >10%wt BT</text>
<line x1="243.90" y1="726.16" x2="284.80" y2="726.16" stroke="#1a9bf5" stroke-width="2.4" />
<polygon points="264.10,720.16 270.30,730.76 257.90,730.76" fill="#1a9bf5"/>
<text x="288.60" y="732.26" font-size="17.6" font-weight="700" text-anchor="start" fill="#000" >20%wt BT</text>
<line x1="243.90" y1="748.39" x2="284.80" y2="748.39" stroke="#2aa25c" stroke-width="2.4" />
<polygon points="264.10,754.39 270.30,743.79 257.90,743.79" fill="#2aa25c"/>
<text x="288.60" y="754.49" font-size="17.6" font-weight="700" text-anchor="start" fill="#000" >30%wt BT</text>
<line x1="477.60" y1="894.10" x2="482.10" y2="894.10" stroke="#000" stroke-width="1.6" />
<line x1="477.60" y1="844.10" x2="482.10" y2="844.10" stroke="#000" stroke-width="1.6" />
<line x1="477.60" y1="794.10" x2="482.10" y2="794.10" stroke="#000" stroke-width="1.6" />
<line x1="477.60" y1="744.10" x2="482.10" y2="744.10" stroke="#000" stroke-width="1.6" />
<line x1="477.60" y1="694.10" x2="482.10" y2="694.10" stroke="#000" stroke-width="1.6" />
<line x1="477.60" y1="869.10" x2="480.10" y2="869.10" stroke="#000" stroke-width="1.6" />
<line x1="477.60" y1="819.10" x2="480.10" y2="819.10" stroke="#000" stroke-width="1.6" />
<line x1="477.60" y1="769.10" x2="480.10" y2="769.10" stroke="#000" stroke-width="1.6" />
<line x1="477.60" y1="719.10" x2="480.10" y2="719.10" stroke="#000" stroke-width="1.6" />
<line x1="499.60" y1="919.10" x2="499.60" y2="914.60" stroke="#000" stroke-width="1.6" />
<line x1="543.50" y1="919.10" x2="543.50" y2="914.60" stroke="#000" stroke-width="1.6" />
<line x1="587.40" y1="919.10" x2="587.40" y2="914.60" stroke="#000" stroke-width="1.6" />
<line x1="631.30" y1="919.10" x2="631.30" y2="914.60" stroke="#000" stroke-width="1.6" />
<line x1="675.20" y1="919.10" x2="675.20" y2="914.60" stroke="#000" stroke-width="1.6" />
<line x1="719.10" y1="919.10" x2="719.10" y2="914.60" stroke="#000" stroke-width="1.6" />
<line x1="763.00" y1="919.10" x2="763.00" y2="914.60" stroke="#000" stroke-width="1.6" />
<line x1="521.55" y1="919.10" x2="521.55" y2="916.60" stroke="#000" stroke-width="1.6" />
<line x1="565.45" y1="919.10" x2="565.45" y2="916.60" stroke="#000" stroke-width="1.6" />
<line x1="609.35" y1="919.10" x2="609.35" y2="916.60" stroke="#000" stroke-width="1.6" />
<line x1="653.25" y1="919.10" x2="653.25" y2="916.60" stroke="#000" stroke-width="1.6" />
<line x1="697.15" y1="919.10" x2="697.15" y2="916.60" stroke="#000" stroke-width="1.6" />
<line x1="741.05" y1="919.10" x2="741.05" y2="916.60" stroke="#000" stroke-width="1.6" />
<text x="471.30" y="900.00" font-size="17.0" font-weight="700" text-anchor="end" fill="#000" >0.2</text>
<text x="471.30" y="850.00" font-size="17.0" font-weight="700" text-anchor="end" fill="#000" >0.4</text>
<text x="471.30" y="800.00" font-size="17.0" font-weight="700" text-anchor="end" fill="#000" >0.6</text>
<text x="471.30" y="750.00" font-size="17.0" font-weight="700" text-anchor="end" fill="#000" >0.8</text>
<text x="471.30" y="700.00" font-size="17.0" font-weight="700" text-anchor="end" fill="#000" >1.0</text>
<text x="499.60" y="937.80" font-size="17.0" font-weight="700" text-anchor="middle" fill="#000" >0</text>
<text x="543.50" y="937.80" font-size="17.0" font-weight="700" text-anchor="middle" fill="#000" >5</text>
<text x="587.40" y="937.80" font-size="17.0" font-weight="700" text-anchor="middle" fill="#000" >10</text>
<text x="631.30" y="937.80" font-size="17.0" font-weight="700" text-anchor="middle" fill="#000" >15</text>
<text x="675.20" y="937.80" font-size="17.0" font-weight="700" text-anchor="middle" fill="#000" >20</text>
<text x="719.10" y="937.80" font-size="17.0" font-weight="700" text-anchor="middle" fill="#000" >25</text>
<text x="763.00" y="937.80" font-size="17.0" font-weight="700" text-anchor="middle" fill="#000" >30</text>
<text x="631.50" y="962.00" font-size="18.9" font-weight="700" text-anchor="middle" fill="#000" >Proportion of BT (%)</text>
<text transform="translate(433.3,794.0) rotate(-90)" font-size="18.9" font-weight="700" text-anchor="middle" fill="#000">Intensity (a.u.)</text>
<polyline points="499.60,876.10 500.67,874.17 502.03,871.73 503.65,868.86 505.46,865.64 507.42,862.14 509.47,858.43 511.57,854.58 513.65,850.68 515.68,846.80 517.60,843.00 519.45,839.18 521.32,835.18 523.21,831.05 525.10,826.83 527.00,822.55 528.90,818.25 530.81,813.97 532.71,809.74 534.61,805.60 536.50,801.60 538.38,797.67 540.27,793.73 542.15,789.80 544.03,785.91 545.91,782.08 547.78,778.33 549.66,774.67 551.54,771.13 553.42,767.74 555.30,764.50 557.21,761.38 559.15,758.32 561.12,755.36 563.09,752.50 565.05,749.76 566.98,747.17 568.87,744.74 570.70,742.49 572.45,740.43 574.10,738.60 575.66,737.02 577.16,735.70 578.59,734.59 579.97,733.67 581.29,732.91 582.56,732.25 583.80,731.68 584.99,731.16 586.16,730.64 587.30,730.10 588.39,729.57 589.39,729.10 590.34,728.69 591.24,728.34 592.12,728.05 592.99,727.81 593.86,727.62 594.76,727.47 595.70,727.36 596.70,727.30 597.74,727.26 598.78,727.22 599.83,727.21 600.91,727.25 602.00,727.34 603.12,727.50 604.28,727.75 605.47,728.11 606.71,728.59 608.00,729.20 609.33,729.95 610.70,730.81 612.11,731.79 613.55,732.86 615.03,734.03 616.55,735.29 618.10,736.62 619.70,738.02 621.33,739.48 623.00,741.00 624.73,742.62 626.52,744.37 628.36,746.23 630.24,748.18 632.16,750.17 634.09,752.20 636.03,754.22 637.97,756.21 639.90,758.15 641.80,760.00 643.71,761.82 645.65,763.66 647.62,765.51 649.59,767.34 651.56,769.14 653.50,770.89 655.39,772.57 657.24,774.16 659.01,775.64 660.70,777.00 662.16,778.15 663.31,779.05 664.28,779.77 665.16,780.40 666.06,780.98 667.08,781.60 668.35,782.32 669.95,783.22 672.00,784.35 674.60,785.80 677.81,787.56 681.53,789.58 685.69,791.80 690.18,794.19 694.92,796.69 699.80,799.28 704.75,801.89 709.66,804.50 714.44,807.05 719.00,809.50 723.61,812.00 728.53,814.68 733.62,817.46 738.74,820.27 743.77,823.03 748.59,825.68 753.05,828.13 757.02,830.32 760.38,832.16 763.00,833.60" fill="none" stroke="#000" stroke-width="2.4" stroke-linejoin="round"/>
<circle cx="499.6" cy="876.1" r="4.9" fill="url(#se)"/>
<circle cx="587.3" cy="730.1" r="4.9" fill="url(#se)"/>
<circle cx="674.6" cy="785.8" r="4.9" fill="url(#se)"/>
<circle cx="763.0" cy="833.6" r="4.9" fill="url(#se)"/>
<rect x="568.60" y="673.10" width="216.40" height="47.10" fill="#000"/>
<rect x="565.00" y="669.30" width="216.40" height="47.10" fill="#fff" stroke="#888" stroke-width="0.8"/>
<rect x="477.60" y="669.30" width="307.60" height="249.80" fill="none" stroke="#000" stroke-width="2"/>
<text x="566.00" y="688.70" font-size="17.6" font-weight="700" text-anchor="start" fill="#000" >Effect of BT on luminous</text>
<text x="566.00" y="710.80" font-size="17.6" font-weight="700" text-anchor="start" fill="#000" >intensity (20% strain)</text>
</svg></body></html>
